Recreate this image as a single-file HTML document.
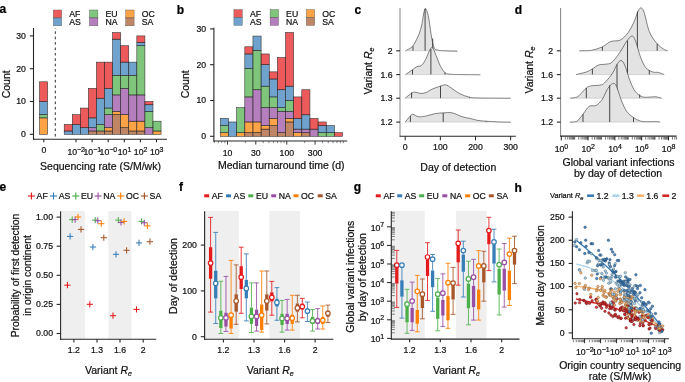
<!DOCTYPE html>
<html><head><meta charset="utf-8"><style>
html,body{margin:0;padding:0;background:#fff;width:685px;height:382px;overflow:hidden}
svg{display:block;font-family:"Liberation Sans",sans-serif;will-change:transform}
</style></head><body>
<svg width="685" height="382" viewBox="0 0 685 382">
<text x="-0.4" y="12.7" font-size="12" text-anchor="start" font-weight="bold" fill="#000" stroke="#000" stroke-width="0.22" >a</text>
<rect x="64.2" y="131.02" width="8.07" height="3.28" fill="#377EB8" stroke="#2a2a2a" stroke-width="0.55" fill-opacity="0.72"/>
<rect x="64.2" y="124.46" width="8.07" height="6.56" fill="#E41A1C" stroke="#2a2a2a" stroke-width="0.55" fill-opacity="0.72"/>
<rect x="72.27" y="124.46" width="8.07" height="9.84" fill="#377EB8" stroke="#2a2a2a" stroke-width="0.55" fill-opacity="0.72"/>
<rect x="72.27" y="114.62" width="8.07" height="9.84" fill="#E41A1C" stroke="#2a2a2a" stroke-width="0.55" fill-opacity="0.72"/>
<rect x="80.34" y="127.74" width="8.07" height="6.56" fill="#377EB8" stroke="#2a2a2a" stroke-width="0.55" fill-opacity="0.72"/>
<rect x="80.34" y="108.06" width="8.07" height="19.68" fill="#E41A1C" stroke="#2a2a2a" stroke-width="0.55" fill-opacity="0.72"/>
<rect x="88.41" y="131.02" width="8.07" height="3.28" fill="#A65628" stroke="#2a2a2a" stroke-width="0.55" fill-opacity="0.72"/>
<rect x="88.41" y="127.74" width="8.07" height="3.28" fill="#984EA3" stroke="#2a2a2a" stroke-width="0.55" fill-opacity="0.72"/>
<rect x="88.41" y="117.9" width="8.07" height="9.84" fill="#377EB8" stroke="#2a2a2a" stroke-width="0.55" fill-opacity="0.72"/>
<rect x="88.41" y="88.38" width="8.07" height="29.52" fill="#E41A1C" stroke="#2a2a2a" stroke-width="0.55" fill-opacity="0.72"/>
<rect x="96.48" y="131.02" width="8.07" height="3.28" fill="#A65628" stroke="#2a2a2a" stroke-width="0.55" fill-opacity="0.72"/>
<rect x="96.48" y="124.46" width="8.07" height="6.56" fill="#4DAF4A" stroke="#2a2a2a" stroke-width="0.55" fill-opacity="0.72"/>
<rect x="96.48" y="98.22" width="8.07" height="26.24" fill="#377EB8" stroke="#2a2a2a" stroke-width="0.55" fill-opacity="0.72"/>
<rect x="96.48" y="62.14" width="8.07" height="36.08" fill="#E41A1C" stroke="#2a2a2a" stroke-width="0.55" fill-opacity="0.72"/>
<rect x="104.55" y="131.02" width="8.07" height="3.28" fill="#A65628" stroke="#2a2a2a" stroke-width="0.55" fill-opacity="0.72"/>
<rect x="104.55" y="127.74" width="8.07" height="3.28" fill="#FF7F00" stroke="#2a2a2a" stroke-width="0.55" fill-opacity="0.72"/>
<rect x="104.55" y="114.62" width="8.07" height="13.12" fill="#984EA3" stroke="#2a2a2a" stroke-width="0.55" fill-opacity="0.72"/>
<rect x="104.55" y="108.06" width="8.07" height="6.56" fill="#4DAF4A" stroke="#2a2a2a" stroke-width="0.55" fill-opacity="0.72"/>
<rect x="104.55" y="88.38" width="8.07" height="19.68" fill="#377EB8" stroke="#2a2a2a" stroke-width="0.55" fill-opacity="0.72"/>
<rect x="104.55" y="62.14" width="8.07" height="26.24" fill="#E41A1C" stroke="#2a2a2a" stroke-width="0.55" fill-opacity="0.72"/>
<rect x="112.62" y="114.62" width="8.07" height="19.68" fill="#A65628" stroke="#2a2a2a" stroke-width="0.55" fill-opacity="0.72"/>
<rect x="112.62" y="111.34" width="8.07" height="3.28" fill="#FF7F00" stroke="#2a2a2a" stroke-width="0.55" fill-opacity="0.72"/>
<rect x="112.62" y="94.94" width="8.07" height="16.4" fill="#984EA3" stroke="#2a2a2a" stroke-width="0.55" fill-opacity="0.72"/>
<rect x="112.62" y="75.26" width="8.07" height="19.68" fill="#4DAF4A" stroke="#2a2a2a" stroke-width="0.55" fill-opacity="0.72"/>
<rect x="112.62" y="39.18" width="8.07" height="36.08" fill="#377EB8" stroke="#2a2a2a" stroke-width="0.55" fill-opacity="0.72"/>
<rect x="112.62" y="32.62" width="8.07" height="6.56" fill="#E41A1C" stroke="#2a2a2a" stroke-width="0.55" fill-opacity="0.72"/>
<rect x="120.69" y="127.74" width="8.07" height="6.56" fill="#A65628" stroke="#2a2a2a" stroke-width="0.55" fill-opacity="0.72"/>
<rect x="120.69" y="114.62" width="8.07" height="13.12" fill="#FF7F00" stroke="#2a2a2a" stroke-width="0.55" fill-opacity="0.72"/>
<rect x="120.69" y="88.38" width="8.07" height="26.24" fill="#984EA3" stroke="#2a2a2a" stroke-width="0.55" fill-opacity="0.72"/>
<rect x="120.69" y="75.26" width="8.07" height="13.12" fill="#4DAF4A" stroke="#2a2a2a" stroke-width="0.55" fill-opacity="0.72"/>
<rect x="120.69" y="62.14" width="8.07" height="13.12" fill="#377EB8" stroke="#2a2a2a" stroke-width="0.55" fill-opacity="0.72"/>
<rect x="120.69" y="45.74" width="8.07" height="16.4" fill="#E41A1C" stroke="#2a2a2a" stroke-width="0.55" fill-opacity="0.72"/>
<rect x="128.76" y="131.02" width="8.07" height="3.28" fill="#A65628" stroke="#2a2a2a" stroke-width="0.55" fill-opacity="0.72"/>
<rect x="128.76" y="121.18" width="8.07" height="9.84" fill="#FF7F00" stroke="#2a2a2a" stroke-width="0.55" fill-opacity="0.72"/>
<rect x="128.76" y="94.94" width="8.07" height="26.24" fill="#984EA3" stroke="#2a2a2a" stroke-width="0.55" fill-opacity="0.72"/>
<rect x="128.76" y="75.26" width="8.07" height="19.68" fill="#4DAF4A" stroke="#2a2a2a" stroke-width="0.55" fill-opacity="0.72"/>
<rect x="128.76" y="62.14" width="8.07" height="13.12" fill="#377EB8" stroke="#2a2a2a" stroke-width="0.55" fill-opacity="0.72"/>
<rect x="136.83" y="131.02" width="8.07" height="3.28" fill="#A65628" stroke="#2a2a2a" stroke-width="0.55" fill-opacity="0.72"/>
<rect x="136.83" y="121.18" width="8.07" height="9.84" fill="#FF7F00" stroke="#2a2a2a" stroke-width="0.55" fill-opacity="0.72"/>
<rect x="136.83" y="94.94" width="8.07" height="26.24" fill="#984EA3" stroke="#2a2a2a" stroke-width="0.55" fill-opacity="0.72"/>
<rect x="136.83" y="45.74" width="8.07" height="49.2" fill="#4DAF4A" stroke="#2a2a2a" stroke-width="0.55" fill-opacity="0.72"/>
<rect x="136.83" y="42.46" width="8.07" height="3.28" fill="#377EB8" stroke="#2a2a2a" stroke-width="0.55" fill-opacity="0.72"/>
<rect x="136.83" y="35.9" width="8.07" height="6.56" fill="#E41A1C" stroke="#2a2a2a" stroke-width="0.55" fill-opacity="0.72"/>
<rect x="144.9" y="127.74" width="8.07" height="6.56" fill="#984EA3" stroke="#2a2a2a" stroke-width="0.55" fill-opacity="0.72"/>
<rect x="144.9" y="111.34" width="8.07" height="16.4" fill="#4DAF4A" stroke="#2a2a2a" stroke-width="0.55" fill-opacity="0.72"/>
<rect x="144.9" y="104.78" width="8.07" height="6.56" fill="#377EB8" stroke="#2a2a2a" stroke-width="0.55" fill-opacity="0.72"/>
<rect x="144.9" y="101.5" width="8.07" height="3.28" fill="#E41A1C" stroke="#2a2a2a" stroke-width="0.55" fill-opacity="0.72"/>
<rect x="152.97" y="131.02" width="8.07" height="3.28" fill="#FF7F00" stroke="#2a2a2a" stroke-width="0.55" fill-opacity="0.72"/>
<rect x="152.97" y="121.18" width="8.07" height="9.84" fill="#4DAF4A" stroke="#2a2a2a" stroke-width="0.55" fill-opacity="0.72"/>
<rect x="39.55" y="117.9" width="8.07" height="16.4" fill="#FF7F00" stroke="#2a2a2a" stroke-width="0.55" fill-opacity="0.72"/>
<rect x="39.55" y="114.62" width="8.07" height="3.28" fill="#4DAF4A" stroke="#2a2a2a" stroke-width="0.55" fill-opacity="0.72"/>
<rect x="39.55" y="101.5" width="8.07" height="13.12" fill="#377EB8" stroke="#2a2a2a" stroke-width="0.55" fill-opacity="0.72"/>
<rect x="39.55" y="81.82" width="8.07" height="19.68" fill="#E41A1C" stroke="#2a2a2a" stroke-width="0.55" fill-opacity="0.72"/>
<line x1="55.3" y1="28" x2="55.3" y2="139.2" stroke="#222" stroke-width="0.95" stroke-dasharray="2.6,2.8" stroke-dashoffset="2.1"/>
<line x1="33.5" y1="28" x2="33.5" y2="139.6" stroke="#262626" stroke-width="1.1" />
<line x1="33.1" y1="139.2" x2="167" y2="139.2" stroke="#262626" stroke-width="1.1" />
<line x1="29.8" y1="134.3" x2="33.5" y2="134.3" stroke="#262626" stroke-width="1.1" />
<text x="25.8" y="137.2" font-size="8.7" text-anchor="end" font-weight="normal" fill="#111111" stroke="#111111" stroke-width="0.22" >0</text>
<line x1="29.8" y1="101.5" x2="33.5" y2="101.5" stroke="#262626" stroke-width="1.1" />
<text x="25.8" y="104.4" font-size="8.7" text-anchor="end" font-weight="normal" fill="#111111" stroke="#111111" stroke-width="0.22" >10</text>
<line x1="29.8" y1="68.7" x2="33.5" y2="68.7" stroke="#262626" stroke-width="1.1" />
<text x="25.8" y="71.6" font-size="8.7" text-anchor="end" font-weight="normal" fill="#111111" stroke="#111111" stroke-width="0.22" >20</text>
<line x1="29.8" y1="35.9" x2="33.5" y2="35.9" stroke="#262626" stroke-width="1.1" />
<text x="25.8" y="38.8" font-size="8.7" text-anchor="end" font-weight="normal" fill="#111111" stroke="#111111" stroke-width="0.22" >30</text>
<line x1="43.8" y1="139.2" x2="43.8" y2="142.3" stroke="#262626" stroke-width="1.1" />
<line x1="76" y1="139.2" x2="76" y2="142.3" stroke="#262626" stroke-width="1.1" />
<line x1="92.1" y1="139.2" x2="92.1" y2="142.3" stroke="#262626" stroke-width="1.1" />
<line x1="108.2" y1="139.2" x2="108.2" y2="142.3" stroke="#262626" stroke-width="1.1" />
<line x1="124.3" y1="139.2" x2="124.3" y2="142.3" stroke="#262626" stroke-width="1.1" />
<line x1="140.4" y1="139.2" x2="140.4" y2="142.3" stroke="#262626" stroke-width="1.1" />
<line x1="156.5" y1="139.2" x2="156.5" y2="142.3" stroke="#262626" stroke-width="1.1" />
<text x="43.8" y="153.3" font-size="8.7" text-anchor="middle" font-weight="normal" fill="#111111" stroke="#111111" stroke-width="0.22" >0</text>
<text x="76.2" y="155.2" font-size="8.7" text-anchor="middle" font-weight="normal" fill="#111111" stroke="#111111" stroke-width="0.22" >10<tspan font-size="6.96" dy="-3.6">−2</tspan></text>
<text x="92.3" y="155.2" font-size="8.7" text-anchor="middle" font-weight="normal" fill="#111111" stroke="#111111" stroke-width="0.22" >10<tspan font-size="6.96" dy="-3.6">−1</tspan></text>
<text x="108.4" y="155.2" font-size="8.7" text-anchor="middle" font-weight="normal" fill="#111111" stroke="#111111" stroke-width="0.22" >10<tspan font-size="6.96" dy="-3.6">−0</tspan></text>
<text x="124.5" y="155.2" font-size="8.7" text-anchor="middle" font-weight="normal" fill="#111111" stroke="#111111" stroke-width="0.22" >10<tspan font-size="6.96" dy="-3.6">1</tspan></text>
<text x="140.6" y="155.2" font-size="8.7" text-anchor="middle" font-weight="normal" fill="#111111" stroke="#111111" stroke-width="0.22" >10<tspan font-size="6.96" dy="-3.6">2</tspan></text>
<text x="156.7" y="155.2" font-size="8.7" text-anchor="middle" font-weight="normal" fill="#111111" stroke="#111111" stroke-width="0.22" >10<tspan font-size="6.96" dy="-3.6">3</tspan></text>
<text x="100.5" y="169.8" font-size="10.5" text-anchor="middle" font-weight="normal" fill="#111111" stroke="#111111" stroke-width="0.22" >Sequencing rate (S/M/wk)</text>
<text x="10" y="84.3" font-size="10.5" text-anchor="middle" font-weight="normal" fill="#111111" stroke="#111111" stroke-width="0.22" transform="rotate(-90 10.0 84.3)">Count</text>
<rect x="53.3" y="10" width="8.4" height="7.9" fill="#E41A1C" stroke="#555" stroke-width="0.4" fill-opacity="0.72"/>
<rect x="53.3" y="17.9" width="8.4" height="7.9" fill="#377EB8" stroke="#555" stroke-width="0.4" fill-opacity="0.72"/>
<text x="69.3" y="16.9" font-size="8.7" text-anchor="start" font-weight="normal" fill="#111111" stroke="#111111" stroke-width="0.22" >AF</text>
<text x="69.3" y="24.9" font-size="8.7" text-anchor="start" font-weight="normal" fill="#111111" stroke="#111111" stroke-width="0.22" >AS</text>
<rect x="89.5" y="10" width="8.4" height="7.9" fill="#4DAF4A" stroke="#555" stroke-width="0.4" fill-opacity="0.72"/>
<rect x="89.5" y="17.9" width="8.4" height="7.9" fill="#984EA3" stroke="#555" stroke-width="0.4" fill-opacity="0.72"/>
<text x="105.5" y="16.9" font-size="8.7" text-anchor="start" font-weight="normal" fill="#111111" stroke="#111111" stroke-width="0.22" >EU</text>
<text x="105.5" y="24.9" font-size="8.7" text-anchor="start" font-weight="normal" fill="#111111" stroke="#111111" stroke-width="0.22" >NA</text>
<rect x="125.7" y="10" width="8.4" height="7.9" fill="#FF7F00" stroke="#555" stroke-width="0.4" fill-opacity="0.72"/>
<rect x="125.7" y="17.9" width="8.4" height="7.9" fill="#A65628" stroke="#555" stroke-width="0.4" fill-opacity="0.72"/>
<text x="141.7" y="16.9" font-size="8.7" text-anchor="start" font-weight="normal" fill="#111111" stroke="#111111" stroke-width="0.22" >OC</text>
<text x="141.7" y="24.9" font-size="8.7" text-anchor="start" font-weight="normal" fill="#111111" stroke="#111111" stroke-width="0.22" >SA</text>
<text x="176.8" y="14" font-size="12" text-anchor="start" font-weight="bold" fill="#000" stroke="#000" stroke-width="0.22" >b</text>
<rect x="220.4" y="132.72" width="8.14" height="3.58" fill="#FF7F00" stroke="#2a2a2a" stroke-width="0.55" fill-opacity="0.72"/>
<rect x="220.4" y="125.56" width="8.14" height="7.16" fill="#4DAF4A" stroke="#2a2a2a" stroke-width="0.55" fill-opacity="0.72"/>
<rect x="220.4" y="118.4" width="8.14" height="7.16" fill="#377EB8" stroke="#2a2a2a" stroke-width="0.55" fill-opacity="0.72"/>
<rect x="228.54" y="121.98" width="8.14" height="14.32" fill="#377EB8" stroke="#2a2a2a" stroke-width="0.55" fill-opacity="0.72"/>
<rect x="236.68" y="132.72" width="8.14" height="3.58" fill="#FF7F00" stroke="#2a2a2a" stroke-width="0.55" fill-opacity="0.72"/>
<rect x="236.68" y="107.66" width="8.14" height="25.06" fill="#4DAF4A" stroke="#2a2a2a" stroke-width="0.55" fill-opacity="0.72"/>
<rect x="244.82" y="132.72" width="8.14" height="3.58" fill="#A65628" stroke="#2a2a2a" stroke-width="0.55" fill-opacity="0.72"/>
<rect x="244.82" y="121.98" width="8.14" height="10.74" fill="#FF7F00" stroke="#2a2a2a" stroke-width="0.55" fill-opacity="0.72"/>
<rect x="244.82" y="96.92" width="8.14" height="25.06" fill="#984EA3" stroke="#2a2a2a" stroke-width="0.55" fill-opacity="0.72"/>
<rect x="244.82" y="68.28" width="8.14" height="28.64" fill="#4DAF4A" stroke="#2a2a2a" stroke-width="0.55" fill-opacity="0.72"/>
<rect x="244.82" y="53.96" width="8.14" height="14.32" fill="#377EB8" stroke="#2a2a2a" stroke-width="0.55" fill-opacity="0.72"/>
<rect x="244.82" y="46.8" width="8.14" height="7.16" fill="#E41A1C" stroke="#2a2a2a" stroke-width="0.55" fill-opacity="0.72"/>
<rect x="252.96" y="132.72" width="8.14" height="3.58" fill="#A65628" stroke="#2a2a2a" stroke-width="0.55" fill-opacity="0.72"/>
<rect x="252.96" y="121.98" width="8.14" height="10.74" fill="#FF7F00" stroke="#2a2a2a" stroke-width="0.55" fill-opacity="0.72"/>
<rect x="252.96" y="89.76" width="8.14" height="32.22" fill="#984EA3" stroke="#2a2a2a" stroke-width="0.55" fill-opacity="0.72"/>
<rect x="252.96" y="50.38" width="8.14" height="39.38" fill="#4DAF4A" stroke="#2a2a2a" stroke-width="0.55" fill-opacity="0.72"/>
<rect x="252.96" y="36.06" width="8.14" height="14.32" fill="#377EB8" stroke="#2a2a2a" stroke-width="0.55" fill-opacity="0.72"/>
<rect x="261.1" y="129.14" width="8.14" height="7.16" fill="#A65628" stroke="#2a2a2a" stroke-width="0.55" fill-opacity="0.72"/>
<rect x="261.1" y="125.56" width="8.14" height="3.58" fill="#FF7F00" stroke="#2a2a2a" stroke-width="0.55" fill-opacity="0.72"/>
<rect x="261.1" y="107.66" width="8.14" height="17.9" fill="#984EA3" stroke="#2a2a2a" stroke-width="0.55" fill-opacity="0.72"/>
<rect x="261.1" y="86.18" width="8.14" height="21.48" fill="#4DAF4A" stroke="#2a2a2a" stroke-width="0.55" fill-opacity="0.72"/>
<rect x="261.1" y="64.7" width="8.14" height="21.48" fill="#377EB8" stroke="#2a2a2a" stroke-width="0.55" fill-opacity="0.72"/>
<rect x="261.1" y="53.96" width="8.14" height="10.74" fill="#E41A1C" stroke="#2a2a2a" stroke-width="0.55" fill-opacity="0.72"/>
<rect x="269.24" y="125.56" width="8.14" height="10.74" fill="#A65628" stroke="#2a2a2a" stroke-width="0.55" fill-opacity="0.72"/>
<rect x="269.24" y="118.4" width="8.14" height="7.16" fill="#FF7F00" stroke="#2a2a2a" stroke-width="0.55" fill-opacity="0.72"/>
<rect x="269.24" y="107.66" width="8.14" height="10.74" fill="#984EA3" stroke="#2a2a2a" stroke-width="0.55" fill-opacity="0.72"/>
<rect x="269.24" y="96.92" width="8.14" height="10.74" fill="#4DAF4A" stroke="#2a2a2a" stroke-width="0.55" fill-opacity="0.72"/>
<rect x="269.24" y="79.02" width="8.14" height="17.9" fill="#377EB8" stroke="#2a2a2a" stroke-width="0.55" fill-opacity="0.72"/>
<rect x="269.24" y="71.86" width="8.14" height="7.16" fill="#E41A1C" stroke="#2a2a2a" stroke-width="0.55" fill-opacity="0.72"/>
<rect x="277.38" y="132.72" width="8.14" height="3.58" fill="#A65628" stroke="#2a2a2a" stroke-width="0.55" fill-opacity="0.72"/>
<rect x="277.38" y="111.24" width="8.14" height="21.48" fill="#984EA3" stroke="#2a2a2a" stroke-width="0.55" fill-opacity="0.72"/>
<rect x="277.38" y="107.66" width="8.14" height="3.58" fill="#4DAF4A" stroke="#2a2a2a" stroke-width="0.55" fill-opacity="0.72"/>
<rect x="277.38" y="89.76" width="8.14" height="17.9" fill="#377EB8" stroke="#2a2a2a" stroke-width="0.55" fill-opacity="0.72"/>
<rect x="277.38" y="57.54" width="8.14" height="32.22" fill="#E41A1C" stroke="#2a2a2a" stroke-width="0.55" fill-opacity="0.72"/>
<rect x="285.52" y="121.98" width="8.14" height="14.32" fill="#A65628" stroke="#2a2a2a" stroke-width="0.55" fill-opacity="0.72"/>
<rect x="285.52" y="118.4" width="8.14" height="3.58" fill="#FF7F00" stroke="#2a2a2a" stroke-width="0.55" fill-opacity="0.72"/>
<rect x="285.52" y="111.24" width="8.14" height="7.16" fill="#984EA3" stroke="#2a2a2a" stroke-width="0.55" fill-opacity="0.72"/>
<rect x="285.52" y="100.5" width="8.14" height="10.74" fill="#4DAF4A" stroke="#2a2a2a" stroke-width="0.55" fill-opacity="0.72"/>
<rect x="285.52" y="86.18" width="8.14" height="14.32" fill="#377EB8" stroke="#2a2a2a" stroke-width="0.55" fill-opacity="0.72"/>
<rect x="285.52" y="32.48" width="8.14" height="53.7" fill="#E41A1C" stroke="#2a2a2a" stroke-width="0.55" fill-opacity="0.72"/>
<rect x="293.66" y="132.72" width="8.14" height="3.58" fill="#FF7F00" stroke="#2a2a2a" stroke-width="0.55" fill-opacity="0.72"/>
<rect x="293.66" y="129.14" width="8.14" height="3.58" fill="#984EA3" stroke="#2a2a2a" stroke-width="0.55" fill-opacity="0.72"/>
<rect x="293.66" y="118.4" width="8.14" height="10.74" fill="#377EB8" stroke="#2a2a2a" stroke-width="0.55" fill-opacity="0.72"/>
<rect x="293.66" y="96.92" width="8.14" height="21.48" fill="#E41A1C" stroke="#2a2a2a" stroke-width="0.55" fill-opacity="0.72"/>
<rect x="301.8" y="132.72" width="8.14" height="3.58" fill="#A65628" stroke="#2a2a2a" stroke-width="0.55" fill-opacity="0.72"/>
<rect x="301.8" y="129.14" width="8.14" height="3.58" fill="#984EA3" stroke="#2a2a2a" stroke-width="0.55" fill-opacity="0.72"/>
<rect x="301.8" y="114.82" width="8.14" height="14.32" fill="#377EB8" stroke="#2a2a2a" stroke-width="0.55" fill-opacity="0.72"/>
<rect x="301.8" y="89.76" width="8.14" height="25.06" fill="#E41A1C" stroke="#2a2a2a" stroke-width="0.55" fill-opacity="0.72"/>
<rect x="309.94" y="129.14" width="8.14" height="7.16" fill="#984EA3" stroke="#2a2a2a" stroke-width="0.55" fill-opacity="0.72"/>
<rect x="309.94" y="118.4" width="8.14" height="10.74" fill="#E41A1C" stroke="#2a2a2a" stroke-width="0.55" fill-opacity="0.72"/>
<rect x="318.08" y="132.72" width="8.14" height="3.58" fill="#4DAF4A" stroke="#2a2a2a" stroke-width="0.55" fill-opacity="0.72"/>
<rect x="318.08" y="125.56" width="8.14" height="7.16" fill="#377EB8" stroke="#2a2a2a" stroke-width="0.55" fill-opacity="0.72"/>
<rect x="318.08" y="121.98" width="8.14" height="3.58" fill="#E41A1C" stroke="#2a2a2a" stroke-width="0.55" fill-opacity="0.72"/>
<rect x="326.22" y="132.72" width="8.14" height="3.58" fill="#4DAF4A" stroke="#2a2a2a" stroke-width="0.55" fill-opacity="0.72"/>
<rect x="326.22" y="125.56" width="8.14" height="7.16" fill="#377EB8" stroke="#2a2a2a" stroke-width="0.55" fill-opacity="0.72"/>
<rect x="334.36" y="132.72" width="8.14" height="3.58" fill="#E41A1C" stroke="#2a2a2a" stroke-width="0.55" fill-opacity="0.72"/>
<line x1="213.9" y1="27.8" x2="213.9" y2="141.4" stroke="#262626" stroke-width="1.1" />
<line x1="213.5" y1="141" x2="347.2" y2="141" stroke="#262626" stroke-width="1.1" />
<line x1="210.1" y1="136.3" x2="213.9" y2="136.3" stroke="#262626" stroke-width="1.1" />
<text x="206.2" y="139.2" font-size="8.7" text-anchor="end" font-weight="normal" fill="#111111" stroke="#111111" stroke-width="0.22" >0</text>
<line x1="210.1" y1="100.5" x2="213.9" y2="100.5" stroke="#262626" stroke-width="1.1" />
<text x="206.2" y="103.4" font-size="8.7" text-anchor="end" font-weight="normal" fill="#111111" stroke="#111111" stroke-width="0.22" >10</text>
<line x1="210.1" y1="64.7" x2="213.9" y2="64.7" stroke="#262626" stroke-width="1.1" />
<text x="206.2" y="67.6" font-size="8.7" text-anchor="end" font-weight="normal" fill="#111111" stroke="#111111" stroke-width="0.22" >20</text>
<line x1="210.1" y1="28.9" x2="213.9" y2="28.9" stroke="#262626" stroke-width="1.1" />
<text x="206.2" y="31.8" font-size="8.7" text-anchor="end" font-weight="normal" fill="#111111" stroke="#111111" stroke-width="0.22" >30</text>
<line x1="214.34" y1="141" x2="214.34" y2="143.2" stroke="#262626" stroke-width="0.55" />
<line x1="218.31" y1="141" x2="218.31" y2="143.2" stroke="#262626" stroke-width="0.55" />
<line x1="221.75" y1="141" x2="221.75" y2="143.2" stroke="#262626" stroke-width="0.55" />
<line x1="224.79" y1="141" x2="224.79" y2="143.2" stroke="#262626" stroke-width="0.55" />
<line x1="227.5" y1="141" x2="227.5" y2="144.6" stroke="#262626" stroke-width="0.9" />
<line x1="245.35" y1="141" x2="245.35" y2="143.2" stroke="#262626" stroke-width="0.55" />
<line x1="255.79" y1="141" x2="255.79" y2="144.6" stroke="#262626" stroke-width="0.9" />
<line x1="263.2" y1="141" x2="263.2" y2="143.2" stroke="#262626" stroke-width="0.55" />
<line x1="268.95" y1="141" x2="268.95" y2="143.2" stroke="#262626" stroke-width="0.55" />
<line x1="273.64" y1="141" x2="273.64" y2="143.2" stroke="#262626" stroke-width="0.55" />
<line x1="277.61" y1="141" x2="277.61" y2="143.2" stroke="#262626" stroke-width="0.55" />
<line x1="281.05" y1="141" x2="281.05" y2="143.2" stroke="#262626" stroke-width="0.55" />
<line x1="284.09" y1="141" x2="284.09" y2="143.2" stroke="#262626" stroke-width="0.55" />
<line x1="286.8" y1="141" x2="286.8" y2="144.6" stroke="#262626" stroke-width="0.9" />
<line x1="304.65" y1="141" x2="304.65" y2="143.2" stroke="#262626" stroke-width="0.55" />
<line x1="315.09" y1="141" x2="315.09" y2="144.6" stroke="#262626" stroke-width="0.9" />
<line x1="322.5" y1="141" x2="322.5" y2="143.2" stroke="#262626" stroke-width="0.55" />
<line x1="328.25" y1="141" x2="328.25" y2="143.2" stroke="#262626" stroke-width="0.55" />
<line x1="332.94" y1="141" x2="332.94" y2="143.2" stroke="#262626" stroke-width="0.55" />
<line x1="336.91" y1="141" x2="336.91" y2="143.2" stroke="#262626" stroke-width="0.55" />
<line x1="340.35" y1="141" x2="340.35" y2="143.2" stroke="#262626" stroke-width="0.55" />
<line x1="343.39" y1="141" x2="343.39" y2="143.2" stroke="#262626" stroke-width="0.55" />
<text x="227.5" y="155.9" font-size="8.7" text-anchor="middle" font-weight="normal" fill="#111111" stroke="#111111" stroke-width="0.22" >10</text>
<text x="255.79" y="155.9" font-size="8.7" text-anchor="middle" font-weight="normal" fill="#111111" stroke="#111111" stroke-width="0.22" >30</text>
<text x="286.8" y="155.9" font-size="8.7" text-anchor="middle" font-weight="normal" fill="#111111" stroke="#111111" stroke-width="0.22" >100</text>
<text x="315.09" y="155.9" font-size="8.7" text-anchor="middle" font-weight="normal" fill="#111111" stroke="#111111" stroke-width="0.22" >300</text>
<text x="281.3" y="169.3" font-size="10.5" text-anchor="middle" font-weight="normal" fill="#111111" stroke="#111111" stroke-width="0.22" >Median turnaround time (d)</text>
<text x="189.5" y="84.3" font-size="10.5" text-anchor="middle" font-weight="normal" fill="#111111" stroke="#111111" stroke-width="0.22" transform="rotate(-90 189.5 84.3)">Count</text>
<rect x="233.9" y="9.6" width="8.4" height="7.9" fill="#E41A1C" stroke="#555" stroke-width="0.4" fill-opacity="0.72"/>
<rect x="233.9" y="17.5" width="8.4" height="7.9" fill="#377EB8" stroke="#555" stroke-width="0.4" fill-opacity="0.72"/>
<text x="249.9" y="16.5" font-size="8.7" text-anchor="start" font-weight="normal" fill="#111111" stroke="#111111" stroke-width="0.22" >AF</text>
<text x="249.9" y="24.5" font-size="8.7" text-anchor="start" font-weight="normal" fill="#111111" stroke="#111111" stroke-width="0.22" >AS</text>
<rect x="270.1" y="9.6" width="8.4" height="7.9" fill="#4DAF4A" stroke="#555" stroke-width="0.4" fill-opacity="0.72"/>
<rect x="270.1" y="17.5" width="8.4" height="7.9" fill="#984EA3" stroke="#555" stroke-width="0.4" fill-opacity="0.72"/>
<text x="286.1" y="16.5" font-size="8.7" text-anchor="start" font-weight="normal" fill="#111111" stroke="#111111" stroke-width="0.22" >EU</text>
<text x="286.1" y="24.5" font-size="8.7" text-anchor="start" font-weight="normal" fill="#111111" stroke="#111111" stroke-width="0.22" >NA</text>
<rect x="306.3" y="9.6" width="8.4" height="7.9" fill="#FF7F00" stroke="#555" stroke-width="0.4" fill-opacity="0.72"/>
<rect x="306.3" y="17.5" width="8.4" height="7.9" fill="#A65628" stroke="#555" stroke-width="0.4" fill-opacity="0.72"/>
<text x="322.3" y="16.5" font-size="8.7" text-anchor="start" font-weight="normal" fill="#111111" stroke="#111111" stroke-width="0.22" >OC</text>
<text x="322.3" y="24.5" font-size="8.7" text-anchor="start" font-weight="normal" fill="#111111" stroke="#111111" stroke-width="0.22" >SA</text>
<text x="354.6" y="14" font-size="12" text-anchor="start" font-weight="bold" fill="#000" stroke="#000" stroke-width="0.22" >c</text>
<path d="M405.5,50.8 C406.67,50.07 410.45,48.73 412.5,46.4 C414.55,44.07 416.33,40.03 417.8,36.8 C419.27,33.57 420.33,30.8 421.3,27 C422.27,23.2 422.93,17.1 423.6,14 C424.27,10.9 424.7,8.73 425.3,8.4 C425.9,8.07 426.55,9.9 427.2,12 C427.85,14.1 428.43,16.58 429.2,21 C429.97,25.42 430.93,33.97 431.8,38.5 C432.67,43.03 433.23,46.23 434.4,48.2 C435.57,50.17 436.7,49.85 438.8,50.3 C440.9,50.75 443.9,50.75 447,50.9 C450.1,51.05 455.67,51.15 457.4,51.2 L457.4,50.8 L405.5,50.8 Z" fill="#e3e3e3" stroke="none"/>
<line x1="413" y1="50.8" x2="413" y2="46.2" stroke="#333" stroke-width="0.9" />
<line x1="425.1" y1="50.8" x2="425.1" y2="8.8" stroke="#333" stroke-width="0.9" />
<line x1="432.7" y1="50.8" x2="432.7" y2="38.5" stroke="#333" stroke-width="0.9" />
<path d="M405.5,50.8 C406.67,50.07 410.45,48.73 412.5,46.4 C414.55,44.07 416.33,40.03 417.8,36.8 C419.27,33.57 420.33,30.8 421.3,27 C422.27,23.2 422.93,17.1 423.6,14 C424.27,10.9 424.7,8.73 425.3,8.4 C425.9,8.07 426.55,9.9 427.2,12 C427.85,14.1 428.43,16.58 429.2,21 C429.97,25.42 430.93,33.97 431.8,38.5 C432.67,43.03 433.23,46.23 434.4,48.2 C435.57,50.17 436.7,49.85 438.8,50.3 C440.9,50.75 443.9,50.75 447,50.9 C450.1,51.05 455.67,51.15 457.4,51.2" fill="none" stroke="#333" stroke-width="0.6"/>
<line x1="405.5" y1="50.8" x2="457.4" y2="50.8" stroke="#999" stroke-width="0.35" />
<path d="M405.5,74.6 C406.67,73.8 410.6,71.13 412.5,69.8 C414.4,68.47 415.43,67.3 416.9,66.6 C418.37,65.9 419.83,66.82 421.3,65.6 C422.77,64.38 424.25,61.97 425.7,59.3 C427.15,56.63 428.83,51.5 430,49.6 C431.17,47.7 431.67,46.87 432.7,47.9 C433.73,48.93 434.9,52.73 436.2,55.8 C437.5,58.87 439.05,63.53 440.5,66.3 C441.95,69.07 443.43,71.08 444.9,72.4 C446.37,73.72 445.95,73.83 449.3,74.2 C452.65,74.57 459.83,74.5 465,74.6 C470.17,74.7 477.75,74.77 480.3,74.8 L480.3,74.6 L405.5,74.6 Z" fill="#e3e3e3" stroke="none"/>
<line x1="412.5" y1="74.6" x2="412.5" y2="69.6" stroke="#333" stroke-width="0.9" />
<line x1="430.9" y1="74.6" x2="430.9" y2="49" stroke="#333" stroke-width="0.9" />
<line x1="444.9" y1="74.6" x2="444.9" y2="72.4" stroke="#333" stroke-width="0.9" />
<path d="M405.5,74.6 C406.67,73.8 410.6,71.13 412.5,69.8 C414.4,68.47 415.43,67.3 416.9,66.6 C418.37,65.9 419.83,66.82 421.3,65.6 C422.77,64.38 424.25,61.97 425.7,59.3 C427.15,56.63 428.83,51.5 430,49.6 C431.17,47.7 431.67,46.87 432.7,47.9 C433.73,48.93 434.9,52.73 436.2,55.8 C437.5,58.87 439.05,63.53 440.5,66.3 C441.95,69.07 443.43,71.08 444.9,72.4 C446.37,73.72 445.95,73.83 449.3,74.2 C452.65,74.57 459.83,74.5 465,74.6 C470.17,74.7 477.75,74.77 480.3,74.8" fill="none" stroke="#333" stroke-width="0.6"/>
<line x1="405.5" y1="74.6" x2="480.3" y2="74.6" stroke="#999" stroke-width="0.35" />
<path d="M405.2,98.2 C406.37,97.3 410.4,93.78 412.2,92.8 C414,91.82 414.48,92.18 416,92.3 C417.52,92.42 419.55,93.5 421.3,93.5 C423.05,93.5 424.75,93 426.5,92.3 C428.25,91.6 429.47,90.33 431.8,89.3 C434.13,88.27 438.17,86.83 440.5,86.1 C442.83,85.37 444.03,84.6 445.8,84.9 C447.57,85.2 448.77,86.43 451.1,87.9 C453.43,89.37 456.73,92.15 459.8,93.7 C462.87,95.25 466.28,96.48 469.5,97.2 C472.72,97.92 472.25,97.82 479.1,98 C485.95,98.18 505.35,98.25 510.6,98.3 L510.6,98.2 L405.2,98.2 Z" fill="#e3e3e3" stroke="none"/>
<line x1="411.6" y1="98.2" x2="411.6" y2="92.5" stroke="#333" stroke-width="0.9" />
<line x1="440.5" y1="98.2" x2="440.5" y2="86.1" stroke="#333" stroke-width="0.9" />
<line x1="469.5" y1="98.2" x2="469.5" y2="97.2" stroke="#333" stroke-width="0.9" />
<path d="M405.2,98.2 C406.37,97.3 410.4,93.78 412.2,92.8 C414,91.82 414.48,92.18 416,92.3 C417.52,92.42 419.55,93.5 421.3,93.5 C423.05,93.5 424.75,93 426.5,92.3 C428.25,91.6 429.47,90.33 431.8,89.3 C434.13,88.27 438.17,86.83 440.5,86.1 C442.83,85.37 444.03,84.6 445.8,84.9 C447.57,85.2 448.77,86.43 451.1,87.9 C453.43,89.37 456.73,92.15 459.8,93.7 C462.87,95.25 466.28,96.48 469.5,97.2 C472.72,97.92 472.25,97.82 479.1,98 C485.95,98.18 505.35,98.25 510.6,98.3" fill="none" stroke="#333" stroke-width="0.6"/>
<line x1="405.2" y1="98.2" x2="510.6" y2="98.2" stroke="#999" stroke-width="0.35" />
<path d="M405.2,122.1 C406.07,121.07 409.12,117.22 410.4,115.9 C411.68,114.58 411.52,114.05 412.9,114.2 C414.28,114.35 416.43,116.52 418.7,116.8 C420.97,117.08 423.73,116.43 426.5,115.9 C429.27,115.37 432.52,114.1 435.3,113.6 C438.08,113.1 440.43,113.03 443.2,112.9 C445.97,112.77 448.7,112.15 451.9,112.8 C455.1,113.45 459.33,115.85 462.4,116.8 C465.47,117.75 467.82,117.92 470.3,118.5 C472.78,119.08 474.67,119.85 477.3,120.3 C479.93,120.75 482.3,120.92 486.1,121.2 C489.9,121.48 496.02,121.83 500.1,122 C504.18,122.17 508.85,122.17 510.6,122.2 L510.6,122.1 L405.2,122.1 Z" fill="#e3e3e3" stroke="none"/>
<line x1="410.4" y1="122.1" x2="410.4" y2="115.9" stroke="#333" stroke-width="0.9" />
<line x1="443.2" y1="122.1" x2="443.2" y2="112.9" stroke="#333" stroke-width="0.9" />
<line x1="486.1" y1="122.1" x2="486.1" y2="121.2" stroke="#333" stroke-width="0.9" />
<path d="M405.2,122.1 C406.07,121.07 409.12,117.22 410.4,115.9 C411.68,114.58 411.52,114.05 412.9,114.2 C414.28,114.35 416.43,116.52 418.7,116.8 C420.97,117.08 423.73,116.43 426.5,115.9 C429.27,115.37 432.52,114.1 435.3,113.6 C438.08,113.1 440.43,113.03 443.2,112.9 C445.97,112.77 448.7,112.15 451.9,112.8 C455.1,113.45 459.33,115.85 462.4,116.8 C465.47,117.75 467.82,117.92 470.3,118.5 C472.78,119.08 474.67,119.85 477.3,120.3 C479.93,120.75 482.3,120.92 486.1,121.2 C489.9,121.48 496.02,121.83 500.1,122 C504.18,122.17 508.85,122.17 510.6,122.2" fill="none" stroke="#333" stroke-width="0.6"/>
<line x1="405.2" y1="122.1" x2="510.6" y2="122.1" stroke="#999" stroke-width="0.35" />
<line x1="400" y1="8" x2="400" y2="136.6" stroke="#777" stroke-width="0.9" />
<line x1="399.6" y1="136.2" x2="515.8" y2="136.2" stroke="#262626" stroke-width="1.1" />
<line x1="396.2" y1="50.8" x2="400" y2="50.8" stroke="#262626" stroke-width="1.1" />
<text x="392.5" y="53.7" font-size="8.7" text-anchor="end" font-weight="normal" fill="#111111" stroke="#111111" stroke-width="0.22" >2</text>
<line x1="396.2" y1="74.6" x2="400" y2="74.6" stroke="#262626" stroke-width="1.1" />
<text x="392.5" y="77.5" font-size="8.7" text-anchor="end" font-weight="normal" fill="#111111" stroke="#111111" stroke-width="0.22" >1.6</text>
<line x1="396.2" y1="98.2" x2="400" y2="98.2" stroke="#262626" stroke-width="1.1" />
<text x="392.5" y="101.1" font-size="8.7" text-anchor="end" font-weight="normal" fill="#111111" stroke="#111111" stroke-width="0.22" >1.3</text>
<line x1="396.2" y1="122.1" x2="400" y2="122.1" stroke="#262626" stroke-width="1.1" />
<text x="392.5" y="125" font-size="8.7" text-anchor="end" font-weight="normal" fill="#111111" stroke="#111111" stroke-width="0.22" >1.2</text>
<line x1="405.2" y1="136.2" x2="405.2" y2="140.3" stroke="#262626" stroke-width="1.0" />
<text x="405.2" y="150.2" font-size="8.7" text-anchor="middle" font-weight="normal" fill="#111111" stroke="#111111" stroke-width="0.22" >0</text>
<line x1="440.35" y1="136.2" x2="440.35" y2="140.3" stroke="#262626" stroke-width="1.0" />
<text x="440.35" y="150.2" font-size="8.7" text-anchor="middle" font-weight="normal" fill="#111111" stroke="#111111" stroke-width="0.22" >100</text>
<line x1="475.5" y1="136.2" x2="475.5" y2="140.3" stroke="#262626" stroke-width="1.0" />
<text x="475.5" y="150.2" font-size="8.7" text-anchor="middle" font-weight="normal" fill="#111111" stroke="#111111" stroke-width="0.22" >200</text>
<line x1="510.65" y1="136.2" x2="510.65" y2="140.3" stroke="#262626" stroke-width="1.0" />
<text x="510.65" y="150.2" font-size="8.7" text-anchor="middle" font-weight="normal" fill="#111111" stroke="#111111" stroke-width="0.22" >300</text>
<text x="458.3" y="171.3" font-size="10.5" text-anchor="middle" font-weight="normal" fill="#111111" stroke="#111111" stroke-width="0.22" >Day of detection</text>
<text x="372.4" y="71" font-size="10.5" text-anchor="middle" font-weight="normal" fill="#111111" stroke="#111111" stroke-width="0.22" transform="rotate(-90 372.4 71)">Variant <tspan font-style="italic">R</tspan><tspan font-style="italic" font-size="7" dy="2">e</tspan></text>
<text x="514.8" y="13.6" font-size="12" text-anchor="start" font-weight="bold" fill="#000" stroke="#000" stroke-width="0.22" >d</text>
<path d="M579.3,50.8 C581.33,50.72 587.72,50.93 591.5,50.3 C595.28,49.67 598.78,48.47 602,47 C605.22,45.53 607.73,42.67 610.8,41.5 C613.87,40.33 617.48,41.52 620.4,40 C623.32,38.48 626.1,35.27 628.3,32.4 C630.5,29.53 631.98,26.3 633.6,22.8 C635.22,19.3 636.78,13.88 638,11.4 C639.22,8.92 639.88,7.75 640.9,7.9 C641.92,8.05 642.7,8.37 644.1,12.3 C645.5,16.23 647.25,26.4 649.3,31.5 C651.35,36.6 654.05,39.98 656.4,42.9 C658.75,45.82 661.52,47.68 663.4,49 C665.28,50.32 666.98,50.5 667.7,50.8 L667.7,50.8 L579.3,50.8 Z" fill="#e3e3e3" stroke="none"/>
<line x1="602.4" y1="50.8" x2="602.4" y2="47" stroke="#333" stroke-width="0.9" />
<line x1="637.4" y1="50.8" x2="637.4" y2="11.4" stroke="#333" stroke-width="0.9" />
<line x1="657.2" y1="50.8" x2="657.2" y2="43.8" stroke="#333" stroke-width="0.9" />
<path d="M579.3,50.8 C581.33,50.72 587.72,50.93 591.5,50.3 C595.28,49.67 598.78,48.47 602,47 C605.22,45.53 607.73,42.67 610.8,41.5 C613.87,40.33 617.48,41.52 620.4,40 C623.32,38.48 626.1,35.27 628.3,32.4 C630.5,29.53 631.98,26.3 633.6,22.8 C635.22,19.3 636.78,13.88 638,11.4 C639.22,8.92 639.88,7.75 640.9,7.9 C641.92,8.05 642.7,8.37 644.1,12.3 C645.5,16.23 647.25,26.4 649.3,31.5 C651.35,36.6 654.05,39.98 656.4,42.9 C658.75,45.82 661.52,47.68 663.4,49 C665.28,50.32 666.98,50.5 667.7,50.8" fill="none" stroke="#333" stroke-width="0.6"/>
<line x1="579.3" y1="50.8" x2="667.7" y2="50.8" stroke="#999" stroke-width="0.35" />
<path d="M576.1,74.6 C577.8,74.17 583.58,72.95 586.3,72 C589.02,71.05 590.37,70.07 592.4,68.9 C594.43,67.73 596.32,65.78 598.5,65 C600.68,64.22 603.3,64.63 605.5,64.2 C607.7,63.77 609.35,64.3 611.7,62.4 C614.05,60.5 617.12,56.3 619.6,52.8 C622.08,49.3 624.57,44.18 626.6,41.4 C628.63,38.62 630.35,36.25 631.8,36.1 C633.25,35.95 633.83,36.98 635.3,40.5 C636.77,44.02 638.85,52.67 640.6,57.2 C642.35,61.73 643.75,65.23 645.8,67.7 C647.85,70.17 650.85,71.22 652.9,72 C654.95,72.78 656.22,71.97 658.1,72.4 C659.98,72.83 663.18,74.23 664.2,74.6 L664.2,74.6 L576.1,74.6 Z" fill="#e3e3e3" stroke="none"/>
<line x1="592.4" y1="74.6" x2="592.4" y2="68.9" stroke="#333" stroke-width="0.9" />
<line x1="627.5" y1="74.6" x2="627.5" y2="40.5" stroke="#333" stroke-width="0.9" />
<line x1="649.3" y1="74.6" x2="649.3" y2="70" stroke="#333" stroke-width="0.9" />
<path d="M576.1,74.6 C577.8,74.17 583.58,72.95 586.3,72 C589.02,71.05 590.37,70.07 592.4,68.9 C594.43,67.73 596.32,65.78 598.5,65 C600.68,64.22 603.3,64.63 605.5,64.2 C607.7,63.77 609.35,64.3 611.7,62.4 C614.05,60.5 617.12,56.3 619.6,52.8 C622.08,49.3 624.57,44.18 626.6,41.4 C628.63,38.62 630.35,36.25 631.8,36.1 C633.25,35.95 633.83,36.98 635.3,40.5 C636.77,44.02 638.85,52.67 640.6,57.2 C642.35,61.73 643.75,65.23 645.8,67.7 C647.85,70.17 650.85,71.22 652.9,72 C654.95,72.78 656.22,71.97 658.1,72.4 C659.98,72.83 663.18,74.23 664.2,74.6" fill="none" stroke="#333" stroke-width="0.6"/>
<line x1="576.1" y1="74.6" x2="664.2" y2="74.6" stroke="#999" stroke-width="0.35" />
<path d="M570.2,98.2 C571.42,97.97 575.4,97.92 577.5,96.8 C579.6,95.68 581.33,92.97 582.8,91.5 C584.27,90.03 584.98,88.93 586.3,88 C587.62,87.07 588.22,86.42 590.7,85.9 C593.18,85.38 598.73,85.57 601.2,84.9 C603.67,84.23 603.6,83.87 605.5,81.9 C607.4,79.93 610.68,76.02 612.6,73.1 C614.52,70.18 615.6,66.5 617,64.4 C618.4,62.3 619.7,60.35 621,60.5 C622.3,60.65 623.28,61.88 624.8,65.3 C626.32,68.72 628.35,76.63 630.1,81 C631.85,85.37 633.27,88.87 635.3,91.5 C637.33,94.13 639.97,95.87 642.3,96.8 C644.63,97.73 647.1,97.1 649.3,97.1 C651.5,97.1 653.45,96.62 655.5,96.8 C657.55,96.98 660.58,97.97 661.6,98.2 L661.6,98.2 L570.2,98.2 Z" fill="#e3e3e3" stroke="none"/>
<line x1="586.3" y1="98.2" x2="586.3" y2="88" stroke="#333" stroke-width="0.9" />
<line x1="617" y1="98.2" x2="617" y2="64.4" stroke="#333" stroke-width="0.9" />
<line x1="639.7" y1="98.2" x2="639.7" y2="94.5" stroke="#333" stroke-width="0.9" />
<path d="M570.2,98.2 C571.42,97.97 575.4,97.92 577.5,96.8 C579.6,95.68 581.33,92.97 582.8,91.5 C584.27,90.03 584.98,88.93 586.3,88 C587.62,87.07 588.22,86.42 590.7,85.9 C593.18,85.38 598.73,85.57 601.2,84.9 C603.67,84.23 603.6,83.87 605.5,81.9 C607.4,79.93 610.68,76.02 612.6,73.1 C614.52,70.18 615.6,66.5 617,64.4 C618.4,62.3 619.7,60.35 621,60.5 C622.3,60.65 623.28,61.88 624.8,65.3 C626.32,68.72 628.35,76.63 630.1,81 C631.85,85.37 633.27,88.87 635.3,91.5 C637.33,94.13 639.97,95.87 642.3,96.8 C644.63,97.73 647.1,97.1 649.3,97.1 C651.5,97.1 653.45,96.62 655.5,96.8 C657.55,96.98 660.58,97.97 661.6,98.2" fill="none" stroke="#333" stroke-width="0.6"/>
<line x1="570.2" y1="98.2" x2="661.6" y2="98.2" stroke="#999" stroke-width="0.35" />
<path d="M569.9,122.1 C571.07,121.95 574.72,122.52 576.9,121.2 C579.08,119.88 580.95,116.68 583,114.2 C585.05,111.72 587,107.77 589.2,106.3 C591.4,104.83 594.02,106.57 596.2,105.4 C598.38,104.23 600.4,102.07 602.3,99.3 C604.2,96.53 605.85,91.43 607.6,88.8 C609.35,86.17 611.35,83.95 612.8,83.5 C614.25,83.05 614.83,83.18 616.3,86.1 C617.77,89.02 619.85,96.77 621.6,101 C623.35,105.23 624.77,108.72 626.8,111.5 C628.83,114.28 631.47,116.08 633.8,117.7 C636.13,119.32 638.17,120.53 640.8,121.2 C643.43,121.87 646.97,121.63 649.6,121.7 C652.23,121.77 654.85,121.53 656.6,121.6 C658.35,121.67 659.52,122.02 660.1,122.1 L660.1,122.1 L569.9,122.1 Z" fill="#e3e3e3" stroke="none"/>
<line x1="583" y1="122.1" x2="583" y2="114.2" stroke="#333" stroke-width="0.9" />
<line x1="609.7" y1="122.1" x2="609.7" y2="85.3" stroke="#333" stroke-width="0.9" />
<line x1="633.5" y1="122.1" x2="633.5" y2="117.5" stroke="#333" stroke-width="0.9" />
<path d="M569.9,122.1 C571.07,121.95 574.72,122.52 576.9,121.2 C579.08,119.88 580.95,116.68 583,114.2 C585.05,111.72 587,107.77 589.2,106.3 C591.4,104.83 594.02,106.57 596.2,105.4 C598.38,104.23 600.4,102.07 602.3,99.3 C604.2,96.53 605.85,91.43 607.6,88.8 C609.35,86.17 611.35,83.95 612.8,83.5 C614.25,83.05 614.83,83.18 616.3,86.1 C617.77,89.02 619.85,96.77 621.6,101 C623.35,105.23 624.77,108.72 626.8,111.5 C628.83,114.28 631.47,116.08 633.8,117.7 C636.13,119.32 638.17,120.53 640.8,121.2 C643.43,121.87 646.97,121.63 649.6,121.7 C652.23,121.77 654.85,121.53 656.6,121.6 C658.35,121.67 659.52,122.02 660.1,122.1" fill="none" stroke="#333" stroke-width="0.6"/>
<line x1="569.9" y1="122.1" x2="660.1" y2="122.1" stroke="#999" stroke-width="0.35" />
<line x1="560.6" y1="8" x2="560.6" y2="136.5" stroke="#777" stroke-width="0.9" />
<line x1="560.2" y1="136.1" x2="676.6" y2="136.1" stroke="#262626" stroke-width="1.1" />
<line x1="556.8" y1="50.8" x2="560.6" y2="50.8" stroke="#262626" stroke-width="1.1" />
<text x="553" y="53.7" font-size="8.7" text-anchor="end" font-weight="normal" fill="#111111" stroke="#111111" stroke-width="0.22" >2</text>
<line x1="556.8" y1="74.6" x2="560.6" y2="74.6" stroke="#262626" stroke-width="1.1" />
<text x="553" y="77.5" font-size="8.7" text-anchor="end" font-weight="normal" fill="#111111" stroke="#111111" stroke-width="0.22" >1.6</text>
<line x1="556.8" y1="98.2" x2="560.6" y2="98.2" stroke="#262626" stroke-width="1.1" />
<text x="553" y="101.1" font-size="8.7" text-anchor="end" font-weight="normal" fill="#111111" stroke="#111111" stroke-width="0.22" >1.3</text>
<line x1="556.8" y1="122.1" x2="560.6" y2="122.1" stroke="#262626" stroke-width="1.1" />
<text x="553" y="125" font-size="8.7" text-anchor="end" font-weight="normal" fill="#111111" stroke="#111111" stroke-width="0.22" >1.2</text>
<line x1="561.3" y1="136.1" x2="561.3" y2="140.4" stroke="#262626" stroke-width="1.0" />
<line x1="565.33" y1="136.9" x2="565.33" y2="139.6" stroke="#262626" stroke-width="0.6" />
<line x1="567.69" y1="136.9" x2="567.69" y2="139.6" stroke="#262626" stroke-width="0.6" />
<line x1="569.37" y1="136.9" x2="569.37" y2="139.6" stroke="#262626" stroke-width="0.6" />
<line x1="570.67" y1="136.9" x2="570.67" y2="139.6" stroke="#262626" stroke-width="0.6" />
<line x1="571.73" y1="136.9" x2="571.73" y2="139.6" stroke="#262626" stroke-width="0.6" />
<line x1="572.62" y1="136.9" x2="572.62" y2="139.6" stroke="#262626" stroke-width="0.6" />
<line x1="573.4" y1="136.9" x2="573.4" y2="139.6" stroke="#262626" stroke-width="0.6" />
<line x1="574.09" y1="136.9" x2="574.09" y2="139.6" stroke="#262626" stroke-width="0.6" />
<line x1="574.7" y1="136.9" x2="574.7" y2="139.6" stroke="#262626" stroke-width="0.6" />
<line x1="578.73" y1="136.9" x2="578.73" y2="139.6" stroke="#262626" stroke-width="0.6" />
<line x1="581.09" y1="136.9" x2="581.09" y2="139.6" stroke="#262626" stroke-width="0.6" />
<line x1="582.77" y1="136.9" x2="582.77" y2="139.6" stroke="#262626" stroke-width="0.6" />
<line x1="584.07" y1="136.9" x2="584.07" y2="139.6" stroke="#262626" stroke-width="0.6" />
<line x1="585.13" y1="136.9" x2="585.13" y2="139.6" stroke="#262626" stroke-width="0.6" />
<line x1="586.02" y1="136.9" x2="586.02" y2="139.6" stroke="#262626" stroke-width="0.6" />
<line x1="586.8" y1="136.9" x2="586.8" y2="139.6" stroke="#262626" stroke-width="0.6" />
<line x1="587.49" y1="136.9" x2="587.49" y2="139.6" stroke="#262626" stroke-width="0.6" />
<line x1="588.1" y1="136.1" x2="588.1" y2="140.4" stroke="#262626" stroke-width="1.0" />
<line x1="592.13" y1="136.9" x2="592.13" y2="139.6" stroke="#262626" stroke-width="0.6" />
<line x1="594.49" y1="136.9" x2="594.49" y2="139.6" stroke="#262626" stroke-width="0.6" />
<line x1="596.17" y1="136.9" x2="596.17" y2="139.6" stroke="#262626" stroke-width="0.6" />
<line x1="597.47" y1="136.9" x2="597.47" y2="139.6" stroke="#262626" stroke-width="0.6" />
<line x1="598.53" y1="136.9" x2="598.53" y2="139.6" stroke="#262626" stroke-width="0.6" />
<line x1="599.42" y1="136.9" x2="599.42" y2="139.6" stroke="#262626" stroke-width="0.6" />
<line x1="600.2" y1="136.9" x2="600.2" y2="139.6" stroke="#262626" stroke-width="0.6" />
<line x1="600.89" y1="136.9" x2="600.89" y2="139.6" stroke="#262626" stroke-width="0.6" />
<line x1="601.5" y1="136.9" x2="601.5" y2="139.6" stroke="#262626" stroke-width="0.6" />
<line x1="605.53" y1="136.9" x2="605.53" y2="139.6" stroke="#262626" stroke-width="0.6" />
<line x1="607.89" y1="136.9" x2="607.89" y2="139.6" stroke="#262626" stroke-width="0.6" />
<line x1="609.57" y1="136.9" x2="609.57" y2="139.6" stroke="#262626" stroke-width="0.6" />
<line x1="610.87" y1="136.9" x2="610.87" y2="139.6" stroke="#262626" stroke-width="0.6" />
<line x1="611.93" y1="136.9" x2="611.93" y2="139.6" stroke="#262626" stroke-width="0.6" />
<line x1="612.82" y1="136.9" x2="612.82" y2="139.6" stroke="#262626" stroke-width="0.6" />
<line x1="613.6" y1="136.9" x2="613.6" y2="139.6" stroke="#262626" stroke-width="0.6" />
<line x1="614.29" y1="136.9" x2="614.29" y2="139.6" stroke="#262626" stroke-width="0.6" />
<line x1="614.9" y1="136.1" x2="614.9" y2="140.4" stroke="#262626" stroke-width="1.0" />
<line x1="618.93" y1="136.9" x2="618.93" y2="139.6" stroke="#262626" stroke-width="0.6" />
<line x1="621.29" y1="136.9" x2="621.29" y2="139.6" stroke="#262626" stroke-width="0.6" />
<line x1="622.97" y1="136.9" x2="622.97" y2="139.6" stroke="#262626" stroke-width="0.6" />
<line x1="624.27" y1="136.9" x2="624.27" y2="139.6" stroke="#262626" stroke-width="0.6" />
<line x1="625.33" y1="136.9" x2="625.33" y2="139.6" stroke="#262626" stroke-width="0.6" />
<line x1="626.22" y1="136.9" x2="626.22" y2="139.6" stroke="#262626" stroke-width="0.6" />
<line x1="627" y1="136.9" x2="627" y2="139.6" stroke="#262626" stroke-width="0.6" />
<line x1="627.69" y1="136.9" x2="627.69" y2="139.6" stroke="#262626" stroke-width="0.6" />
<line x1="628.3" y1="136.9" x2="628.3" y2="139.6" stroke="#262626" stroke-width="0.6" />
<line x1="632.33" y1="136.9" x2="632.33" y2="139.6" stroke="#262626" stroke-width="0.6" />
<line x1="634.69" y1="136.9" x2="634.69" y2="139.6" stroke="#262626" stroke-width="0.6" />
<line x1="636.37" y1="136.9" x2="636.37" y2="139.6" stroke="#262626" stroke-width="0.6" />
<line x1="637.67" y1="136.9" x2="637.67" y2="139.6" stroke="#262626" stroke-width="0.6" />
<line x1="638.73" y1="136.9" x2="638.73" y2="139.6" stroke="#262626" stroke-width="0.6" />
<line x1="639.62" y1="136.9" x2="639.62" y2="139.6" stroke="#262626" stroke-width="0.6" />
<line x1="640.4" y1="136.9" x2="640.4" y2="139.6" stroke="#262626" stroke-width="0.6" />
<line x1="641.09" y1="136.9" x2="641.09" y2="139.6" stroke="#262626" stroke-width="0.6" />
<line x1="641.7" y1="136.1" x2="641.7" y2="140.4" stroke="#262626" stroke-width="1.0" />
<line x1="645.73" y1="136.9" x2="645.73" y2="139.6" stroke="#262626" stroke-width="0.6" />
<line x1="648.09" y1="136.9" x2="648.09" y2="139.6" stroke="#262626" stroke-width="0.6" />
<line x1="649.77" y1="136.9" x2="649.77" y2="139.6" stroke="#262626" stroke-width="0.6" />
<line x1="651.07" y1="136.9" x2="651.07" y2="139.6" stroke="#262626" stroke-width="0.6" />
<line x1="652.13" y1="136.9" x2="652.13" y2="139.6" stroke="#262626" stroke-width="0.6" />
<line x1="653.02" y1="136.9" x2="653.02" y2="139.6" stroke="#262626" stroke-width="0.6" />
<line x1="653.8" y1="136.9" x2="653.8" y2="139.6" stroke="#262626" stroke-width="0.6" />
<line x1="654.49" y1="136.9" x2="654.49" y2="139.6" stroke="#262626" stroke-width="0.6" />
<line x1="655.1" y1="136.9" x2="655.1" y2="139.6" stroke="#262626" stroke-width="0.6" />
<line x1="659.13" y1="136.9" x2="659.13" y2="139.6" stroke="#262626" stroke-width="0.6" />
<line x1="661.49" y1="136.9" x2="661.49" y2="139.6" stroke="#262626" stroke-width="0.6" />
<line x1="663.17" y1="136.9" x2="663.17" y2="139.6" stroke="#262626" stroke-width="0.6" />
<line x1="664.47" y1="136.9" x2="664.47" y2="139.6" stroke="#262626" stroke-width="0.6" />
<line x1="665.53" y1="136.9" x2="665.53" y2="139.6" stroke="#262626" stroke-width="0.6" />
<line x1="666.42" y1="136.9" x2="666.42" y2="139.6" stroke="#262626" stroke-width="0.6" />
<line x1="667.2" y1="136.9" x2="667.2" y2="139.6" stroke="#262626" stroke-width="0.6" />
<line x1="667.89" y1="136.9" x2="667.89" y2="139.6" stroke="#262626" stroke-width="0.6" />
<line x1="668.5" y1="136.1" x2="668.5" y2="140.4" stroke="#262626" stroke-width="1.0" />
<line x1="672.53" y1="136.9" x2="672.53" y2="139.6" stroke="#262626" stroke-width="0.6" />
<line x1="674.89" y1="136.9" x2="674.89" y2="139.6" stroke="#262626" stroke-width="0.6" />
<line x1="676.57" y1="136.9" x2="676.57" y2="139.6" stroke="#262626" stroke-width="0.6" />
<text x="561.4" y="152.4" font-size="8.7" text-anchor="middle" font-weight="normal" fill="#111111" stroke="#111111" stroke-width="0.22" >10<tspan font-size="6.96" dy="-3.6">0</tspan></text>
<text x="588.2" y="152.4" font-size="8.7" text-anchor="middle" font-weight="normal" fill="#111111" stroke="#111111" stroke-width="0.22" >10<tspan font-size="6.96" dy="-3.6">2</tspan></text>
<text x="615" y="152.4" font-size="8.7" text-anchor="middle" font-weight="normal" fill="#111111" stroke="#111111" stroke-width="0.22" >10<tspan font-size="6.96" dy="-3.6">4</tspan></text>
<text x="641.8" y="152.4" font-size="8.7" text-anchor="middle" font-weight="normal" fill="#111111" stroke="#111111" stroke-width="0.22" >10<tspan font-size="6.96" dy="-3.6">6</tspan></text>
<text x="668.6" y="152.4" font-size="8.7" text-anchor="middle" font-weight="normal" fill="#111111" stroke="#111111" stroke-width="0.22" >10<tspan font-size="6.96" dy="-3.6">8</tspan></text>
<text x="618.5" y="165.7" font-size="10.5" text-anchor="middle" font-weight="normal" fill="#111111" stroke="#111111" stroke-width="0.22" >Global variant infections</text>
<text x="618" y="176.6" font-size="10.5" text-anchor="middle" font-weight="normal" fill="#111111" stroke="#111111" stroke-width="0.22" >by day of detection</text>
<text x="532.6" y="70" font-size="10.5" text-anchor="middle" font-weight="normal" fill="#111111" stroke="#111111" stroke-width="0.22" transform="rotate(-90 532.6 70)">Variant <tspan font-style="italic">R</tspan><tspan font-style="italic" font-size="7" dy="2">e</tspan></text>
<text x="-0.4" y="190.9" font-size="12" text-anchor="start" font-weight="bold" fill="#000" stroke="#000" stroke-width="0.22" >e</text>
<rect x="61.5" y="211" width="23.5" height="127.8" fill="#efefef" stroke="none" stroke-width="0" />
<rect x="108.3" y="211" width="23.1" height="127.8" fill="#efefef" stroke="none" stroke-width="0" />
<line x1="64.3" y1="285.2" x2="70.5" y2="285.2" stroke="#E41A1C" stroke-width="1.05" />
<line x1="67.4" y1="282.1" x2="67.4" y2="288.3" stroke="#E41A1C" stroke-width="1.05" />
<line x1="86.7" y1="304.3" x2="92.9" y2="304.3" stroke="#E41A1C" stroke-width="1.05" />
<line x1="89.8" y1="301.2" x2="89.8" y2="307.4" stroke="#E41A1C" stroke-width="1.05" />
<line x1="109.9" y1="315.7" x2="116.1" y2="315.7" stroke="#E41A1C" stroke-width="1.05" />
<line x1="113" y1="312.6" x2="113" y2="318.8" stroke="#E41A1C" stroke-width="1.05" />
<line x1="133.4" y1="309.4" x2="139.6" y2="309.4" stroke="#E41A1C" stroke-width="1.05" />
<line x1="136.5" y1="306.3" x2="136.5" y2="312.5" stroke="#E41A1C" stroke-width="1.05" />
<line x1="67" y1="236.4" x2="73.2" y2="236.4" stroke="#377EB8" stroke-width="1.05" />
<line x1="70.1" y1="233.3" x2="70.1" y2="239.5" stroke="#377EB8" stroke-width="1.05" />
<line x1="89.8" y1="247" x2="96" y2="247" stroke="#377EB8" stroke-width="1.05" />
<line x1="92.9" y1="243.9" x2="92.9" y2="250.1" stroke="#377EB8" stroke-width="1.05" />
<line x1="112.9" y1="254.3" x2="119.1" y2="254.3" stroke="#377EB8" stroke-width="1.05" />
<line x1="116" y1="251.2" x2="116" y2="257.4" stroke="#377EB8" stroke-width="1.05" />
<line x1="135.9" y1="242.9" x2="142.1" y2="242.9" stroke="#377EB8" stroke-width="1.05" />
<line x1="139" y1="239.8" x2="139" y2="246" stroke="#377EB8" stroke-width="1.05" />
<line x1="69.1" y1="219.6" x2="75.3" y2="219.6" stroke="#4DAF4A" stroke-width="1.05" />
<line x1="72.2" y1="216.5" x2="72.2" y2="222.7" stroke="#4DAF4A" stroke-width="1.05" />
<line x1="92.1" y1="220.1" x2="98.3" y2="220.1" stroke="#4DAF4A" stroke-width="1.05" />
<line x1="95.2" y1="217" x2="95.2" y2="223.2" stroke="#4DAF4A" stroke-width="1.05" />
<line x1="115.2" y1="220.1" x2="121.4" y2="220.1" stroke="#4DAF4A" stroke-width="1.05" />
<line x1="118.3" y1="217" x2="118.3" y2="223.2" stroke="#4DAF4A" stroke-width="1.05" />
<line x1="138.4" y1="221.4" x2="144.6" y2="221.4" stroke="#4DAF4A" stroke-width="1.05" />
<line x1="141.5" y1="218.3" x2="141.5" y2="224.5" stroke="#4DAF4A" stroke-width="1.05" />
<line x1="72" y1="219.6" x2="78.2" y2="219.6" stroke="#984EA3" stroke-width="1.05" />
<line x1="75.1" y1="216.5" x2="75.1" y2="222.7" stroke="#984EA3" stroke-width="1.05" />
<line x1="94.7" y1="220.7" x2="100.9" y2="220.7" stroke="#984EA3" stroke-width="1.05" />
<line x1="97.8" y1="217.6" x2="97.8" y2="223.8" stroke="#984EA3" stroke-width="1.05" />
<line x1="117.9" y1="222.4" x2="124.1" y2="222.4" stroke="#984EA3" stroke-width="1.05" />
<line x1="121" y1="219.3" x2="121" y2="225.5" stroke="#984EA3" stroke-width="1.05" />
<line x1="141.2" y1="222.8" x2="147.4" y2="222.8" stroke="#984EA3" stroke-width="1.05" />
<line x1="144.3" y1="219.7" x2="144.3" y2="225.9" stroke="#984EA3" stroke-width="1.05" />
<line x1="74.9" y1="217" x2="81.1" y2="217" stroke="#FF7F00" stroke-width="1.05" />
<line x1="78" y1="213.9" x2="78" y2="220.1" stroke="#FF7F00" stroke-width="1.05" />
<line x1="98.2" y1="223.7" x2="104.4" y2="223.7" stroke="#FF7F00" stroke-width="1.05" />
<line x1="101.3" y1="220.6" x2="101.3" y2="226.8" stroke="#FF7F00" stroke-width="1.05" />
<line x1="121" y1="221.4" x2="127.2" y2="221.4" stroke="#FF7F00" stroke-width="1.05" />
<line x1="124.1" y1="218.3" x2="124.1" y2="224.5" stroke="#FF7F00" stroke-width="1.05" />
<line x1="144.3" y1="225.9" x2="150.5" y2="225.9" stroke="#FF7F00" stroke-width="1.05" />
<line x1="147.4" y1="222.8" x2="147.4" y2="229" stroke="#FF7F00" stroke-width="1.05" />
<line x1="77.9" y1="229.4" x2="84.1" y2="229.4" stroke="#A65628" stroke-width="1.05" />
<line x1="81" y1="226.3" x2="81" y2="232.5" stroke="#A65628" stroke-width="1.05" />
<line x1="100.7" y1="237.7" x2="106.9" y2="237.7" stroke="#A65628" stroke-width="1.05" />
<line x1="103.8" y1="234.6" x2="103.8" y2="240.8" stroke="#A65628" stroke-width="1.05" />
<line x1="123.5" y1="250.3" x2="129.7" y2="250.3" stroke="#A65628" stroke-width="1.05" />
<line x1="126.6" y1="247.2" x2="126.6" y2="253.4" stroke="#A65628" stroke-width="1.05" />
<line x1="146.8" y1="241.7" x2="153" y2="241.7" stroke="#A65628" stroke-width="1.05" />
<line x1="149.9" y1="238.6" x2="149.9" y2="244.8" stroke="#A65628" stroke-width="1.05" />
<line x1="60.6" y1="211.3" x2="60.6" y2="339.7" stroke="#262626" stroke-width="1.1" />
<line x1="60.1" y1="339.2" x2="156.2" y2="339.2" stroke="#262626" stroke-width="1.1" />
<line x1="56.6" y1="333.5" x2="60.6" y2="333.5" stroke="#262626" stroke-width="1.1" />
<text x="53" y="336.4" font-size="8.7" text-anchor="end" font-weight="normal" fill="#111111" stroke="#111111" stroke-width="0.22" >0.00</text>
<line x1="56.6" y1="304.4" x2="60.6" y2="304.4" stroke="#262626" stroke-width="1.1" />
<text x="53" y="307.3" font-size="8.7" text-anchor="end" font-weight="normal" fill="#111111" stroke="#111111" stroke-width="0.22" >0.25</text>
<line x1="56.6" y1="275.3" x2="60.6" y2="275.3" stroke="#262626" stroke-width="1.1" />
<text x="53" y="278.2" font-size="8.7" text-anchor="end" font-weight="normal" fill="#111111" stroke="#111111" stroke-width="0.22" >0.50</text>
<line x1="56.6" y1="246.2" x2="60.6" y2="246.2" stroke="#262626" stroke-width="1.1" />
<text x="53" y="249.1" font-size="8.7" text-anchor="end" font-weight="normal" fill="#111111" stroke="#111111" stroke-width="0.22" >0.75</text>
<line x1="56.6" y1="217.1" x2="60.6" y2="217.1" stroke="#262626" stroke-width="1.1" />
<text x="53" y="220" font-size="8.7" text-anchor="end" font-weight="normal" fill="#111111" stroke="#111111" stroke-width="0.22" >1.00</text>
<line x1="73.9" y1="339.2" x2="73.9" y2="342.5" stroke="#262626" stroke-width="1.1" />
<text x="73.9" y="353.2" font-size="8.7" text-anchor="middle" font-weight="normal" fill="#111111" stroke="#111111" stroke-width="0.22" >1.2</text>
<line x1="97" y1="339.2" x2="97" y2="342.5" stroke="#262626" stroke-width="1.1" />
<text x="97" y="353.2" font-size="8.7" text-anchor="middle" font-weight="normal" fill="#111111" stroke="#111111" stroke-width="0.22" >1.3</text>
<line x1="120" y1="339.2" x2="120" y2="342.5" stroke="#262626" stroke-width="1.1" />
<text x="120" y="353.2" font-size="8.7" text-anchor="middle" font-weight="normal" fill="#111111" stroke="#111111" stroke-width="0.22" >1.6</text>
<line x1="143.2" y1="339.2" x2="143.2" y2="342.5" stroke="#262626" stroke-width="1.1" />
<text x="143.2" y="353.2" font-size="8.7" text-anchor="middle" font-weight="normal" fill="#111111" stroke="#111111" stroke-width="0.22" >2</text>
<text x="108.5" y="373.5" font-size="10.5" text-anchor="middle" font-weight="normal" fill="#111111" stroke="#111111" stroke-width="0.22" >Variant <tspan font-style="italic">R</tspan><tspan font-style="italic" font-size="7" dy="2">e</tspan></text>
<text x="18.6" y="275.5" font-size="10.3" text-anchor="middle" font-weight="normal" fill="#111111" stroke="#111111" stroke-width="0.22" transform="rotate(-90 18.6 275.5)">Probability of first detection</text>
<text x="30.5" y="275.5" font-size="10.3" text-anchor="middle" font-weight="normal" fill="#111111" stroke="#111111" stroke-width="0.22" transform="rotate(-90 30.5 275.5)">in origin continent</text>
<line x1="27.9" y1="196" x2="34.9" y2="196" stroke="#E41A1C" stroke-width="1.15" />
<line x1="31.4" y1="192.5" x2="31.4" y2="199.5" stroke="#E41A1C" stroke-width="1.15" />
<text x="36.6" y="198.9" font-size="8.7" text-anchor="start" font-weight="normal" fill="#111111" stroke="#111111" stroke-width="0.22" >AF</text>
<line x1="50" y1="196" x2="57" y2="196" stroke="#377EB8" stroke-width="1.15" />
<line x1="53.5" y1="192.5" x2="53.5" y2="199.5" stroke="#377EB8" stroke-width="1.15" />
<text x="58.7" y="198.9" font-size="8.7" text-anchor="start" font-weight="normal" fill="#111111" stroke="#111111" stroke-width="0.22" >AS</text>
<line x1="72.3" y1="196" x2="79.3" y2="196" stroke="#4DAF4A" stroke-width="1.15" />
<line x1="75.8" y1="192.5" x2="75.8" y2="199.5" stroke="#4DAF4A" stroke-width="1.15" />
<text x="81" y="198.9" font-size="8.7" text-anchor="start" font-weight="normal" fill="#111111" stroke="#111111" stroke-width="0.22" >EU</text>
<line x1="94.6" y1="196" x2="101.6" y2="196" stroke="#984EA3" stroke-width="1.15" />
<line x1="98.1" y1="192.5" x2="98.1" y2="199.5" stroke="#984EA3" stroke-width="1.15" />
<text x="103.3" y="198.9" font-size="8.7" text-anchor="start" font-weight="normal" fill="#111111" stroke="#111111" stroke-width="0.22" >NA</text>
<line x1="117.2" y1="196" x2="124.2" y2="196" stroke="#FF7F00" stroke-width="1.15" />
<line x1="120.7" y1="192.5" x2="120.7" y2="199.5" stroke="#FF7F00" stroke-width="1.15" />
<text x="125.9" y="198.9" font-size="8.7" text-anchor="start" font-weight="normal" fill="#111111" stroke="#111111" stroke-width="0.22" >OC</text>
<line x1="140.9" y1="196" x2="147.9" y2="196" stroke="#A65628" stroke-width="1.15" />
<line x1="144.4" y1="192.5" x2="144.4" y2="199.5" stroke="#A65628" stroke-width="1.15" />
<text x="149.6" y="198.9" font-size="8.7" text-anchor="start" font-weight="normal" fill="#111111" stroke="#111111" stroke-width="0.22" >SA</text>
<text x="179" y="190.9" font-size="12" text-anchor="start" font-weight="bold" fill="#000" stroke="#000" stroke-width="0.22" >f</text>
<rect x="205" y="211" width="33.8" height="127.8" fill="#efefef" stroke="none" stroke-width="0" />
<rect x="269.4" y="211" width="30.5" height="127.8" fill="#efefef" stroke="none" stroke-width="0" />
<g stroke="#E41A1C" stroke-opacity="0.85" stroke-width="1.0">
<line x1="210.6" y1="217.4" x2="210.6" y2="247.2" stroke="#E41A1C" stroke-width="1.0" />
<line x1="210.6" y1="278.8" x2="210.6" y2="312.1" stroke="#E41A1C" stroke-width="1.0" />
<line x1="208.2" y1="217.4" x2="213" y2="217.4" stroke="#E41A1C" stroke-width="1.0" />
<line x1="208.2" y1="312.1" x2="213" y2="312.1" stroke="#E41A1C" stroke-width="1.0" />
</g>
<rect x="208.95" y="247.2" width="3.3" height="31.6" fill="#E41A1C" stroke="none" stroke-width="0" />
<circle cx="210.6" cy="263.1" r="2.25" fill="#fff" stroke="#E41A1C" stroke-width="1.2"/>
<g stroke="#377EB8" stroke-opacity="0.85" stroke-width="1.0">
<line x1="215.72" y1="232.4" x2="215.72" y2="270.7" stroke="#377EB8" stroke-width="1.0" />
<line x1="215.72" y1="298.4" x2="215.72" y2="323.5" stroke="#377EB8" stroke-width="1.0" />
<line x1="213.32" y1="232.4" x2="218.12" y2="232.4" stroke="#377EB8" stroke-width="1.0" />
<line x1="213.32" y1="323.5" x2="218.12" y2="323.5" stroke="#377EB8" stroke-width="1.0" />
</g>
<rect x="214.07" y="270.7" width="3.3" height="27.7" fill="#377EB8" stroke="none" stroke-width="0" />
<circle cx="215.72" cy="283.3" r="2.25" fill="#fff" stroke="#377EB8" stroke-width="1.2"/>
<g stroke="#4DAF4A" stroke-opacity="0.85" stroke-width="1.0">
<line x1="220.84" y1="281.3" x2="220.84" y2="310.7" stroke="#4DAF4A" stroke-width="1.0" />
<line x1="220.84" y1="328" x2="220.84" y2="333.5" stroke="#4DAF4A" stroke-width="1.0" />
<line x1="218.44" y1="281.3" x2="223.24" y2="281.3" stroke="#4DAF4A" stroke-width="1.0" />
<line x1="218.44" y1="333.5" x2="223.24" y2="333.5" stroke="#4DAF4A" stroke-width="1.0" />
</g>
<rect x="219.19" y="310.7" width="3.3" height="17.3" fill="#4DAF4A" stroke="none" stroke-width="0" />
<circle cx="220.84" cy="317.8" r="2.25" fill="#fff" stroke="#4DAF4A" stroke-width="1.2"/>
<g stroke="#984EA3" stroke-opacity="0.85" stroke-width="1.0">
<line x1="225.96" y1="276.4" x2="225.96" y2="312.7" stroke="#984EA3" stroke-width="1.0" />
<line x1="225.96" y1="326.6" x2="225.96" y2="331.5" stroke="#984EA3" stroke-width="1.0" />
<line x1="223.56" y1="276.4" x2="228.36" y2="276.4" stroke="#984EA3" stroke-width="1.0" />
<line x1="223.56" y1="331.5" x2="228.36" y2="331.5" stroke="#984EA3" stroke-width="1.0" />
</g>
<rect x="224.31" y="312.7" width="3.3" height="13.9" fill="#984EA3" stroke="none" stroke-width="0" />
<circle cx="225.96" cy="317.8" r="2.25" fill="#fff" stroke="#984EA3" stroke-width="1.2"/>
<g stroke="#FF7F00" stroke-opacity="0.85" stroke-width="1.0">
<line x1="231.08" y1="260.4" x2="231.08" y2="313.7" stroke="#FF7F00" stroke-width="1.0" />
<line x1="231.08" y1="328.6" x2="231.08" y2="333.5" stroke="#FF7F00" stroke-width="1.0" />
<line x1="228.68" y1="260.4" x2="233.48" y2="260.4" stroke="#FF7F00" stroke-width="1.0" />
<line x1="228.68" y1="333.5" x2="233.48" y2="333.5" stroke="#FF7F00" stroke-width="1.0" />
</g>
<rect x="229.43" y="313.7" width="3.3" height="14.9" fill="#FF7F00" stroke="none" stroke-width="0" />
<circle cx="231.08" cy="315.2" r="2.25" fill="#fff" stroke="#FF7F00" stroke-width="1.2"/>
<g stroke="#A65628" stroke-opacity="0.85" stroke-width="1.0">
<line x1="236.2" y1="264.9" x2="236.2" y2="294.3" stroke="#A65628" stroke-width="1.0" />
<line x1="236.2" y1="311.7" x2="236.2" y2="324.3" stroke="#A65628" stroke-width="1.0" />
<line x1="233.8" y1="264.9" x2="238.6" y2="264.9" stroke="#A65628" stroke-width="1.0" />
<line x1="233.8" y1="324.3" x2="238.6" y2="324.3" stroke="#A65628" stroke-width="1.0" />
</g>
<rect x="234.55" y="294.3" width="3.3" height="17.4" fill="#A65628" stroke="none" stroke-width="0" />
<circle cx="236.2" cy="301" r="2.25" fill="#fff" stroke="#A65628" stroke-width="1.2"/>
<g stroke="#E41A1C" stroke-opacity="0.85" stroke-width="1.0">
<line x1="241.2" y1="247.2" x2="241.2" y2="266.2" stroke="#E41A1C" stroke-width="1.0" />
<line x1="241.2" y1="289" x2="241.2" y2="313.3" stroke="#E41A1C" stroke-width="1.0" />
<line x1="238.8" y1="247.2" x2="243.6" y2="247.2" stroke="#E41A1C" stroke-width="1.0" />
<line x1="238.8" y1="313.3" x2="243.6" y2="313.3" stroke="#E41A1C" stroke-width="1.0" />
</g>
<rect x="239.55" y="266.2" width="3.3" height="22.8" fill="#E41A1C" stroke="none" stroke-width="0" />
<circle cx="241.2" cy="277.2" r="2.25" fill="#fff" stroke="#E41A1C" stroke-width="1.2"/>
<g stroke="#377EB8" stroke-opacity="0.85" stroke-width="1.0">
<line x1="246.32" y1="253.9" x2="246.32" y2="279.9" stroke="#377EB8" stroke-width="1.0" />
<line x1="246.32" y1="298.4" x2="246.32" y2="320.9" stroke="#377EB8" stroke-width="1.0" />
<line x1="243.92" y1="253.9" x2="248.72" y2="253.9" stroke="#377EB8" stroke-width="1.0" />
<line x1="243.92" y1="320.9" x2="248.72" y2="320.9" stroke="#377EB8" stroke-width="1.0" />
</g>
<rect x="244.67" y="279.9" width="3.3" height="18.5" fill="#377EB8" stroke="none" stroke-width="0" />
<circle cx="246.32" cy="288.4" r="2.25" fill="#fff" stroke="#377EB8" stroke-width="1.2"/>
<g stroke="#4DAF4A" stroke-opacity="0.85" stroke-width="1.0">
<line x1="251.44" y1="282.9" x2="251.44" y2="307.6" stroke="#4DAF4A" stroke-width="1.0" />
<line x1="251.44" y1="323.9" x2="251.44" y2="332.5" stroke="#4DAF4A" stroke-width="1.0" />
<line x1="249.04" y1="282.9" x2="253.84" y2="282.9" stroke="#4DAF4A" stroke-width="1.0" />
<line x1="249.04" y1="332.5" x2="253.84" y2="332.5" stroke="#4DAF4A" stroke-width="1.0" />
</g>
<rect x="249.79" y="307.6" width="3.3" height="16.3" fill="#4DAF4A" stroke="none" stroke-width="0" />
<circle cx="251.44" cy="316.4" r="2.25" fill="#fff" stroke="#4DAF4A" stroke-width="1.2"/>
<g stroke="#984EA3" stroke-opacity="0.85" stroke-width="1.0">
<line x1="256.56" y1="282.9" x2="256.56" y2="309.6" stroke="#984EA3" stroke-width="1.0" />
<line x1="256.56" y1="326" x2="256.56" y2="331.1" stroke="#984EA3" stroke-width="1.0" />
<line x1="254.16" y1="282.9" x2="258.96" y2="282.9" stroke="#984EA3" stroke-width="1.0" />
<line x1="254.16" y1="331.1" x2="258.96" y2="331.1" stroke="#984EA3" stroke-width="1.0" />
</g>
<rect x="254.91" y="309.6" width="3.3" height="16.4" fill="#984EA3" stroke="none" stroke-width="0" />
<circle cx="256.56" cy="316.4" r="2.25" fill="#fff" stroke="#984EA3" stroke-width="1.2"/>
<g stroke="#FF7F00" stroke-opacity="0.85" stroke-width="1.0">
<line x1="261.68" y1="271" x2="261.68" y2="304.5" stroke="#FF7F00" stroke-width="1.0" />
<line x1="261.68" y1="330.1" x2="261.68" y2="332.1" stroke="#FF7F00" stroke-width="1.0" />
<line x1="259.28" y1="271" x2="264.08" y2="271" stroke="#FF7F00" stroke-width="1.0" />
<line x1="259.28" y1="332.1" x2="264.08" y2="332.1" stroke="#FF7F00" stroke-width="1.0" />
</g>
<rect x="260.03" y="304.5" width="3.3" height="25.6" fill="#FF7F00" stroke="none" stroke-width="0" />
<circle cx="261.68" cy="315.2" r="2.25" fill="#fff" stroke="#FF7F00" stroke-width="1.2"/>
<g stroke="#A65628" stroke-opacity="0.85" stroke-width="1.0">
<line x1="266.8" y1="271" x2="266.8" y2="294.3" stroke="#A65628" stroke-width="1.0" />
<line x1="266.8" y1="310.7" x2="266.8" y2="323.9" stroke="#A65628" stroke-width="1.0" />
<line x1="264.4" y1="271" x2="269.2" y2="271" stroke="#A65628" stroke-width="1.0" />
<line x1="264.4" y1="323.9" x2="269.2" y2="323.9" stroke="#A65628" stroke-width="1.0" />
</g>
<rect x="265.15" y="294.3" width="3.3" height="16.4" fill="#A65628" stroke="none" stroke-width="0" />
<circle cx="266.8" cy="301" r="2.25" fill="#fff" stroke="#A65628" stroke-width="1.2"/>
<g stroke="#E41A1C" stroke-opacity="0.85" stroke-width="1.0">
<line x1="271.8" y1="281.4" x2="271.8" y2="292.3" stroke="#E41A1C" stroke-width="1.0" />
<line x1="271.8" y1="301.5" x2="271.8" y2="315.2" stroke="#E41A1C" stroke-width="1.0" />
<line x1="269.4" y1="281.4" x2="274.2" y2="281.4" stroke="#E41A1C" stroke-width="1.0" />
<line x1="269.4" y1="315.2" x2="274.2" y2="315.2" stroke="#E41A1C" stroke-width="1.0" />
</g>
<rect x="270.15" y="292.3" width="3.3" height="9.2" fill="#E41A1C" stroke="none" stroke-width="0" />
<circle cx="271.8" cy="297.4" r="2.25" fill="#fff" stroke="#E41A1C" stroke-width="1.2"/>
<g stroke="#377EB8" stroke-opacity="0.85" stroke-width="1.0">
<line x1="276.92" y1="287.6" x2="276.92" y2="298.8" stroke="#377EB8" stroke-width="1.0" />
<line x1="276.92" y1="306.6" x2="276.92" y2="320.3" stroke="#377EB8" stroke-width="1.0" />
<line x1="274.52" y1="287.6" x2="279.32" y2="287.6" stroke="#377EB8" stroke-width="1.0" />
<line x1="274.52" y1="320.3" x2="279.32" y2="320.3" stroke="#377EB8" stroke-width="1.0" />
</g>
<rect x="275.27" y="298.8" width="3.3" height="7.8" fill="#377EB8" stroke="none" stroke-width="0" />
<circle cx="276.92" cy="302.5" r="2.25" fill="#fff" stroke="#377EB8" stroke-width="1.2"/>
<g stroke="#4DAF4A" stroke-opacity="0.85" stroke-width="1.0">
<line x1="282.04" y1="300.4" x2="282.04" y2="313.7" stroke="#4DAF4A" stroke-width="1.0" />
<line x1="282.04" y1="325" x2="282.04" y2="332.1" stroke="#4DAF4A" stroke-width="1.0" />
<line x1="279.64" y1="300.4" x2="284.44" y2="300.4" stroke="#4DAF4A" stroke-width="1.0" />
<line x1="279.64" y1="332.1" x2="284.44" y2="332.1" stroke="#4DAF4A" stroke-width="1.0" />
</g>
<rect x="280.39" y="313.7" width="3.3" height="11.3" fill="#4DAF4A" stroke="none" stroke-width="0" />
<circle cx="282.04" cy="318.4" r="2.25" fill="#fff" stroke="#4DAF4A" stroke-width="1.2"/>
<g stroke="#984EA3" stroke-opacity="0.85" stroke-width="1.0">
<line x1="287.16" y1="299.4" x2="287.16" y2="313.7" stroke="#984EA3" stroke-width="1.0" />
<line x1="287.16" y1="324" x2="287.16" y2="330.1" stroke="#984EA3" stroke-width="1.0" />
<line x1="284.76" y1="299.4" x2="289.56" y2="299.4" stroke="#984EA3" stroke-width="1.0" />
<line x1="284.76" y1="330.1" x2="289.56" y2="330.1" stroke="#984EA3" stroke-width="1.0" />
</g>
<rect x="285.51" y="313.7" width="3.3" height="10.3" fill="#984EA3" stroke="none" stroke-width="0" />
<circle cx="287.16" cy="318.4" r="2.25" fill="#fff" stroke="#984EA3" stroke-width="1.2"/>
<g stroke="#FF7F00" stroke-opacity="0.85" stroke-width="1.0">
<line x1="292.28" y1="295.3" x2="292.28" y2="314.7" stroke="#FF7F00" stroke-width="1.0" />
<line x1="292.28" y1="323.9" x2="292.28" y2="330.1" stroke="#FF7F00" stroke-width="1.0" />
<line x1="289.88" y1="295.3" x2="294.68" y2="295.3" stroke="#FF7F00" stroke-width="1.0" />
<line x1="289.88" y1="330.1" x2="294.68" y2="330.1" stroke="#FF7F00" stroke-width="1.0" />
</g>
<rect x="290.63" y="314.7" width="3.3" height="9.2" fill="#FF7F00" stroke="none" stroke-width="0" />
<circle cx="292.28" cy="318.2" r="2.25" fill="#fff" stroke="#FF7F00" stroke-width="1.2"/>
<g stroke="#A65628" stroke-opacity="0.85" stroke-width="1.0">
<line x1="297.4" y1="295.3" x2="297.4" y2="303.5" stroke="#A65628" stroke-width="1.0" />
<line x1="297.4" y1="311.7" x2="297.4" y2="321.9" stroke="#A65628" stroke-width="1.0" />
<line x1="295" y1="295.3" x2="299.8" y2="295.3" stroke="#A65628" stroke-width="1.0" />
<line x1="295" y1="321.9" x2="299.8" y2="321.9" stroke="#A65628" stroke-width="1.0" />
</g>
<rect x="295.75" y="303.5" width="3.3" height="8.2" fill="#A65628" stroke="none" stroke-width="0" />
<circle cx="297.4" cy="308" r="2.25" fill="#fff" stroke="#A65628" stroke-width="1.2"/>
<g stroke="#E41A1C" stroke-opacity="0.85" stroke-width="1.0">
<line x1="302.3" y1="298.4" x2="302.3" y2="303.5" stroke="#E41A1C" stroke-width="1.0" />
<line x1="302.3" y1="309.6" x2="302.3" y2="317.8" stroke="#E41A1C" stroke-width="1.0" />
<line x1="299.9" y1="298.4" x2="304.7" y2="298.4" stroke="#E41A1C" stroke-width="1.0" />
<line x1="299.9" y1="317.8" x2="304.7" y2="317.8" stroke="#E41A1C" stroke-width="1.0" />
</g>
<rect x="300.65" y="303.5" width="3.3" height="6.1" fill="#E41A1C" stroke="none" stroke-width="0" />
<circle cx="302.3" cy="306.6" r="2.25" fill="#fff" stroke="#E41A1C" stroke-width="1.2"/>
<g stroke="#377EB8" stroke-opacity="0.85" stroke-width="1.0">
<line x1="307.42" y1="302.1" x2="307.42" y2="308.6" stroke="#377EB8" stroke-width="1.0" />
<line x1="307.42" y1="313.7" x2="307.42" y2="321.5" stroke="#377EB8" stroke-width="1.0" />
<line x1="305.02" y1="302.1" x2="309.82" y2="302.1" stroke="#377EB8" stroke-width="1.0" />
<line x1="305.02" y1="321.5" x2="309.82" y2="321.5" stroke="#377EB8" stroke-width="1.0" />
</g>
<rect x="305.77" y="308.6" width="3.3" height="5.1" fill="#377EB8" stroke="none" stroke-width="0" />
<circle cx="307.42" cy="311.1" r="2.25" fill="#fff" stroke="#377EB8" stroke-width="1.2"/>
<g stroke="#4DAF4A" stroke-opacity="0.85" stroke-width="1.0">
<line x1="312.54" y1="309.6" x2="312.54" y2="316.8" stroke="#4DAF4A" stroke-width="1.0" />
<line x1="312.54" y1="323.9" x2="312.54" y2="331.1" stroke="#4DAF4A" stroke-width="1.0" />
<line x1="310.14" y1="309.6" x2="314.94" y2="309.6" stroke="#4DAF4A" stroke-width="1.0" />
<line x1="310.14" y1="331.1" x2="314.94" y2="331.1" stroke="#4DAF4A" stroke-width="1.0" />
</g>
<rect x="310.89" y="316.8" width="3.3" height="7.1" fill="#4DAF4A" stroke="none" stroke-width="0" />
<circle cx="312.54" cy="320.9" r="2.25" fill="#fff" stroke="#4DAF4A" stroke-width="1.2"/>
<g stroke="#984EA3" stroke-opacity="0.85" stroke-width="1.0">
<line x1="317.66" y1="308.6" x2="317.66" y2="317.8" stroke="#984EA3" stroke-width="1.0" />
<line x1="317.66" y1="323.9" x2="317.66" y2="329" stroke="#984EA3" stroke-width="1.0" />
<line x1="315.26" y1="308.6" x2="320.06" y2="308.6" stroke="#984EA3" stroke-width="1.0" />
<line x1="315.26" y1="329" x2="320.06" y2="329" stroke="#984EA3" stroke-width="1.0" />
</g>
<rect x="316.01" y="317.8" width="3.3" height="6.1" fill="#984EA3" stroke="none" stroke-width="0" />
<circle cx="317.66" cy="320.9" r="2.25" fill="#fff" stroke="#984EA3" stroke-width="1.2"/>
<g stroke="#FF7F00" stroke-opacity="0.85" stroke-width="1.0">
<line x1="322.78" y1="306" x2="322.78" y2="316.8" stroke="#FF7F00" stroke-width="1.0" />
<line x1="322.78" y1="323.9" x2="322.78" y2="329" stroke="#FF7F00" stroke-width="1.0" />
<line x1="320.38" y1="306" x2="325.18" y2="306" stroke="#FF7F00" stroke-width="1.0" />
<line x1="320.38" y1="329" x2="325.18" y2="329" stroke="#FF7F00" stroke-width="1.0" />
</g>
<rect x="321.13" y="316.8" width="3.3" height="7.1" fill="#FF7F00" stroke="none" stroke-width="0" />
<circle cx="322.78" cy="320.3" r="2.25" fill="#fff" stroke="#FF7F00" stroke-width="1.2"/>
<g stroke="#A65628" stroke-opacity="0.85" stroke-width="1.0">
<line x1="327.9" y1="305.1" x2="327.9" y2="310.7" stroke="#A65628" stroke-width="1.0" />
<line x1="327.9" y1="316.8" x2="327.9" y2="322.5" stroke="#A65628" stroke-width="1.0" />
<line x1="325.5" y1="305.1" x2="330.3" y2="305.1" stroke="#A65628" stroke-width="1.0" />
<line x1="325.5" y1="322.5" x2="330.3" y2="322.5" stroke="#A65628" stroke-width="1.0" />
</g>
<rect x="326.25" y="310.7" width="3.3" height="6.1" fill="#A65628" stroke="none" stroke-width="0" />
<circle cx="327.9" cy="313.3" r="2.25" fill="#fff" stroke="#A65628" stroke-width="1.2"/>
<line x1="204.6" y1="211.3" x2="204.6" y2="339.7" stroke="#262626" stroke-width="1.1" />
<line x1="204.2" y1="339.3" x2="333.4" y2="339.3" stroke="#262626" stroke-width="1.1" />
<line x1="200.8" y1="336.7" x2="204.6" y2="336.7" stroke="#262626" stroke-width="1.1" />
<text x="196.8" y="339.6" font-size="8.7" text-anchor="end" font-weight="normal" fill="#111111" stroke="#111111" stroke-width="0.22" >0</text>
<line x1="200.8" y1="290.9" x2="204.6" y2="290.9" stroke="#262626" stroke-width="1.1" />
<text x="196.8" y="293.8" font-size="8.7" text-anchor="end" font-weight="normal" fill="#111111" stroke="#111111" stroke-width="0.22" >100</text>
<line x1="200.8" y1="245.1" x2="204.6" y2="245.1" stroke="#262626" stroke-width="1.1" />
<text x="196.8" y="248" font-size="8.7" text-anchor="end" font-weight="normal" fill="#111111" stroke="#111111" stroke-width="0.22" >200</text>
<line x1="223.4" y1="339.3" x2="223.4" y2="342.6" stroke="#262626" stroke-width="1.1" />
<text x="223.4" y="353.2" font-size="8.7" text-anchor="middle" font-weight="normal" fill="#111111" stroke="#111111" stroke-width="0.22" >1.2</text>
<line x1="254" y1="339.3" x2="254" y2="342.6" stroke="#262626" stroke-width="1.1" />
<text x="254" y="353.2" font-size="8.7" text-anchor="middle" font-weight="normal" fill="#111111" stroke="#111111" stroke-width="0.22" >1.3</text>
<line x1="284.6" y1="339.3" x2="284.6" y2="342.6" stroke="#262626" stroke-width="1.1" />
<text x="284.6" y="353.2" font-size="8.7" text-anchor="middle" font-weight="normal" fill="#111111" stroke="#111111" stroke-width="0.22" >1.6</text>
<line x1="315.1" y1="339.3" x2="315.1" y2="342.6" stroke="#262626" stroke-width="1.1" />
<text x="315.1" y="353.2" font-size="8.7" text-anchor="middle" font-weight="normal" fill="#111111" stroke="#111111" stroke-width="0.22" >2</text>
<text x="270.2" y="373.5" font-size="10.5" text-anchor="middle" font-weight="normal" fill="#111111" stroke="#111111" stroke-width="0.22" >Variant <tspan font-style="italic">R</tspan><tspan font-style="italic" font-size="7" dy="2">e</tspan></text>
<text x="177.3" y="276" font-size="10.5" text-anchor="middle" font-weight="normal" fill="#111111" stroke="#111111" stroke-width="0.22" transform="rotate(-90 177.3 276.0)">Day of detection</text>
<rect x="204.2" y="194.3" width="5" height="3" fill="#E41A1C" stroke="none" stroke-width="0" />
<text x="211.8" y="198.9" font-size="8.7" text-anchor="start" font-weight="normal" fill="#111111" stroke="#111111" stroke-width="0.22" >AF</text>
<rect x="226" y="194.3" width="5" height="3" fill="#377EB8" stroke="none" stroke-width="0" />
<text x="233.6" y="198.9" font-size="8.7" text-anchor="start" font-weight="normal" fill="#111111" stroke="#111111" stroke-width="0.22" >AS</text>
<rect x="248.3" y="194.3" width="5" height="3" fill="#4DAF4A" stroke="none" stroke-width="0" />
<text x="255.9" y="198.9" font-size="8.7" text-anchor="start" font-weight="normal" fill="#111111" stroke="#111111" stroke-width="0.22" >EU</text>
<rect x="271.2" y="194.3" width="5" height="3" fill="#984EA3" stroke="none" stroke-width="0" />
<text x="278.8" y="198.9" font-size="8.7" text-anchor="start" font-weight="normal" fill="#111111" stroke="#111111" stroke-width="0.22" >NA</text>
<rect x="293.5" y="194.3" width="5" height="3" fill="#FF7F00" stroke="none" stroke-width="0" />
<text x="301.1" y="198.9" font-size="8.7" text-anchor="start" font-weight="normal" fill="#111111" stroke="#111111" stroke-width="0.22" >OC</text>
<rect x="317.7" y="194.3" width="5" height="3" fill="#A65628" stroke="none" stroke-width="0" />
<text x="325.3" y="198.9" font-size="8.7" text-anchor="start" font-weight="normal" fill="#111111" stroke="#111111" stroke-width="0.22" >SA</text>
<text x="353.7" y="191.4" font-size="12" text-anchor="start" font-weight="bold" fill="#000" stroke="#000" stroke-width="0.22" >g</text>
<rect x="391.7" y="211" width="33" height="127.8" fill="#efefef" stroke="none" stroke-width="0" />
<rect x="456.1" y="211" width="30.5" height="127.8" fill="#efefef" stroke="none" stroke-width="0" />
<g stroke="#E41A1C" stroke-opacity="0.85" stroke-width="1.0">
<line x1="396.8" y1="250.4" x2="396.8" y2="264.7" stroke="#E41A1C" stroke-width="1.0" />
<line x1="396.8" y1="283.6" x2="396.8" y2="307.4" stroke="#E41A1C" stroke-width="1.0" />
<line x1="394.4" y1="250.4" x2="399.2" y2="250.4" stroke="#E41A1C" stroke-width="1.0" />
<line x1="394.4" y1="307.4" x2="399.2" y2="307.4" stroke="#E41A1C" stroke-width="1.0" />
</g>
<rect x="395.15" y="264.7" width="3.3" height="18.9" fill="#E41A1C" stroke="none" stroke-width="0" />
<circle cx="396.8" cy="265.2" r="2.25" fill="#fff" stroke="#E41A1C" stroke-width="1.2"/>
<g stroke="#377EB8" stroke-opacity="0.85" stroke-width="1.0">
<line x1="401.92" y1="264.6" x2="401.92" y2="280.3" stroke="#377EB8" stroke-width="1.0" />
<line x1="401.92" y1="296.7" x2="401.92" y2="318.1" stroke="#377EB8" stroke-width="1.0" />
<line x1="399.52" y1="264.6" x2="404.32" y2="264.6" stroke="#377EB8" stroke-width="1.0" />
<line x1="399.52" y1="318.1" x2="404.32" y2="318.1" stroke="#377EB8" stroke-width="1.0" />
</g>
<rect x="400.27" y="280.3" width="3.3" height="16.4" fill="#377EB8" stroke="none" stroke-width="0" />
<circle cx="401.92" cy="265.2" r="2.25" fill="#fff" stroke="#377EB8" stroke-width="1.2"/>
<g stroke="#4DAF4A" stroke-opacity="0.85" stroke-width="1.0">
<line x1="407.04" y1="289.3" x2="407.04" y2="306.1" stroke="#4DAF4A" stroke-width="1.0" />
<line x1="407.04" y1="322.3" x2="407.04" y2="333.3" stroke="#4DAF4A" stroke-width="1.0" />
<line x1="404.64" y1="289.3" x2="409.44" y2="289.3" stroke="#4DAF4A" stroke-width="1.0" />
<line x1="404.64" y1="333.3" x2="409.44" y2="333.3" stroke="#4DAF4A" stroke-width="1.0" />
</g>
<rect x="405.39" y="306.1" width="3.3" height="16.2" fill="#4DAF4A" stroke="none" stroke-width="0" />
<circle cx="407.04" cy="304.2" r="2.25" fill="#fff" stroke="#4DAF4A" stroke-width="1.2"/>
<g stroke="#984EA3" stroke-opacity="0.85" stroke-width="1.0">
<line x1="412.16" y1="282.1" x2="412.16" y2="308" stroke="#984EA3" stroke-width="1.0" />
<line x1="412.16" y1="322.3" x2="412.16" y2="330.4" stroke="#984EA3" stroke-width="1.0" />
<line x1="409.76" y1="282.1" x2="414.56" y2="282.1" stroke="#984EA3" stroke-width="1.0" />
<line x1="409.76" y1="330.4" x2="414.56" y2="330.4" stroke="#984EA3" stroke-width="1.0" />
</g>
<rect x="410.51" y="308" width="3.3" height="14.3" fill="#984EA3" stroke="none" stroke-width="0" />
<circle cx="412.16" cy="301.1" r="2.25" fill="#fff" stroke="#984EA3" stroke-width="1.2"/>
<g stroke="#FF7F00" stroke-opacity="0.85" stroke-width="1.0">
<line x1="417.28" y1="275.4" x2="417.28" y2="310" stroke="#FF7F00" stroke-width="1.0" />
<line x1="417.28" y1="323.8" x2="417.28" y2="331.8" stroke="#FF7F00" stroke-width="1.0" />
<line x1="414.88" y1="275.4" x2="419.68" y2="275.4" stroke="#FF7F00" stroke-width="1.0" />
<line x1="414.88" y1="331.8" x2="419.68" y2="331.8" stroke="#FF7F00" stroke-width="1.0" />
</g>
<rect x="415.63" y="310" width="3.3" height="13.8" fill="#FF7F00" stroke="none" stroke-width="0" />
<circle cx="417.28" cy="291.3" r="2.25" fill="#fff" stroke="#FF7F00" stroke-width="1.2"/>
<g stroke="#A65628" stroke-opacity="0.85" stroke-width="1.0">
<line x1="422.4" y1="279" x2="422.4" y2="293.8" stroke="#A65628" stroke-width="1.0" />
<line x1="422.4" y1="308" x2="422.4" y2="318.8" stroke="#A65628" stroke-width="1.0" />
<line x1="420" y1="279" x2="424.8" y2="279" stroke="#A65628" stroke-width="1.0" />
<line x1="420" y1="318.8" x2="424.8" y2="318.8" stroke="#A65628" stroke-width="1.0" />
</g>
<rect x="420.75" y="293.8" width="3.3" height="14.2" fill="#A65628" stroke="none" stroke-width="0" />
<circle cx="422.4" cy="294.2" r="2.25" fill="#fff" stroke="#A65628" stroke-width="1.2"/>
<g stroke="#E41A1C" stroke-opacity="0.85" stroke-width="1.0">
<line x1="427.5" y1="242.7" x2="427.5" y2="259.6" stroke="#E41A1C" stroke-width="1.0" />
<line x1="427.5" y1="276" x2="427.5" y2="300.4" stroke="#E41A1C" stroke-width="1.0" />
<line x1="425.1" y1="242.7" x2="429.9" y2="242.7" stroke="#E41A1C" stroke-width="1.0" />
<line x1="425.1" y1="300.4" x2="429.9" y2="300.4" stroke="#E41A1C" stroke-width="1.0" />
</g>
<rect x="425.85" y="259.6" width="3.3" height="16.4" fill="#E41A1C" stroke="none" stroke-width="0" />
<circle cx="427.5" cy="257" r="2.25" fill="#fff" stroke="#E41A1C" stroke-width="1.2"/>
<g stroke="#377EB8" stroke-opacity="0.85" stroke-width="1.0">
<line x1="432.62" y1="254.5" x2="432.62" y2="270.5" stroke="#377EB8" stroke-width="1.0" />
<line x1="432.62" y1="287.2" x2="432.62" y2="311.3" stroke="#377EB8" stroke-width="1.0" />
<line x1="430.22" y1="254.5" x2="435.02" y2="254.5" stroke="#377EB8" stroke-width="1.0" />
<line x1="430.22" y1="311.3" x2="435.02" y2="311.3" stroke="#377EB8" stroke-width="1.0" />
</g>
<rect x="430.97" y="270.5" width="3.3" height="16.7" fill="#377EB8" stroke="none" stroke-width="0" />
<circle cx="432.62" cy="259.2" r="2.25" fill="#fff" stroke="#377EB8" stroke-width="1.2"/>
<g stroke="#4DAF4A" stroke-opacity="0.85" stroke-width="1.0">
<line x1="437.74" y1="278.4" x2="437.74" y2="297.6" stroke="#4DAF4A" stroke-width="1.0" />
<line x1="437.74" y1="318.8" x2="437.74" y2="330.8" stroke="#4DAF4A" stroke-width="1.0" />
<line x1="435.34" y1="278.4" x2="440.14" y2="278.4" stroke="#4DAF4A" stroke-width="1.0" />
<line x1="435.34" y1="330.8" x2="440.14" y2="330.8" stroke="#4DAF4A" stroke-width="1.0" />
</g>
<rect x="436.09" y="297.6" width="3.3" height="21.2" fill="#4DAF4A" stroke="none" stroke-width="0" />
<circle cx="437.74" cy="294.2" r="2.25" fill="#fff" stroke="#4DAF4A" stroke-width="1.2"/>
<g stroke="#984EA3" stroke-opacity="0.85" stroke-width="1.0">
<line x1="442.86" y1="273.9" x2="442.86" y2="299.9" stroke="#984EA3" stroke-width="1.0" />
<line x1="442.86" y1="315.6" x2="442.86" y2="326.4" stroke="#984EA3" stroke-width="1.0" />
<line x1="440.46" y1="273.9" x2="445.26" y2="273.9" stroke="#984EA3" stroke-width="1.0" />
<line x1="440.46" y1="326.4" x2="445.26" y2="326.4" stroke="#984EA3" stroke-width="1.0" />
</g>
<rect x="441.21" y="299.9" width="3.3" height="15.7" fill="#984EA3" stroke="none" stroke-width="0" />
<circle cx="442.86" cy="293.2" r="2.25" fill="#fff" stroke="#984EA3" stroke-width="1.2"/>
<g stroke="#FF7F00" stroke-opacity="0.85" stroke-width="1.0">
<line x1="447.98" y1="263.3" x2="447.98" y2="296.1" stroke="#FF7F00" stroke-width="1.0" />
<line x1="447.98" y1="320.4" x2="447.98" y2="328.3" stroke="#FF7F00" stroke-width="1.0" />
<line x1="445.58" y1="263.3" x2="450.38" y2="263.3" stroke="#FF7F00" stroke-width="1.0" />
<line x1="445.58" y1="328.3" x2="450.38" y2="328.3" stroke="#FF7F00" stroke-width="1.0" />
</g>
<rect x="446.33" y="296.1" width="3.3" height="24.3" fill="#FF7F00" stroke="none" stroke-width="0" />
<circle cx="447.98" cy="282.7" r="2.25" fill="#fff" stroke="#FF7F00" stroke-width="1.2"/>
<g stroke="#A65628" stroke-opacity="0.85" stroke-width="1.0">
<line x1="453.1" y1="267.4" x2="453.1" y2="283.1" stroke="#A65628" stroke-width="1.0" />
<line x1="453.1" y1="299.5" x2="453.1" y2="314.3" stroke="#A65628" stroke-width="1.0" />
<line x1="450.7" y1="267.4" x2="455.5" y2="267.4" stroke="#A65628" stroke-width="1.0" />
<line x1="450.7" y1="314.3" x2="455.5" y2="314.3" stroke="#A65628" stroke-width="1.0" />
</g>
<rect x="451.45" y="283.1" width="3.3" height="16.4" fill="#A65628" stroke="none" stroke-width="0" />
<circle cx="453.1" cy="283.1" r="2.25" fill="#fff" stroke="#A65628" stroke-width="1.2"/>
<g stroke="#E41A1C" stroke-opacity="0.85" stroke-width="1.0">
<line x1="458.2" y1="230" x2="458.2" y2="244.7" stroke="#E41A1C" stroke-width="1.0" />
<line x1="458.2" y1="262.4" x2="458.2" y2="285.2" stroke="#E41A1C" stroke-width="1.0" />
<line x1="455.8" y1="230" x2="460.6" y2="230" stroke="#E41A1C" stroke-width="1.0" />
<line x1="455.8" y1="285.2" x2="460.6" y2="285.2" stroke="#E41A1C" stroke-width="1.0" />
</g>
<rect x="456.55" y="244.7" width="3.3" height="17.7" fill="#E41A1C" stroke="none" stroke-width="0" />
<circle cx="458.2" cy="243.3" r="2.25" fill="#fff" stroke="#E41A1C" stroke-width="1.2"/>
<g stroke="#377EB8" stroke-opacity="0.85" stroke-width="1.0">
<line x1="463.32" y1="241.2" x2="463.32" y2="254.6" stroke="#377EB8" stroke-width="1.0" />
<line x1="463.32" y1="271.8" x2="463.32" y2="297" stroke="#377EB8" stroke-width="1.0" />
<line x1="460.92" y1="241.2" x2="465.72" y2="241.2" stroke="#377EB8" stroke-width="1.0" />
<line x1="460.92" y1="297" x2="465.72" y2="297" stroke="#377EB8" stroke-width="1.0" />
</g>
<rect x="461.67" y="254.6" width="3.3" height="17.2" fill="#377EB8" stroke="none" stroke-width="0" />
<circle cx="463.32" cy="250.6" r="2.25" fill="#fff" stroke="#377EB8" stroke-width="1.2"/>
<g stroke="#4DAF4A" stroke-opacity="0.85" stroke-width="1.0">
<line x1="468.44" y1="261.2" x2="468.44" y2="283.6" stroke="#4DAF4A" stroke-width="1.0" />
<line x1="468.44" y1="308.3" x2="468.44" y2="324.8" stroke="#4DAF4A" stroke-width="1.0" />
<line x1="466.04" y1="261.2" x2="470.84" y2="261.2" stroke="#4DAF4A" stroke-width="1.0" />
<line x1="466.04" y1="324.8" x2="470.84" y2="324.8" stroke="#4DAF4A" stroke-width="1.0" />
</g>
<rect x="466.79" y="283.6" width="3.3" height="24.7" fill="#4DAF4A" stroke="none" stroke-width="0" />
<circle cx="468.44" cy="278.9" r="2.25" fill="#fff" stroke="#4DAF4A" stroke-width="1.2"/>
<g stroke="#984EA3" stroke-opacity="0.85" stroke-width="1.0">
<line x1="473.56" y1="259.3" x2="473.56" y2="285.9" stroke="#984EA3" stroke-width="1.0" />
<line x1="473.56" y1="307.1" x2="473.56" y2="320.1" stroke="#984EA3" stroke-width="1.0" />
<line x1="471.16" y1="259.3" x2="475.96" y2="259.3" stroke="#984EA3" stroke-width="1.0" />
<line x1="471.16" y1="320.1" x2="475.96" y2="320.1" stroke="#984EA3" stroke-width="1.0" />
</g>
<rect x="471.91" y="285.9" width="3.3" height="21.2" fill="#984EA3" stroke="none" stroke-width="0" />
<circle cx="473.56" cy="277.2" r="2.25" fill="#fff" stroke="#984EA3" stroke-width="1.2"/>
<g stroke="#FF7F00" stroke-opacity="0.85" stroke-width="1.0">
<line x1="478.68" y1="250.6" x2="478.68" y2="289.5" stroke="#FF7F00" stroke-width="1.0" />
<line x1="478.68" y1="309.5" x2="478.68" y2="320.1" stroke="#FF7F00" stroke-width="1.0" />
<line x1="476.28" y1="250.6" x2="481.08" y2="250.6" stroke="#FF7F00" stroke-width="1.0" />
<line x1="476.28" y1="320.1" x2="481.08" y2="320.1" stroke="#FF7F00" stroke-width="1.0" />
</g>
<rect x="477.03" y="289.5" width="3.3" height="20" fill="#FF7F00" stroke="none" stroke-width="0" />
<circle cx="478.68" cy="265.9" r="2.25" fill="#fff" stroke="#FF7F00" stroke-width="1.2"/>
<g stroke="#A65628" stroke-opacity="0.85" stroke-width="1.0">
<line x1="483.8" y1="251.3" x2="483.8" y2="267.8" stroke="#A65628" stroke-width="1.0" />
<line x1="483.8" y1="282.4" x2="483.8" y2="301.2" stroke="#A65628" stroke-width="1.0" />
<line x1="481.4" y1="251.3" x2="486.2" y2="251.3" stroke="#A65628" stroke-width="1.0" />
<line x1="481.4" y1="301.2" x2="486.2" y2="301.2" stroke="#A65628" stroke-width="1.0" />
</g>
<rect x="482.15" y="267.8" width="3.3" height="14.6" fill="#A65628" stroke="none" stroke-width="0" />
<circle cx="483.8" cy="265.9" r="2.25" fill="#fff" stroke="#A65628" stroke-width="1.2"/>
<g stroke="#E41A1C" stroke-opacity="0.85" stroke-width="1.0">
<line x1="488.9" y1="217.3" x2="488.9" y2="233.1" stroke="#E41A1C" stroke-width="1.0" />
<line x1="488.9" y1="244.2" x2="488.9" y2="270.6" stroke="#E41A1C" stroke-width="1.0" />
<line x1="486.5" y1="217.3" x2="491.3" y2="217.3" stroke="#E41A1C" stroke-width="1.0" />
<line x1="486.5" y1="270.6" x2="491.3" y2="270.6" stroke="#E41A1C" stroke-width="1.0" />
</g>
<rect x="487.25" y="233.1" width="3.3" height="11.1" fill="#E41A1C" stroke="none" stroke-width="0" />
<circle cx="488.9" cy="230.6" r="2.25" fill="#fff" stroke="#E41A1C" stroke-width="1.2"/>
<g stroke="#377EB8" stroke-opacity="0.85" stroke-width="1.0">
<line x1="494.02" y1="229.2" x2="494.02" y2="244.2" stroke="#377EB8" stroke-width="1.0" />
<line x1="494.02" y1="263.6" x2="494.02" y2="281.9" stroke="#377EB8" stroke-width="1.0" />
<line x1="491.62" y1="229.2" x2="496.42" y2="229.2" stroke="#377EB8" stroke-width="1.0" />
<line x1="491.62" y1="281.9" x2="496.42" y2="281.9" stroke="#377EB8" stroke-width="1.0" />
</g>
<rect x="492.37" y="244.2" width="3.3" height="19.4" fill="#377EB8" stroke="none" stroke-width="0" />
<circle cx="494.02" cy="241.9" r="2.25" fill="#fff" stroke="#377EB8" stroke-width="1.2"/>
<g stroke="#4DAF4A" stroke-opacity="0.85" stroke-width="1.0">
<line x1="499.14" y1="249" x2="499.14" y2="268.7" stroke="#4DAF4A" stroke-width="1.0" />
<line x1="499.14" y1="294.6" x2="499.14" y2="314.9" stroke="#4DAF4A" stroke-width="1.0" />
<line x1="496.74" y1="249" x2="501.54" y2="249" stroke="#4DAF4A" stroke-width="1.0" />
<line x1="496.74" y1="314.9" x2="501.54" y2="314.9" stroke="#4DAF4A" stroke-width="1.0" />
</g>
<rect x="497.49" y="268.7" width="3.3" height="25.9" fill="#4DAF4A" stroke="none" stroke-width="0" />
<circle cx="499.14" cy="264.7" r="2.25" fill="#fff" stroke="#4DAF4A" stroke-width="1.2"/>
<g stroke="#984EA3" stroke-opacity="0.85" stroke-width="1.0">
<line x1="504.26" y1="243.5" x2="504.26" y2="268.7" stroke="#984EA3" stroke-width="1.0" />
<line x1="504.26" y1="290.6" x2="504.26" y2="307.1" stroke="#984EA3" stroke-width="1.0" />
<line x1="501.86" y1="243.5" x2="506.66" y2="243.5" stroke="#984EA3" stroke-width="1.0" />
<line x1="501.86" y1="307.1" x2="506.66" y2="307.1" stroke="#984EA3" stroke-width="1.0" />
</g>
<rect x="502.61" y="268.7" width="3.3" height="21.9" fill="#984EA3" stroke="none" stroke-width="0" />
<circle cx="504.26" cy="262.4" r="2.25" fill="#fff" stroke="#984EA3" stroke-width="1.2"/>
<g stroke="#FF7F00" stroke-opacity="0.85" stroke-width="1.0">
<line x1="509.38" y1="238.2" x2="509.38" y2="270.6" stroke="#FF7F00" stroke-width="1.0" />
<line x1="509.38" y1="300" x2="509.38" y2="305.5" stroke="#FF7F00" stroke-width="1.0" />
<line x1="506.98" y1="238.2" x2="511.78" y2="238.2" stroke="#FF7F00" stroke-width="1.0" />
<line x1="506.98" y1="305.5" x2="511.78" y2="305.5" stroke="#FF7F00" stroke-width="1.0" />
</g>
<rect x="507.73" y="270.6" width="3.3" height="29.4" fill="#FF7F00" stroke="none" stroke-width="0" />
<circle cx="509.38" cy="254.1" r="2.25" fill="#fff" stroke="#FF7F00" stroke-width="1.2"/>
<g stroke="#A65628" stroke-opacity="0.85" stroke-width="1.0">
<line x1="514.5" y1="236.2" x2="514.5" y2="253" stroke="#A65628" stroke-width="1.0" />
<line x1="514.5" y1="264.7" x2="514.5" y2="283.6" stroke="#A65628" stroke-width="1.0" />
<line x1="512.1" y1="236.2" x2="516.9" y2="236.2" stroke="#A65628" stroke-width="1.0" />
<line x1="512.1" y1="283.6" x2="516.9" y2="283.6" stroke="#A65628" stroke-width="1.0" />
</g>
<rect x="512.85" y="253" width="3.3" height="11.7" fill="#A65628" stroke="none" stroke-width="0" />
<circle cx="514.5" cy="250.6" r="2.25" fill="#fff" stroke="#A65628" stroke-width="1.2"/>
<line x1="391.3" y1="211.3" x2="391.3" y2="339.5" stroke="#262626" stroke-width="1.1" />
<line x1="390.9" y1="339.1" x2="519.5" y2="339.1" stroke="#262626" stroke-width="1.1" />
<line x1="387" y1="338.4" x2="391.3" y2="338.4" stroke="#262626" stroke-width="1.0" />
<line x1="391.3" y1="332.8" x2="394.9" y2="332.8" stroke="#262626" stroke-width="0.55" />
<line x1="391.3" y1="329.53" x2="394.9" y2="329.53" stroke="#262626" stroke-width="0.55" />
<line x1="391.3" y1="327.2" x2="394.9" y2="327.2" stroke="#262626" stroke-width="0.55" />
<line x1="391.3" y1="325.4" x2="394.9" y2="325.4" stroke="#262626" stroke-width="0.55" />
<line x1="391.3" y1="323.93" x2="394.9" y2="323.93" stroke="#262626" stroke-width="0.55" />
<line x1="391.3" y1="322.68" x2="394.9" y2="322.68" stroke="#262626" stroke-width="0.55" />
<line x1="391.3" y1="321.6" x2="394.9" y2="321.6" stroke="#262626" stroke-width="0.55" />
<line x1="391.3" y1="320.65" x2="394.9" y2="320.65" stroke="#262626" stroke-width="0.55" />
<line x1="387" y1="319.8" x2="391.3" y2="319.8" stroke="#262626" stroke-width="1.0" />
<line x1="391.3" y1="314.2" x2="394.9" y2="314.2" stroke="#262626" stroke-width="0.55" />
<line x1="391.3" y1="310.93" x2="394.9" y2="310.93" stroke="#262626" stroke-width="0.55" />
<line x1="391.3" y1="308.6" x2="394.9" y2="308.6" stroke="#262626" stroke-width="0.55" />
<line x1="391.3" y1="306.8" x2="394.9" y2="306.8" stroke="#262626" stroke-width="0.55" />
<line x1="391.3" y1="305.33" x2="394.9" y2="305.33" stroke="#262626" stroke-width="0.55" />
<line x1="391.3" y1="304.08" x2="394.9" y2="304.08" stroke="#262626" stroke-width="0.55" />
<line x1="391.3" y1="303" x2="394.9" y2="303" stroke="#262626" stroke-width="0.55" />
<line x1="391.3" y1="302.05" x2="394.9" y2="302.05" stroke="#262626" stroke-width="0.55" />
<line x1="387" y1="301.2" x2="391.3" y2="301.2" stroke="#262626" stroke-width="1.0" />
<line x1="391.3" y1="295.6" x2="394.9" y2="295.6" stroke="#262626" stroke-width="0.55" />
<line x1="391.3" y1="292.33" x2="394.9" y2="292.33" stroke="#262626" stroke-width="0.55" />
<line x1="391.3" y1="290" x2="394.9" y2="290" stroke="#262626" stroke-width="0.55" />
<line x1="391.3" y1="288.2" x2="394.9" y2="288.2" stroke="#262626" stroke-width="0.55" />
<line x1="391.3" y1="286.73" x2="394.9" y2="286.73" stroke="#262626" stroke-width="0.55" />
<line x1="391.3" y1="285.48" x2="394.9" y2="285.48" stroke="#262626" stroke-width="0.55" />
<line x1="391.3" y1="284.4" x2="394.9" y2="284.4" stroke="#262626" stroke-width="0.55" />
<line x1="391.3" y1="283.45" x2="394.9" y2="283.45" stroke="#262626" stroke-width="0.55" />
<line x1="387" y1="282.6" x2="391.3" y2="282.6" stroke="#262626" stroke-width="1.0" />
<line x1="391.3" y1="277" x2="394.9" y2="277" stroke="#262626" stroke-width="0.55" />
<line x1="391.3" y1="273.73" x2="394.9" y2="273.73" stroke="#262626" stroke-width="0.55" />
<line x1="391.3" y1="271.4" x2="394.9" y2="271.4" stroke="#262626" stroke-width="0.55" />
<line x1="391.3" y1="269.6" x2="394.9" y2="269.6" stroke="#262626" stroke-width="0.55" />
<line x1="391.3" y1="268.13" x2="394.9" y2="268.13" stroke="#262626" stroke-width="0.55" />
<line x1="391.3" y1="266.88" x2="394.9" y2="266.88" stroke="#262626" stroke-width="0.55" />
<line x1="391.3" y1="265.8" x2="394.9" y2="265.8" stroke="#262626" stroke-width="0.55" />
<line x1="391.3" y1="264.85" x2="394.9" y2="264.85" stroke="#262626" stroke-width="0.55" />
<line x1="387" y1="264" x2="391.3" y2="264" stroke="#262626" stroke-width="1.0" />
<line x1="391.3" y1="258.4" x2="394.9" y2="258.4" stroke="#262626" stroke-width="0.55" />
<line x1="391.3" y1="255.13" x2="394.9" y2="255.13" stroke="#262626" stroke-width="0.55" />
<line x1="391.3" y1="252.8" x2="394.9" y2="252.8" stroke="#262626" stroke-width="0.55" />
<line x1="391.3" y1="251" x2="394.9" y2="251" stroke="#262626" stroke-width="0.55" />
<line x1="391.3" y1="249.53" x2="394.9" y2="249.53" stroke="#262626" stroke-width="0.55" />
<line x1="391.3" y1="248.28" x2="394.9" y2="248.28" stroke="#262626" stroke-width="0.55" />
<line x1="391.3" y1="247.2" x2="394.9" y2="247.2" stroke="#262626" stroke-width="0.55" />
<line x1="391.3" y1="246.25" x2="394.9" y2="246.25" stroke="#262626" stroke-width="0.55" />
<line x1="387" y1="245.4" x2="391.3" y2="245.4" stroke="#262626" stroke-width="1.0" />
<line x1="391.3" y1="239.8" x2="394.9" y2="239.8" stroke="#262626" stroke-width="0.55" />
<line x1="391.3" y1="236.53" x2="394.9" y2="236.53" stroke="#262626" stroke-width="0.55" />
<line x1="391.3" y1="234.2" x2="394.9" y2="234.2" stroke="#262626" stroke-width="0.55" />
<line x1="391.3" y1="232.4" x2="394.9" y2="232.4" stroke="#262626" stroke-width="0.55" />
<line x1="391.3" y1="230.93" x2="394.9" y2="230.93" stroke="#262626" stroke-width="0.55" />
<line x1="391.3" y1="229.68" x2="394.9" y2="229.68" stroke="#262626" stroke-width="0.55" />
<line x1="391.3" y1="228.6" x2="394.9" y2="228.6" stroke="#262626" stroke-width="0.55" />
<line x1="391.3" y1="227.65" x2="394.9" y2="227.65" stroke="#262626" stroke-width="0.55" />
<line x1="387" y1="226.8" x2="391.3" y2="226.8" stroke="#262626" stroke-width="1.0" />
<line x1="391.3" y1="221.2" x2="394.9" y2="221.2" stroke="#262626" stroke-width="0.55" />
<line x1="391.3" y1="217.93" x2="394.9" y2="217.93" stroke="#262626" stroke-width="0.55" />
<line x1="391.3" y1="215.6" x2="394.9" y2="215.6" stroke="#262626" stroke-width="0.55" />
<line x1="391.3" y1="213.8" x2="394.9" y2="213.8" stroke="#262626" stroke-width="0.55" />
<line x1="391.3" y1="212.33" x2="394.9" y2="212.33" stroke="#262626" stroke-width="0.55" />
<text x="384.2" y="342.4" font-size="8.7" text-anchor="end" font-weight="normal" fill="#111111" stroke="#111111" stroke-width="0.22" >10<tspan font-size="6.96" dy="-3.6">1</tspan></text>
<text x="384.2" y="323.8" font-size="8.7" text-anchor="end" font-weight="normal" fill="#111111" stroke="#111111" stroke-width="0.22" >10<tspan font-size="6.96" dy="-3.6">2</tspan></text>
<text x="384.2" y="305.2" font-size="8.7" text-anchor="end" font-weight="normal" fill="#111111" stroke="#111111" stroke-width="0.22" >10<tspan font-size="6.96" dy="-3.6">3</tspan></text>
<text x="384.2" y="286.6" font-size="8.7" text-anchor="end" font-weight="normal" fill="#111111" stroke="#111111" stroke-width="0.22" >10<tspan font-size="6.96" dy="-3.6">4</tspan></text>
<text x="384.2" y="268" font-size="8.7" text-anchor="end" font-weight="normal" fill="#111111" stroke="#111111" stroke-width="0.22" >10<tspan font-size="6.96" dy="-3.6">5</tspan></text>
<text x="384.2" y="249.4" font-size="8.7" text-anchor="end" font-weight="normal" fill="#111111" stroke="#111111" stroke-width="0.22" >10<tspan font-size="6.96" dy="-3.6">6</tspan></text>
<text x="384.2" y="230.8" font-size="8.7" text-anchor="end" font-weight="normal" fill="#111111" stroke="#111111" stroke-width="0.22" >10<tspan font-size="6.96" dy="-3.6">7</tspan></text>
<line x1="409.6" y1="339" x2="409.6" y2="342.3" stroke="#262626" stroke-width="1.1" />
<text x="409.6" y="353.2" font-size="8.7" text-anchor="middle" font-weight="normal" fill="#111111" stroke="#111111" stroke-width="0.22" >1.2</text>
<line x1="440.3" y1="339" x2="440.3" y2="342.3" stroke="#262626" stroke-width="1.1" />
<text x="440.3" y="353.2" font-size="8.7" text-anchor="middle" font-weight="normal" fill="#111111" stroke="#111111" stroke-width="0.22" >1.3</text>
<line x1="471" y1="339" x2="471" y2="342.3" stroke="#262626" stroke-width="1.1" />
<text x="471" y="353.2" font-size="8.7" text-anchor="middle" font-weight="normal" fill="#111111" stroke="#111111" stroke-width="0.22" >1.6</text>
<line x1="501.7" y1="339" x2="501.7" y2="342.3" stroke="#262626" stroke-width="1.1" />
<text x="501.7" y="353.2" font-size="8.7" text-anchor="middle" font-weight="normal" fill="#111111" stroke="#111111" stroke-width="0.22" >2</text>
<text x="456.5" y="373.5" font-size="10.5" text-anchor="middle" font-weight="normal" fill="#111111" stroke="#111111" stroke-width="0.22" >Variant <tspan font-style="italic">R</tspan><tspan font-style="italic" font-size="7" dy="2">e</tspan></text>
<text x="354.3" y="276.7" font-size="10.5" text-anchor="middle" font-weight="normal" fill="#111111" stroke="#111111" stroke-width="0.22" transform="rotate(-90 354.3 276.7)">Global variant infections</text>
<text x="365.7" y="277.2" font-size="10.5" text-anchor="middle" font-weight="normal" fill="#111111" stroke="#111111" stroke-width="0.22" transform="rotate(-90 365.7 277.2)">by day of detection</text>
<rect x="375.8" y="194.3" width="5" height="3" fill="#E41A1C" stroke="none" stroke-width="0" />
<text x="383.4" y="198.9" font-size="8.7" text-anchor="start" font-weight="normal" fill="#111111" stroke="#111111" stroke-width="0.22" >AF</text>
<rect x="397.2" y="194.3" width="5" height="3" fill="#377EB8" stroke="none" stroke-width="0" />
<text x="404.8" y="198.9" font-size="8.7" text-anchor="start" font-weight="normal" fill="#111111" stroke="#111111" stroke-width="0.22" >AS</text>
<rect x="419.2" y="194.3" width="5" height="3" fill="#4DAF4A" stroke="none" stroke-width="0" />
<text x="426.8" y="198.9" font-size="8.7" text-anchor="start" font-weight="normal" fill="#111111" stroke="#111111" stroke-width="0.22" >EU</text>
<rect x="442.3" y="194.3" width="5" height="3" fill="#984EA3" stroke="none" stroke-width="0" />
<text x="449.9" y="198.9" font-size="8.7" text-anchor="start" font-weight="normal" fill="#111111" stroke="#111111" stroke-width="0.22" >NA</text>
<rect x="465.2" y="194.3" width="5" height="3" fill="#FF7F00" stroke="none" stroke-width="0" />
<text x="472.8" y="198.9" font-size="8.7" text-anchor="start" font-weight="normal" fill="#111111" stroke="#111111" stroke-width="0.22" >OC</text>
<rect x="488.8" y="194.3" width="5" height="3" fill="#A65628" stroke="none" stroke-width="0" />
<text x="496.4" y="198.9" font-size="8.7" text-anchor="start" font-weight="normal" fill="#111111" stroke="#111111" stroke-width="0.22" >SA</text>
<text x="514.6" y="192.4" font-size="12" text-anchor="start" font-weight="bold" fill="#000" stroke="#000" stroke-width="0.22" >h</text>
<path d="M576,240 C578.33,242 585.17,247.83 590,252 C594.83,256.17 600,260.5 605,265 C610,269.5 615,274 620,279 C625,284 630,289.5 635,295 C640,300.5 645.17,306.17 650,312 C654.83,317.83 661.67,327 664,330" fill="none" stroke="#3B7DB8" stroke-width="1.3"/>
<path d="M576,264 C578.33,264.67 585.17,266 590,268 C594.83,270 600,273 605,276 C610,279 615,282 620,286 C625,290 630,295 635,300 C640,305 645.17,311 650,316 C654.83,321 661.67,327.67 664,330" fill="none" stroke="#A9D3EA" stroke-width="1.3"/>
<path d="M576,286 C578.33,286.33 585.17,287 590,288 C594.83,289 600,290.17 605,292 C610,293.83 615,296.17 620,299 C625,301.83 630,305.67 635,309 C640,312.33 645.17,315.5 650,319 C654.83,322.5 661.67,328.17 664,330" fill="none" stroke="#FBB36E" stroke-width="1.3"/>
<path d="M576,299 C578.33,299.5 585.17,301 590,302 C594.83,303 600,303.67 605,305 C610,306.33 615,308.17 620,310 C625,311.83 630,313.83 635,316 C640,318.17 645.17,320.67 650,323 C654.83,325.33 661.67,328.83 664,330" fill="none" stroke="#D62728" stroke-width="1.3"/>
<circle cx="649.34" cy="303.01" r="1.25" fill="#A9D3EA" fill-opacity="0.9" stroke="#3d5566" stroke-width="0.45"/>
<circle cx="576.61" cy="246.68" r="1.25" fill="#3B7DB8" fill-opacity="0.9" stroke="#1d3d5c" stroke-width="0.45"/>
<circle cx="635.64" cy="307.85" r="1.25" fill="#A9D3EA" fill-opacity="0.9" stroke="#3d5566" stroke-width="0.45"/>
<circle cx="595.1" cy="270.63" r="1.25" fill="#A9D3EA" fill-opacity="0.9" stroke="#3d5566" stroke-width="0.45"/>
<circle cx="618.83" cy="288.14" r="1.25" fill="#A9D3EA" fill-opacity="0.9" stroke="#3d5566" stroke-width="0.45"/>
<circle cx="637.31" cy="295.39" r="1.25" fill="#A9D3EA" fill-opacity="0.9" stroke="#3d5566" stroke-width="0.45"/>
<circle cx="584.64" cy="286.91" r="1.25" fill="#FBB36E" fill-opacity="0.9" stroke="#7a5530" stroke-width="0.45"/>
<circle cx="610.36" cy="289.19" r="1.25" fill="#FBB36E" fill-opacity="0.9" stroke="#7a5530" stroke-width="0.45"/>
<circle cx="610.67" cy="282.18" r="1.25" fill="#A9D3EA" fill-opacity="0.9" stroke="#3d5566" stroke-width="0.45"/>
<circle cx="580.83" cy="272.76" r="1.25" fill="#FBB36E" fill-opacity="0.9" stroke="#7a5530" stroke-width="0.45"/>
<circle cx="640.48" cy="308.26" r="1.25" fill="#A9D3EA" fill-opacity="0.9" stroke="#3d5566" stroke-width="0.45"/>
<circle cx="602.1" cy="288.71" r="1.25" fill="#FBB36E" fill-opacity="0.9" stroke="#7a5530" stroke-width="0.45"/>
<circle cx="598.32" cy="264.1" r="1.25" fill="#A9D3EA" fill-opacity="0.9" stroke="#3d5566" stroke-width="0.45"/>
<circle cx="587.19" cy="262.85" r="1.25" fill="#A9D3EA" fill-opacity="0.9" stroke="#3d5566" stroke-width="0.45"/>
<circle cx="608.89" cy="312.94" r="1.25" fill="#D62728" fill-opacity="0.9" stroke="#5c1515" stroke-width="0.45"/>
<circle cx="613.42" cy="269.11" r="1.25" fill="#A9D3EA" fill-opacity="0.9" stroke="#3d5566" stroke-width="0.45"/>
<circle cx="639.93" cy="292.7" r="1.25" fill="#3B7DB8" fill-opacity="0.9" stroke="#1d3d5c" stroke-width="0.45"/>
<circle cx="601" cy="277.57" r="1.25" fill="#3B7DB8" fill-opacity="0.9" stroke="#1d3d5c" stroke-width="0.45"/>
<circle cx="630.71" cy="297.05" r="1.25" fill="#FBB36E" fill-opacity="0.9" stroke="#7a5530" stroke-width="0.45"/>
<circle cx="641.8" cy="302.07" r="1.25" fill="#A9D3EA" fill-opacity="0.9" stroke="#3d5566" stroke-width="0.45"/>
<circle cx="584.56" cy="289.37" r="1.25" fill="#A9D3EA" fill-opacity="0.9" stroke="#3d5566" stroke-width="0.45"/>
<circle cx="623.59" cy="284.56" r="1.25" fill="#3B7DB8" fill-opacity="0.9" stroke="#1d3d5c" stroke-width="0.45"/>
<circle cx="616.9" cy="298.8" r="1.25" fill="#D62728" fill-opacity="0.9" stroke="#5c1515" stroke-width="0.45"/>
<circle cx="630.79" cy="305.71" r="1.25" fill="#FBB36E" fill-opacity="0.9" stroke="#7a5530" stroke-width="0.45"/>
<circle cx="602.24" cy="286.58" r="1.25" fill="#FBB36E" fill-opacity="0.9" stroke="#7a5530" stroke-width="0.45"/>
<circle cx="612.99" cy="297.6" r="1.25" fill="#FBB36E" fill-opacity="0.9" stroke="#7a5530" stroke-width="0.45"/>
<circle cx="631.11" cy="301.27" r="1.25" fill="#3B7DB8" fill-opacity="0.9" stroke="#1d3d5c" stroke-width="0.45"/>
<circle cx="612.65" cy="251.98" r="1.25" fill="#3B7DB8" fill-opacity="0.9" stroke="#1d3d5c" stroke-width="0.45"/>
<circle cx="608.99" cy="293.75" r="1.25" fill="#FBB36E" fill-opacity="0.9" stroke="#7a5530" stroke-width="0.45"/>
<circle cx="616.23" cy="297.79" r="1.25" fill="#A9D3EA" fill-opacity="0.9" stroke="#3d5566" stroke-width="0.45"/>
<circle cx="596.65" cy="258.72" r="1.25" fill="#A9D3EA" fill-opacity="0.9" stroke="#3d5566" stroke-width="0.45"/>
<circle cx="642" cy="311.45" r="1.25" fill="#3B7DB8" fill-opacity="0.9" stroke="#1d3d5c" stroke-width="0.45"/>
<circle cx="625.41" cy="305.38" r="1.25" fill="#FBB36E" fill-opacity="0.9" stroke="#7a5530" stroke-width="0.45"/>
<circle cx="640.37" cy="308.79" r="1.25" fill="#A9D3EA" fill-opacity="0.9" stroke="#3d5566" stroke-width="0.45"/>
<circle cx="629.97" cy="306.21" r="1.25" fill="#D62728" fill-opacity="0.9" stroke="#5c1515" stroke-width="0.45"/>
<circle cx="659.88" cy="323.91" r="1.25" fill="#3B7DB8" fill-opacity="0.9" stroke="#1d3d5c" stroke-width="0.45"/>
<circle cx="601.89" cy="273.48" r="1.25" fill="#A9D3EA" fill-opacity="0.9" stroke="#3d5566" stroke-width="0.45"/>
<circle cx="634.34" cy="298.29" r="1.25" fill="#3B7DB8" fill-opacity="0.9" stroke="#1d3d5c" stroke-width="0.45"/>
<circle cx="601.74" cy="308.19" r="1.25" fill="#D62728" fill-opacity="0.9" stroke="#5c1515" stroke-width="0.45"/>
<circle cx="600.39" cy="305.79" r="1.25" fill="#D62728" fill-opacity="0.9" stroke="#5c1515" stroke-width="0.45"/>
<circle cx="631.27" cy="302.29" r="1.25" fill="#A9D3EA" fill-opacity="0.9" stroke="#3d5566" stroke-width="0.45"/>
<circle cx="627.82" cy="280.52" r="1.25" fill="#3B7DB8" fill-opacity="0.9" stroke="#1d3d5c" stroke-width="0.45"/>
<circle cx="644.12" cy="311.66" r="1.25" fill="#A9D3EA" fill-opacity="0.9" stroke="#3d5566" stroke-width="0.45"/>
<circle cx="614.73" cy="297.54" r="1.25" fill="#FBB36E" fill-opacity="0.9" stroke="#7a5530" stroke-width="0.45"/>
<circle cx="604.77" cy="290.54" r="1.25" fill="#FBB36E" fill-opacity="0.9" stroke="#7a5530" stroke-width="0.45"/>
<circle cx="625.07" cy="314.4" r="1.25" fill="#D62728" fill-opacity="0.9" stroke="#5c1515" stroke-width="0.45"/>
<circle cx="596.18" cy="270.33" r="1.25" fill="#A9D3EA" fill-opacity="0.9" stroke="#3d5566" stroke-width="0.45"/>
<circle cx="597.07" cy="289.17" r="1.25" fill="#FBB36E" fill-opacity="0.9" stroke="#7a5530" stroke-width="0.45"/>
<circle cx="604.23" cy="277.31" r="1.25" fill="#A9D3EA" fill-opacity="0.9" stroke="#3d5566" stroke-width="0.45"/>
<circle cx="642.51" cy="304.7" r="1.25" fill="#3B7DB8" fill-opacity="0.9" stroke="#1d3d5c" stroke-width="0.45"/>
<circle cx="614.47" cy="292.44" r="1.25" fill="#FBB36E" fill-opacity="0.9" stroke="#7a5530" stroke-width="0.45"/>
<circle cx="602.71" cy="259.74" r="1.25" fill="#3B7DB8" fill-opacity="0.9" stroke="#1d3d5c" stroke-width="0.45"/>
<circle cx="630.39" cy="298.85" r="1.25" fill="#A9D3EA" fill-opacity="0.9" stroke="#3d5566" stroke-width="0.45"/>
<circle cx="604.17" cy="260.45" r="1.25" fill="#3B7DB8" fill-opacity="0.9" stroke="#1d3d5c" stroke-width="0.45"/>
<circle cx="651.32" cy="316.22" r="1.25" fill="#A9D3EA" fill-opacity="0.9" stroke="#3d5566" stroke-width="0.45"/>
<circle cx="660.62" cy="329.87" r="1.25" fill="#D62728" fill-opacity="0.9" stroke="#5c1515" stroke-width="0.45"/>
<circle cx="644.91" cy="289.66" r="1.25" fill="#3B7DB8" fill-opacity="0.9" stroke="#1d3d5c" stroke-width="0.45"/>
<circle cx="648.46" cy="302.32" r="1.25" fill="#3B7DB8" fill-opacity="0.9" stroke="#1d3d5c" stroke-width="0.45"/>
<circle cx="613.37" cy="272.49" r="1.25" fill="#3B7DB8" fill-opacity="0.9" stroke="#1d3d5c" stroke-width="0.45"/>
<circle cx="643.12" cy="325.78" r="1.25" fill="#D62728" fill-opacity="0.9" stroke="#5c1515" stroke-width="0.45"/>
<circle cx="651.49" cy="321.42" r="1.25" fill="#A9D3EA" fill-opacity="0.9" stroke="#3d5566" stroke-width="0.45"/>
<circle cx="625.76" cy="304.72" r="1.25" fill="#FBB36E" fill-opacity="0.9" stroke="#7a5530" stroke-width="0.45"/>
<circle cx="620.82" cy="308.65" r="1.25" fill="#D62728" fill-opacity="0.9" stroke="#5c1515" stroke-width="0.45"/>
<circle cx="615.99" cy="271.51" r="1.25" fill="#3B7DB8" fill-opacity="0.9" stroke="#1d3d5c" stroke-width="0.45"/>
<circle cx="626.51" cy="294.84" r="1.25" fill="#3B7DB8" fill-opacity="0.9" stroke="#1d3d5c" stroke-width="0.45"/>
<circle cx="658.91" cy="330.02" r="1.25" fill="#3B7DB8" fill-opacity="0.9" stroke="#1d3d5c" stroke-width="0.45"/>
<circle cx="600.67" cy="264.87" r="1.25" fill="#A9D3EA" fill-opacity="0.9" stroke="#3d5566" stroke-width="0.45"/>
<circle cx="615.16" cy="263.77" r="1.25" fill="#A9D3EA" fill-opacity="0.9" stroke="#3d5566" stroke-width="0.45"/>
<circle cx="613.43" cy="303.28" r="1.25" fill="#D62728" fill-opacity="0.9" stroke="#5c1515" stroke-width="0.45"/>
<circle cx="657.77" cy="328.78" r="1.25" fill="#FBB36E" fill-opacity="0.9" stroke="#7a5530" stroke-width="0.45"/>
<circle cx="596.94" cy="301.14" r="1.25" fill="#D62728" fill-opacity="0.9" stroke="#5c1515" stroke-width="0.45"/>
<circle cx="618.7" cy="260.46" r="1.25" fill="#3B7DB8" fill-opacity="0.9" stroke="#1d3d5c" stroke-width="0.45"/>
<circle cx="631.03" cy="302.09" r="1.25" fill="#A9D3EA" fill-opacity="0.9" stroke="#3d5566" stroke-width="0.45"/>
<circle cx="637.68" cy="319.26" r="1.25" fill="#FBB36E" fill-opacity="0.9" stroke="#7a5530" stroke-width="0.45"/>
<circle cx="642.21" cy="308.23" r="1.25" fill="#A9D3EA" fill-opacity="0.9" stroke="#3d5566" stroke-width="0.45"/>
<circle cx="619.34" cy="276.67" r="1.25" fill="#A9D3EA" fill-opacity="0.9" stroke="#3d5566" stroke-width="0.45"/>
<circle cx="586.09" cy="246.35" r="1.25" fill="#3B7DB8" fill-opacity="0.9" stroke="#1d3d5c" stroke-width="0.45"/>
<circle cx="643.41" cy="311.32" r="1.25" fill="#FBB36E" fill-opacity="0.9" stroke="#7a5530" stroke-width="0.45"/>
<circle cx="627.21" cy="281.59" r="1.25" fill="#3B7DB8" fill-opacity="0.9" stroke="#1d3d5c" stroke-width="0.45"/>
<circle cx="609.89" cy="304.77" r="1.25" fill="#D62728" fill-opacity="0.9" stroke="#5c1515" stroke-width="0.45"/>
<circle cx="612.86" cy="316.56" r="1.25" fill="#D62728" fill-opacity="0.9" stroke="#5c1515" stroke-width="0.45"/>
<circle cx="614.68" cy="254.64" r="1.25" fill="#3B7DB8" fill-opacity="0.9" stroke="#1d3d5c" stroke-width="0.45"/>
<circle cx="609.97" cy="293.55" r="1.25" fill="#FBB36E" fill-opacity="0.9" stroke="#7a5530" stroke-width="0.45"/>
<circle cx="630.39" cy="319.73" r="1.25" fill="#D62728" fill-opacity="0.9" stroke="#5c1515" stroke-width="0.45"/>
<circle cx="635.18" cy="300.76" r="1.25" fill="#3B7DB8" fill-opacity="0.9" stroke="#1d3d5c" stroke-width="0.45"/>
<circle cx="596.56" cy="257.67" r="1.25" fill="#3B7DB8" fill-opacity="0.9" stroke="#1d3d5c" stroke-width="0.45"/>
<circle cx="640.36" cy="285.46" r="1.25" fill="#3B7DB8" fill-opacity="0.9" stroke="#1d3d5c" stroke-width="0.45"/>
<circle cx="637.34" cy="320.35" r="1.25" fill="#FBB36E" fill-opacity="0.9" stroke="#7a5530" stroke-width="0.45"/>
<circle cx="583.73" cy="300.29" r="1.25" fill="#D62728" fill-opacity="0.9" stroke="#5c1515" stroke-width="0.45"/>
<circle cx="616" cy="301.07" r="1.25" fill="#FBB36E" fill-opacity="0.9" stroke="#7a5530" stroke-width="0.45"/>
<circle cx="603.12" cy="295.22" r="1.25" fill="#FBB36E" fill-opacity="0.9" stroke="#7a5530" stroke-width="0.45"/>
<circle cx="621.45" cy="301.7" r="1.25" fill="#FBB36E" fill-opacity="0.9" stroke="#7a5530" stroke-width="0.45"/>
<circle cx="619.3" cy="286.09" r="1.25" fill="#A9D3EA" fill-opacity="0.9" stroke="#3d5566" stroke-width="0.45"/>
<circle cx="613.39" cy="305.7" r="1.25" fill="#D62728" fill-opacity="0.9" stroke="#5c1515" stroke-width="0.45"/>
<circle cx="591.09" cy="243.63" r="1.25" fill="#3B7DB8" fill-opacity="0.9" stroke="#1d3d5c" stroke-width="0.45"/>
<circle cx="614.53" cy="315.46" r="1.25" fill="#D62728" fill-opacity="0.9" stroke="#5c1515" stroke-width="0.45"/>
<circle cx="608.4" cy="240.26" r="1.25" fill="#3B7DB8" fill-opacity="0.9" stroke="#1d3d5c" stroke-width="0.45"/>
<circle cx="620.06" cy="280.61" r="1.25" fill="#3B7DB8" fill-opacity="0.9" stroke="#1d3d5c" stroke-width="0.45"/>
<circle cx="633.58" cy="294.49" r="1.25" fill="#3B7DB8" fill-opacity="0.9" stroke="#1d3d5c" stroke-width="0.45"/>
<circle cx="618.07" cy="317.68" r="1.25" fill="#D62728" fill-opacity="0.9" stroke="#5c1515" stroke-width="0.45"/>
<circle cx="628.7" cy="296.01" r="1.25" fill="#FBB36E" fill-opacity="0.9" stroke="#7a5530" stroke-width="0.45"/>
<circle cx="630.98" cy="304.24" r="1.25" fill="#3B7DB8" fill-opacity="0.9" stroke="#1d3d5c" stroke-width="0.45"/>
<circle cx="629.91" cy="312.88" r="1.25" fill="#D62728" fill-opacity="0.9" stroke="#5c1515" stroke-width="0.45"/>
<circle cx="649.08" cy="329" r="1.25" fill="#D62728" fill-opacity="0.9" stroke="#5c1515" stroke-width="0.45"/>
<circle cx="598.67" cy="250.44" r="1.25" fill="#3B7DB8" fill-opacity="0.9" stroke="#1d3d5c" stroke-width="0.45"/>
<circle cx="619.98" cy="302.82" r="1.25" fill="#FBB36E" fill-opacity="0.9" stroke="#7a5530" stroke-width="0.45"/>
<circle cx="575.79" cy="287.39" r="1.25" fill="#FBB36E" fill-opacity="0.9" stroke="#7a5530" stroke-width="0.45"/>
<circle cx="624.08" cy="300.32" r="1.25" fill="#A9D3EA" fill-opacity="0.9" stroke="#3d5566" stroke-width="0.45"/>
<circle cx="618.78" cy="316.4" r="1.25" fill="#D62728" fill-opacity="0.9" stroke="#5c1515" stroke-width="0.45"/>
<circle cx="620.71" cy="308.05" r="1.25" fill="#D62728" fill-opacity="0.9" stroke="#5c1515" stroke-width="0.45"/>
<circle cx="584.34" cy="300.87" r="1.25" fill="#D62728" fill-opacity="0.9" stroke="#5c1515" stroke-width="0.45"/>
<circle cx="635.59" cy="285.55" r="1.25" fill="#3B7DB8" fill-opacity="0.9" stroke="#1d3d5c" stroke-width="0.45"/>
<circle cx="609.69" cy="295.28" r="1.25" fill="#FBB36E" fill-opacity="0.9" stroke="#7a5530" stroke-width="0.45"/>
<circle cx="622.18" cy="307.05" r="1.25" fill="#D62728" fill-opacity="0.9" stroke="#5c1515" stroke-width="0.45"/>
<circle cx="598.02" cy="286.55" r="1.25" fill="#FBB36E" fill-opacity="0.9" stroke="#7a5530" stroke-width="0.45"/>
<circle cx="575.23" cy="303.07" r="1.25" fill="#D62728" fill-opacity="0.9" stroke="#5c1515" stroke-width="0.45"/>
<circle cx="601.08" cy="255.13" r="1.25" fill="#A9D3EA" fill-opacity="0.9" stroke="#3d5566" stroke-width="0.45"/>
<circle cx="632.3" cy="309.04" r="1.25" fill="#A9D3EA" fill-opacity="0.9" stroke="#3d5566" stroke-width="0.45"/>
<circle cx="610.55" cy="295.08" r="1.25" fill="#FBB36E" fill-opacity="0.9" stroke="#7a5530" stroke-width="0.45"/>
<circle cx="630.9" cy="292.4" r="1.25" fill="#3B7DB8" fill-opacity="0.9" stroke="#1d3d5c" stroke-width="0.45"/>
<circle cx="643.18" cy="317.02" r="1.25" fill="#D62728" fill-opacity="0.9" stroke="#5c1515" stroke-width="0.45"/>
<circle cx="637.91" cy="318.45" r="1.25" fill="#D62728" fill-opacity="0.9" stroke="#5c1515" stroke-width="0.45"/>
<circle cx="610.47" cy="307.11" r="1.25" fill="#D62728" fill-opacity="0.9" stroke="#5c1515" stroke-width="0.45"/>
<circle cx="634.35" cy="291.87" r="1.25" fill="#3B7DB8" fill-opacity="0.9" stroke="#1d3d5c" stroke-width="0.45"/>
<circle cx="625.47" cy="295.37" r="1.25" fill="#FBB36E" fill-opacity="0.9" stroke="#7a5530" stroke-width="0.45"/>
<circle cx="625.28" cy="272.79" r="1.25" fill="#A9D3EA" fill-opacity="0.9" stroke="#3d5566" stroke-width="0.45"/>
<circle cx="642.83" cy="307.41" r="1.25" fill="#A9D3EA" fill-opacity="0.9" stroke="#3d5566" stroke-width="0.45"/>
<circle cx="648.33" cy="315.47" r="1.25" fill="#A9D3EA" fill-opacity="0.9" stroke="#3d5566" stroke-width="0.45"/>
<circle cx="632.16" cy="309.6" r="1.25" fill="#FBB36E" fill-opacity="0.9" stroke="#7a5530" stroke-width="0.45"/>
<circle cx="630.53" cy="297.25" r="1.25" fill="#3B7DB8" fill-opacity="0.9" stroke="#1d3d5c" stroke-width="0.45"/>
<circle cx="617.83" cy="291.28" r="1.25" fill="#FBB36E" fill-opacity="0.9" stroke="#7a5530" stroke-width="0.45"/>
<circle cx="662.18" cy="329.99" r="1.25" fill="#D62728" fill-opacity="0.9" stroke="#5c1515" stroke-width="0.45"/>
<circle cx="616.24" cy="283.11" r="1.25" fill="#A9D3EA" fill-opacity="0.9" stroke="#3d5566" stroke-width="0.45"/>
<circle cx="602.31" cy="264.46" r="1.25" fill="#3B7DB8" fill-opacity="0.9" stroke="#1d3d5c" stroke-width="0.45"/>
<circle cx="630.87" cy="313.07" r="1.25" fill="#FBB36E" fill-opacity="0.9" stroke="#7a5530" stroke-width="0.45"/>
<circle cx="659.95" cy="326.9" r="1.25" fill="#A9D3EA" fill-opacity="0.9" stroke="#3d5566" stroke-width="0.45"/>
<circle cx="659.4" cy="327.46" r="1.25" fill="#D62728" fill-opacity="0.9" stroke="#5c1515" stroke-width="0.45"/>
<circle cx="615.14" cy="272.08" r="1.25" fill="#3B7DB8" fill-opacity="0.9" stroke="#1d3d5c" stroke-width="0.45"/>
<circle cx="626.4" cy="300.31" r="1.25" fill="#A9D3EA" fill-opacity="0.9" stroke="#3d5566" stroke-width="0.45"/>
<circle cx="586.12" cy="303.04" r="1.25" fill="#D62728" fill-opacity="0.9" stroke="#5c1515" stroke-width="0.45"/>
<circle cx="623.54" cy="308.78" r="1.25" fill="#FBB36E" fill-opacity="0.9" stroke="#7a5530" stroke-width="0.45"/>
<circle cx="659.78" cy="325.87" r="1.25" fill="#3B7DB8" fill-opacity="0.9" stroke="#1d3d5c" stroke-width="0.45"/>
<circle cx="629.02" cy="299.23" r="1.25" fill="#FBB36E" fill-opacity="0.9" stroke="#7a5530" stroke-width="0.45"/>
<circle cx="579.33" cy="269.73" r="1.25" fill="#A9D3EA" fill-opacity="0.9" stroke="#3d5566" stroke-width="0.45"/>
<circle cx="649.95" cy="328.11" r="1.25" fill="#D62728" fill-opacity="0.9" stroke="#5c1515" stroke-width="0.45"/>
<circle cx="631.01" cy="299.12" r="1.25" fill="#FBB36E" fill-opacity="0.9" stroke="#7a5530" stroke-width="0.45"/>
<circle cx="629.6" cy="310.55" r="1.25" fill="#D62728" fill-opacity="0.9" stroke="#5c1515" stroke-width="0.45"/>
<circle cx="630.33" cy="321.1" r="1.25" fill="#D62728" fill-opacity="0.9" stroke="#5c1515" stroke-width="0.45"/>
<circle cx="617.91" cy="281.03" r="1.25" fill="#3B7DB8" fill-opacity="0.9" stroke="#1d3d5c" stroke-width="0.45"/>
<circle cx="640.87" cy="319.09" r="1.25" fill="#FBB36E" fill-opacity="0.9" stroke="#7a5530" stroke-width="0.45"/>
<circle cx="638.96" cy="312.29" r="1.25" fill="#D62728" fill-opacity="0.9" stroke="#5c1515" stroke-width="0.45"/>
<circle cx="616.12" cy="295.2" r="1.25" fill="#FBB36E" fill-opacity="0.9" stroke="#7a5530" stroke-width="0.45"/>
<circle cx="614.07" cy="294.61" r="1.25" fill="#A9D3EA" fill-opacity="0.9" stroke="#3d5566" stroke-width="0.45"/>
<circle cx="620.62" cy="299.56" r="1.25" fill="#A9D3EA" fill-opacity="0.9" stroke="#3d5566" stroke-width="0.45"/>
<circle cx="646.1" cy="316.48" r="1.25" fill="#FBB36E" fill-opacity="0.9" stroke="#7a5530" stroke-width="0.45"/>
<circle cx="658.21" cy="325.02" r="1.25" fill="#D62728" fill-opacity="0.9" stroke="#5c1515" stroke-width="0.45"/>
<circle cx="606.76" cy="258.75" r="1.25" fill="#3B7DB8" fill-opacity="0.9" stroke="#1d3d5c" stroke-width="0.45"/>
<circle cx="588.52" cy="289.6" r="1.25" fill="#FBB36E" fill-opacity="0.9" stroke="#7a5530" stroke-width="0.45"/>
<circle cx="596.43" cy="307.28" r="1.25" fill="#D62728" fill-opacity="0.9" stroke="#5c1515" stroke-width="0.45"/>
<circle cx="591.7" cy="275.21" r="1.25" fill="#FBB36E" fill-opacity="0.9" stroke="#7a5530" stroke-width="0.45"/>
<circle cx="622.23" cy="282.82" r="1.25" fill="#3B7DB8" fill-opacity="0.9" stroke="#1d3d5c" stroke-width="0.45"/>
<circle cx="611.54" cy="303.92" r="1.25" fill="#A9D3EA" fill-opacity="0.9" stroke="#3d5566" stroke-width="0.45"/>
<circle cx="661.92" cy="331.69" r="1.25" fill="#A9D3EA" fill-opacity="0.9" stroke="#3d5566" stroke-width="0.45"/>
<circle cx="616.07" cy="276.28" r="1.25" fill="#3B7DB8" fill-opacity="0.9" stroke="#1d3d5c" stroke-width="0.45"/>
<circle cx="612.18" cy="301.8" r="1.25" fill="#D62728" fill-opacity="0.9" stroke="#5c1515" stroke-width="0.45"/>
<circle cx="660.67" cy="331.3" r="1.25" fill="#A9D3EA" fill-opacity="0.9" stroke="#3d5566" stroke-width="0.45"/>
<circle cx="623.98" cy="291.37" r="1.25" fill="#FBB36E" fill-opacity="0.9" stroke="#7a5530" stroke-width="0.45"/>
<circle cx="631.91" cy="306.62" r="1.25" fill="#FBB36E" fill-opacity="0.9" stroke="#7a5530" stroke-width="0.45"/>
<circle cx="658.87" cy="324.52" r="1.25" fill="#3B7DB8" fill-opacity="0.9" stroke="#1d3d5c" stroke-width="0.45"/>
<circle cx="608.19" cy="277.47" r="1.25" fill="#A9D3EA" fill-opacity="0.9" stroke="#3d5566" stroke-width="0.45"/>
<circle cx="629.86" cy="302.19" r="1.25" fill="#A9D3EA" fill-opacity="0.9" stroke="#3d5566" stroke-width="0.45"/>
<circle cx="599" cy="260.39" r="1.25" fill="#A9D3EA" fill-opacity="0.9" stroke="#3d5566" stroke-width="0.45"/>
<circle cx="646.12" cy="315.27" r="1.25" fill="#D62728" fill-opacity="0.9" stroke="#5c1515" stroke-width="0.45"/>
<circle cx="612.72" cy="296.32" r="1.25" fill="#FBB36E" fill-opacity="0.9" stroke="#7a5530" stroke-width="0.45"/>
<circle cx="635.45" cy="317.93" r="1.25" fill="#D62728" fill-opacity="0.9" stroke="#5c1515" stroke-width="0.45"/>
<circle cx="629.81" cy="305.18" r="1.25" fill="#A9D3EA" fill-opacity="0.9" stroke="#3d5566" stroke-width="0.45"/>
<circle cx="624.7" cy="314.24" r="1.25" fill="#D62728" fill-opacity="0.9" stroke="#5c1515" stroke-width="0.45"/>
<circle cx="620.73" cy="318.51" r="1.25" fill="#D62728" fill-opacity="0.9" stroke="#5c1515" stroke-width="0.45"/>
<circle cx="647.5" cy="315.86" r="1.25" fill="#A9D3EA" fill-opacity="0.9" stroke="#3d5566" stroke-width="0.45"/>
<circle cx="604.97" cy="311.25" r="1.25" fill="#D62728" fill-opacity="0.9" stroke="#5c1515" stroke-width="0.45"/>
<circle cx="659.69" cy="326.02" r="1.25" fill="#FBB36E" fill-opacity="0.9" stroke="#7a5530" stroke-width="0.45"/>
<circle cx="629.2" cy="306.91" r="1.25" fill="#3B7DB8" fill-opacity="0.9" stroke="#1d3d5c" stroke-width="0.45"/>
<circle cx="648.26" cy="314.25" r="1.25" fill="#FBB36E" fill-opacity="0.9" stroke="#7a5530" stroke-width="0.45"/>
<circle cx="629.22" cy="313.19" r="1.25" fill="#D62728" fill-opacity="0.9" stroke="#5c1515" stroke-width="0.45"/>
<circle cx="627.82" cy="306.48" r="1.25" fill="#FBB36E" fill-opacity="0.9" stroke="#7a5530" stroke-width="0.45"/>
<circle cx="635.72" cy="308.75" r="1.25" fill="#FBB36E" fill-opacity="0.9" stroke="#7a5530" stroke-width="0.45"/>
<circle cx="625.63" cy="295.71" r="1.25" fill="#A9D3EA" fill-opacity="0.9" stroke="#3d5566" stroke-width="0.45"/>
<circle cx="630.92" cy="305.77" r="1.25" fill="#A9D3EA" fill-opacity="0.9" stroke="#3d5566" stroke-width="0.45"/>
<circle cx="597.25" cy="273.97" r="1.25" fill="#3B7DB8" fill-opacity="0.9" stroke="#1d3d5c" stroke-width="0.45"/>
<circle cx="605.98" cy="277.18" r="1.25" fill="#A9D3EA" fill-opacity="0.9" stroke="#3d5566" stroke-width="0.45"/>
<circle cx="633.6" cy="319.7" r="1.25" fill="#A9D3EA" fill-opacity="0.9" stroke="#3d5566" stroke-width="0.45"/>
<circle cx="630" cy="310.5" r="1.25" fill="#3B7DB8" fill-opacity="0.9" stroke="#1d3d5c" stroke-width="0.45"/>
<circle cx="627.38" cy="290.26" r="1.25" fill="#3B7DB8" fill-opacity="0.9" stroke="#1d3d5c" stroke-width="0.45"/>
<circle cx="612.09" cy="274.55" r="1.25" fill="#A9D3EA" fill-opacity="0.9" stroke="#3d5566" stroke-width="0.45"/>
<circle cx="645.8" cy="305.08" r="1.25" fill="#A9D3EA" fill-opacity="0.9" stroke="#3d5566" stroke-width="0.45"/>
<circle cx="605.43" cy="261.04" r="1.25" fill="#3B7DB8" fill-opacity="0.9" stroke="#1d3d5c" stroke-width="0.45"/>
<circle cx="645.59" cy="317.35" r="1.25" fill="#FBB36E" fill-opacity="0.9" stroke="#7a5530" stroke-width="0.45"/>
<circle cx="620.09" cy="299.07" r="1.25" fill="#FBB36E" fill-opacity="0.9" stroke="#7a5530" stroke-width="0.45"/>
<circle cx="608.74" cy="283.27" r="1.25" fill="#A9D3EA" fill-opacity="0.9" stroke="#3d5566" stroke-width="0.45"/>
<circle cx="634.49" cy="303.47" r="1.25" fill="#A9D3EA" fill-opacity="0.9" stroke="#3d5566" stroke-width="0.45"/>
<circle cx="629.1" cy="287.73" r="1.25" fill="#A9D3EA" fill-opacity="0.9" stroke="#3d5566" stroke-width="0.45"/>
<circle cx="589.49" cy="261.22" r="1.25" fill="#A9D3EA" fill-opacity="0.9" stroke="#3d5566" stroke-width="0.45"/>
<circle cx="627.67" cy="309.41" r="1.25" fill="#D62728" fill-opacity="0.9" stroke="#5c1515" stroke-width="0.45"/>
<circle cx="656.81" cy="328.03" r="1.25" fill="#A9D3EA" fill-opacity="0.9" stroke="#3d5566" stroke-width="0.45"/>
<circle cx="614.51" cy="304.99" r="1.25" fill="#FBB36E" fill-opacity="0.9" stroke="#7a5530" stroke-width="0.45"/>
<circle cx="659.56" cy="332.65" r="1.25" fill="#A9D3EA" fill-opacity="0.9" stroke="#3d5566" stroke-width="0.45"/>
<circle cx="620.53" cy="276.27" r="1.25" fill="#A9D3EA" fill-opacity="0.9" stroke="#3d5566" stroke-width="0.45"/>
<circle cx="609.48" cy="264.99" r="1.25" fill="#3B7DB8" fill-opacity="0.9" stroke="#1d3d5c" stroke-width="0.45"/>
<circle cx="652.39" cy="306.28" r="1.25" fill="#3B7DB8" fill-opacity="0.9" stroke="#1d3d5c" stroke-width="0.45"/>
<circle cx="598.13" cy="297.4" r="1.25" fill="#FBB36E" fill-opacity="0.9" stroke="#7a5530" stroke-width="0.45"/>
<circle cx="579.7" cy="270.07" r="1.25" fill="#A9D3EA" fill-opacity="0.9" stroke="#3d5566" stroke-width="0.45"/>
<circle cx="631.13" cy="319.47" r="1.25" fill="#D62728" fill-opacity="0.9" stroke="#5c1515" stroke-width="0.45"/>
<circle cx="606.36" cy="273.06" r="1.25" fill="#A9D3EA" fill-opacity="0.9" stroke="#3d5566" stroke-width="0.45"/>
<circle cx="602.95" cy="302.05" r="1.25" fill="#D62728" fill-opacity="0.9" stroke="#5c1515" stroke-width="0.45"/>
<circle cx="640.34" cy="323.55" r="1.25" fill="#D62728" fill-opacity="0.9" stroke="#5c1515" stroke-width="0.45"/>
<circle cx="620.67" cy="291.24" r="1.25" fill="#3B7DB8" fill-opacity="0.9" stroke="#1d3d5c" stroke-width="0.45"/>
<circle cx="585.27" cy="278.1" r="1.25" fill="#A9D3EA" fill-opacity="0.9" stroke="#3d5566" stroke-width="0.45"/>
<circle cx="646.11" cy="304.18" r="1.25" fill="#3B7DB8" fill-opacity="0.9" stroke="#1d3d5c" stroke-width="0.45"/>
<circle cx="652.52" cy="318.87" r="1.25" fill="#FBB36E" fill-opacity="0.9" stroke="#7a5530" stroke-width="0.45"/>
<circle cx="609.78" cy="308.66" r="1.25" fill="#D62728" fill-opacity="0.9" stroke="#5c1515" stroke-width="0.45"/>
<circle cx="628.34" cy="301.75" r="1.25" fill="#FBB36E" fill-opacity="0.9" stroke="#7a5530" stroke-width="0.45"/>
<circle cx="661.86" cy="331.12" r="1.25" fill="#3B7DB8" fill-opacity="0.9" stroke="#1d3d5c" stroke-width="0.45"/>
<circle cx="620.13" cy="282.11" r="1.25" fill="#3B7DB8" fill-opacity="0.9" stroke="#1d3d5c" stroke-width="0.45"/>
<circle cx="627.54" cy="278.71" r="1.25" fill="#3B7DB8" fill-opacity="0.9" stroke="#1d3d5c" stroke-width="0.45"/>
<circle cx="620.02" cy="310.42" r="1.25" fill="#D62728" fill-opacity="0.9" stroke="#5c1515" stroke-width="0.45"/>
<circle cx="637.47" cy="288.59" r="1.25" fill="#3B7DB8" fill-opacity="0.9" stroke="#1d3d5c" stroke-width="0.45"/>
<circle cx="611.99" cy="276.42" r="1.25" fill="#A9D3EA" fill-opacity="0.9" stroke="#3d5566" stroke-width="0.45"/>
<circle cx="634.37" cy="285.96" r="1.25" fill="#A9D3EA" fill-opacity="0.9" stroke="#3d5566" stroke-width="0.45"/>
<circle cx="627.79" cy="305.91" r="1.25" fill="#D62728" fill-opacity="0.9" stroke="#5c1515" stroke-width="0.45"/>
<circle cx="626.74" cy="307.32" r="1.25" fill="#FBB36E" fill-opacity="0.9" stroke="#7a5530" stroke-width="0.45"/>
<circle cx="627.95" cy="297.41" r="1.25" fill="#FBB36E" fill-opacity="0.9" stroke="#7a5530" stroke-width="0.45"/>
<circle cx="642.89" cy="322.62" r="1.25" fill="#D62728" fill-opacity="0.9" stroke="#5c1515" stroke-width="0.45"/>
<circle cx="650.21" cy="319.57" r="1.25" fill="#A9D3EA" fill-opacity="0.9" stroke="#3d5566" stroke-width="0.45"/>
<circle cx="605.04" cy="303.14" r="1.25" fill="#D62728" fill-opacity="0.9" stroke="#5c1515" stroke-width="0.45"/>
<circle cx="595.89" cy="299.58" r="1.25" fill="#D62728" fill-opacity="0.9" stroke="#5c1515" stroke-width="0.45"/>
<circle cx="647.62" cy="310.4" r="1.25" fill="#3B7DB8" fill-opacity="0.9" stroke="#1d3d5c" stroke-width="0.45"/>
<circle cx="590.84" cy="294.42" r="1.25" fill="#FBB36E" fill-opacity="0.9" stroke="#7a5530" stroke-width="0.45"/>
<circle cx="611.21" cy="288.87" r="1.25" fill="#3B7DB8" fill-opacity="0.9" stroke="#1d3d5c" stroke-width="0.45"/>
<circle cx="617.34" cy="276.36" r="1.25" fill="#A9D3EA" fill-opacity="0.9" stroke="#3d5566" stroke-width="0.45"/>
<circle cx="610.84" cy="314.93" r="1.25" fill="#D62728" fill-opacity="0.9" stroke="#5c1515" stroke-width="0.45"/>
<circle cx="623.43" cy="281.48" r="1.25" fill="#3B7DB8" fill-opacity="0.9" stroke="#1d3d5c" stroke-width="0.45"/>
<circle cx="629.22" cy="307.52" r="1.25" fill="#D62728" fill-opacity="0.9" stroke="#5c1515" stroke-width="0.45"/>
<circle cx="628.86" cy="314.24" r="1.25" fill="#FBB36E" fill-opacity="0.9" stroke="#7a5530" stroke-width="0.45"/>
<circle cx="651.66" cy="320.47" r="1.25" fill="#D62728" fill-opacity="0.9" stroke="#5c1515" stroke-width="0.45"/>
<circle cx="631.81" cy="315.25" r="1.25" fill="#FBB36E" fill-opacity="0.9" stroke="#7a5530" stroke-width="0.45"/>
<circle cx="627.55" cy="317.17" r="1.25" fill="#D62728" fill-opacity="0.9" stroke="#5c1515" stroke-width="0.45"/>
<circle cx="630.97" cy="321.21" r="1.25" fill="#D62728" fill-opacity="0.9" stroke="#5c1515" stroke-width="0.45"/>
<circle cx="617.35" cy="260.59" r="1.25" fill="#3B7DB8" fill-opacity="0.9" stroke="#1d3d5c" stroke-width="0.45"/>
<circle cx="580.83" cy="242.84" r="1.25" fill="#3B7DB8" fill-opacity="0.9" stroke="#1d3d5c" stroke-width="0.45"/>
<circle cx="621.07" cy="291.09" r="1.25" fill="#A9D3EA" fill-opacity="0.9" stroke="#3d5566" stroke-width="0.45"/>
<circle cx="643.4" cy="302.95" r="1.25" fill="#3B7DB8" fill-opacity="0.9" stroke="#1d3d5c" stroke-width="0.45"/>
<circle cx="622.63" cy="289.9" r="1.25" fill="#A9D3EA" fill-opacity="0.9" stroke="#3d5566" stroke-width="0.45"/>
<circle cx="641.66" cy="297.82" r="1.25" fill="#3B7DB8" fill-opacity="0.9" stroke="#1d3d5c" stroke-width="0.45"/>
<circle cx="636.36" cy="311.04" r="1.25" fill="#FBB36E" fill-opacity="0.9" stroke="#7a5530" stroke-width="0.45"/>
<circle cx="579.41" cy="249.63" r="1.25" fill="#3B7DB8" fill-opacity="0.9" stroke="#1d3d5c" stroke-width="0.45"/>
<circle cx="660.05" cy="329.62" r="1.25" fill="#D62728" fill-opacity="0.9" stroke="#5c1515" stroke-width="0.45"/>
<circle cx="625.12" cy="281.06" r="1.25" fill="#3B7DB8" fill-opacity="0.9" stroke="#1d3d5c" stroke-width="0.45"/>
<circle cx="626" cy="309.35" r="1.25" fill="#D62728" fill-opacity="0.9" stroke="#5c1515" stroke-width="0.45"/>
<circle cx="575.05" cy="283.36" r="1.25" fill="#FBB36E" fill-opacity="0.9" stroke="#7a5530" stroke-width="0.45"/>
<circle cx="625.64" cy="276.88" r="1.25" fill="#3B7DB8" fill-opacity="0.9" stroke="#1d3d5c" stroke-width="0.45"/>
<circle cx="626.77" cy="303.1" r="1.25" fill="#A9D3EA" fill-opacity="0.9" stroke="#3d5566" stroke-width="0.45"/>
<circle cx="627.41" cy="292.67" r="1.25" fill="#3B7DB8" fill-opacity="0.9" stroke="#1d3d5c" stroke-width="0.45"/>
<circle cx="619.91" cy="303.72" r="1.25" fill="#FBB36E" fill-opacity="0.9" stroke="#7a5530" stroke-width="0.45"/>
<circle cx="626.07" cy="281.82" r="1.25" fill="#A9D3EA" fill-opacity="0.9" stroke="#3d5566" stroke-width="0.45"/>
<circle cx="659.59" cy="330.56" r="1.25" fill="#D62728" fill-opacity="0.9" stroke="#5c1515" stroke-width="0.45"/>
<circle cx="645.31" cy="320.54" r="1.25" fill="#D62728" fill-opacity="0.9" stroke="#5c1515" stroke-width="0.45"/>
<circle cx="610.28" cy="292.3" r="1.25" fill="#FBB36E" fill-opacity="0.9" stroke="#7a5530" stroke-width="0.45"/>
<circle cx="620.66" cy="309.21" r="1.25" fill="#D62728" fill-opacity="0.9" stroke="#5c1515" stroke-width="0.45"/>
<circle cx="628.56" cy="318.64" r="1.25" fill="#FBB36E" fill-opacity="0.9" stroke="#7a5530" stroke-width="0.45"/>
<circle cx="650.84" cy="317.02" r="1.25" fill="#FBB36E" fill-opacity="0.9" stroke="#7a5530" stroke-width="0.45"/>
<circle cx="628.93" cy="300.83" r="1.25" fill="#A9D3EA" fill-opacity="0.9" stroke="#3d5566" stroke-width="0.45"/>
<circle cx="655.5" cy="327.1" r="1.25" fill="#A9D3EA" fill-opacity="0.9" stroke="#3d5566" stroke-width="0.45"/>
<circle cx="598.45" cy="304.04" r="1.25" fill="#D62728" fill-opacity="0.9" stroke="#5c1515" stroke-width="0.45"/>
<circle cx="635.12" cy="310.17" r="1.25" fill="#FBB36E" fill-opacity="0.9" stroke="#7a5530" stroke-width="0.45"/>
<circle cx="629.43" cy="291.07" r="1.25" fill="#A9D3EA" fill-opacity="0.9" stroke="#3d5566" stroke-width="0.45"/>
<circle cx="628.59" cy="314.12" r="1.25" fill="#FBB36E" fill-opacity="0.9" stroke="#7a5530" stroke-width="0.45"/>
<circle cx="651.62" cy="314.04" r="1.25" fill="#A9D3EA" fill-opacity="0.9" stroke="#3d5566" stroke-width="0.45"/>
<circle cx="606.59" cy="304.87" r="1.25" fill="#D62728" fill-opacity="0.9" stroke="#5c1515" stroke-width="0.45"/>
<circle cx="606.48" cy="297.07" r="1.25" fill="#FBB36E" fill-opacity="0.9" stroke="#7a5530" stroke-width="0.45"/>
<circle cx="655.61" cy="328.38" r="1.25" fill="#D62728" fill-opacity="0.9" stroke="#5c1515" stroke-width="0.45"/>
<circle cx="643.38" cy="309.71" r="1.25" fill="#A9D3EA" fill-opacity="0.9" stroke="#3d5566" stroke-width="0.45"/>
<circle cx="615.38" cy="300.69" r="1.25" fill="#FBB36E" fill-opacity="0.9" stroke="#7a5530" stroke-width="0.45"/>
<circle cx="605.96" cy="277.03" r="1.25" fill="#3B7DB8" fill-opacity="0.9" stroke="#1d3d5c" stroke-width="0.45"/>
<circle cx="637.69" cy="300.45" r="1.25" fill="#A9D3EA" fill-opacity="0.9" stroke="#3d5566" stroke-width="0.45"/>
<circle cx="604.29" cy="296.25" r="1.25" fill="#FBB36E" fill-opacity="0.9" stroke="#7a5530" stroke-width="0.45"/>
<circle cx="640.62" cy="310.83" r="1.25" fill="#FBB36E" fill-opacity="0.9" stroke="#7a5530" stroke-width="0.45"/>
<circle cx="609.94" cy="259.73" r="1.25" fill="#3B7DB8" fill-opacity="0.9" stroke="#1d3d5c" stroke-width="0.45"/>
<circle cx="642.76" cy="321.32" r="1.25" fill="#FBB36E" fill-opacity="0.9" stroke="#7a5530" stroke-width="0.45"/>
<circle cx="599.59" cy="304.6" r="1.25" fill="#FBB36E" fill-opacity="0.9" stroke="#7a5530" stroke-width="0.45"/>
<circle cx="651.3" cy="322.91" r="1.25" fill="#FBB36E" fill-opacity="0.9" stroke="#7a5530" stroke-width="0.45"/>
<circle cx="629.73" cy="312.71" r="1.25" fill="#D62728" fill-opacity="0.9" stroke="#5c1515" stroke-width="0.45"/>
<circle cx="642.97" cy="314.66" r="1.25" fill="#FBB36E" fill-opacity="0.9" stroke="#7a5530" stroke-width="0.45"/>
<circle cx="629.43" cy="292.44" r="1.25" fill="#3B7DB8" fill-opacity="0.9" stroke="#1d3d5c" stroke-width="0.45"/>
<circle cx="626.51" cy="317.6" r="1.25" fill="#FBB36E" fill-opacity="0.9" stroke="#7a5530" stroke-width="0.45"/>
<circle cx="602.23" cy="303.44" r="1.25" fill="#D62728" fill-opacity="0.9" stroke="#5c1515" stroke-width="0.45"/>
<circle cx="652.18" cy="320.43" r="1.25" fill="#D62728" fill-opacity="0.9" stroke="#5c1515" stroke-width="0.45"/>
<circle cx="616.86" cy="294.93" r="1.25" fill="#FBB36E" fill-opacity="0.9" stroke="#7a5530" stroke-width="0.45"/>
<circle cx="639.88" cy="320.93" r="1.25" fill="#FBB36E" fill-opacity="0.9" stroke="#7a5530" stroke-width="0.45"/>
<circle cx="626.01" cy="303.23" r="1.25" fill="#FBB36E" fill-opacity="0.9" stroke="#7a5530" stroke-width="0.45"/>
<circle cx="631.73" cy="292.38" r="1.25" fill="#A9D3EA" fill-opacity="0.9" stroke="#3d5566" stroke-width="0.45"/>
<circle cx="630.93" cy="309.85" r="1.25" fill="#A9D3EA" fill-opacity="0.9" stroke="#3d5566" stroke-width="0.45"/>
<circle cx="628.45" cy="293.43" r="1.25" fill="#A9D3EA" fill-opacity="0.9" stroke="#3d5566" stroke-width="0.45"/>
<circle cx="632.22" cy="321.38" r="1.25" fill="#D62728" fill-opacity="0.9" stroke="#5c1515" stroke-width="0.45"/>
<circle cx="637.86" cy="294.69" r="1.25" fill="#A9D3EA" fill-opacity="0.9" stroke="#3d5566" stroke-width="0.45"/>
<circle cx="635.29" cy="292.28" r="1.25" fill="#3B7DB8" fill-opacity="0.9" stroke="#1d3d5c" stroke-width="0.45"/>
<circle cx="596.27" cy="299.29" r="1.25" fill="#D62728" fill-opacity="0.9" stroke="#5c1515" stroke-width="0.45"/>
<circle cx="579.77" cy="299.58" r="1.25" fill="#D62728" fill-opacity="0.9" stroke="#5c1515" stroke-width="0.45"/>
<circle cx="574.49" cy="245.48" r="1.25" fill="#A9D3EA" fill-opacity="0.9" stroke="#3d5566" stroke-width="0.45"/>
<circle cx="603.2" cy="267.05" r="1.25" fill="#A9D3EA" fill-opacity="0.9" stroke="#3d5566" stroke-width="0.45"/>
<circle cx="639.41" cy="311.07" r="1.25" fill="#FBB36E" fill-opacity="0.9" stroke="#7a5530" stroke-width="0.45"/>
<circle cx="624.34" cy="294.72" r="1.25" fill="#A9D3EA" fill-opacity="0.9" stroke="#3d5566" stroke-width="0.45"/>
<circle cx="621.18" cy="318.32" r="1.25" fill="#D62728" fill-opacity="0.9" stroke="#5c1515" stroke-width="0.45"/>
<circle cx="605.83" cy="259.62" r="1.25" fill="#3B7DB8" fill-opacity="0.9" stroke="#1d3d5c" stroke-width="0.45"/>
<circle cx="603.98" cy="292.43" r="1.25" fill="#FBB36E" fill-opacity="0.9" stroke="#7a5530" stroke-width="0.45"/>
<circle cx="611.71" cy="308.39" r="1.25" fill="#D62728" fill-opacity="0.9" stroke="#5c1515" stroke-width="0.45"/>
<circle cx="624.18" cy="285.59" r="1.25" fill="#3B7DB8" fill-opacity="0.9" stroke="#1d3d5c" stroke-width="0.45"/>
<circle cx="650.77" cy="308.65" r="1.25" fill="#3B7DB8" fill-opacity="0.9" stroke="#1d3d5c" stroke-width="0.45"/>
<circle cx="635.88" cy="274.79" r="1.25" fill="#3B7DB8" fill-opacity="0.9" stroke="#1d3d5c" stroke-width="0.45"/>
<circle cx="597.28" cy="300.67" r="1.25" fill="#FBB36E" fill-opacity="0.9" stroke="#7a5530" stroke-width="0.45"/>
<circle cx="629.98" cy="284.86" r="1.25" fill="#A9D3EA" fill-opacity="0.9" stroke="#3d5566" stroke-width="0.45"/>
<circle cx="643.9" cy="302.65" r="1.25" fill="#3B7DB8" fill-opacity="0.9" stroke="#1d3d5c" stroke-width="0.45"/>
<circle cx="610.91" cy="278.48" r="1.25" fill="#A9D3EA" fill-opacity="0.9" stroke="#3d5566" stroke-width="0.45"/>
<circle cx="600.76" cy="264.98" r="1.25" fill="#3B7DB8" fill-opacity="0.9" stroke="#1d3d5c" stroke-width="0.45"/>
<circle cx="662.71" cy="325.99" r="1.25" fill="#FBB36E" fill-opacity="0.9" stroke="#7a5530" stroke-width="0.45"/>
<circle cx="610.93" cy="307.56" r="1.25" fill="#D62728" fill-opacity="0.9" stroke="#5c1515" stroke-width="0.45"/>
<circle cx="596.69" cy="290.75" r="1.25" fill="#FBB36E" fill-opacity="0.9" stroke="#7a5530" stroke-width="0.45"/>
<circle cx="628.22" cy="311.89" r="1.25" fill="#D62728" fill-opacity="0.9" stroke="#5c1515" stroke-width="0.45"/>
<circle cx="660.26" cy="328.39" r="1.25" fill="#FBB36E" fill-opacity="0.9" stroke="#7a5530" stroke-width="0.45"/>
<circle cx="614.03" cy="298.91" r="1.25" fill="#FBB36E" fill-opacity="0.9" stroke="#7a5530" stroke-width="0.45"/>
<circle cx="649.43" cy="311.33" r="1.25" fill="#3B7DB8" fill-opacity="0.9" stroke="#1d3d5c" stroke-width="0.45"/>
<circle cx="585.49" cy="285.41" r="1.25" fill="#FBB36E" fill-opacity="0.9" stroke="#7a5530" stroke-width="0.45"/>
<circle cx="592.64" cy="243.76" r="1.25" fill="#3B7DB8" fill-opacity="0.9" stroke="#1d3d5c" stroke-width="0.45"/>
<circle cx="655.74" cy="324.6" r="1.25" fill="#FBB36E" fill-opacity="0.9" stroke="#7a5530" stroke-width="0.45"/>
<circle cx="576.46" cy="239.58" r="1.25" fill="#A9D3EA" fill-opacity="0.9" stroke="#3d5566" stroke-width="0.45"/>
<circle cx="620.11" cy="282.02" r="1.25" fill="#3B7DB8" fill-opacity="0.9" stroke="#1d3d5c" stroke-width="0.45"/>
<circle cx="651.15" cy="316.73" r="1.25" fill="#3B7DB8" fill-opacity="0.9" stroke="#1d3d5c" stroke-width="0.45"/>
<circle cx="648.2" cy="317.23" r="1.25" fill="#FBB36E" fill-opacity="0.9" stroke="#7a5530" stroke-width="0.45"/>
<circle cx="651.29" cy="333.19" r="1.25" fill="#3B7DB8" fill-opacity="0.9" stroke="#1d3d5c" stroke-width="0.45"/>
<circle cx="579.41" cy="283.54" r="1.25" fill="#FBB36E" fill-opacity="0.9" stroke="#7a5530" stroke-width="0.45"/>
<circle cx="639.69" cy="308.87" r="1.25" fill="#3B7DB8" fill-opacity="0.9" stroke="#1d3d5c" stroke-width="0.45"/>
<circle cx="648.16" cy="317.49" r="1.25" fill="#D62728" fill-opacity="0.9" stroke="#5c1515" stroke-width="0.45"/>
<circle cx="627.38" cy="311.44" r="1.25" fill="#D62728" fill-opacity="0.9" stroke="#5c1515" stroke-width="0.45"/>
<circle cx="615.33" cy="314.24" r="1.25" fill="#D62728" fill-opacity="0.9" stroke="#5c1515" stroke-width="0.45"/>
<circle cx="628.81" cy="309" r="1.25" fill="#FBB36E" fill-opacity="0.9" stroke="#7a5530" stroke-width="0.45"/>
<circle cx="612.41" cy="270.85" r="1.25" fill="#3B7DB8" fill-opacity="0.9" stroke="#1d3d5c" stroke-width="0.45"/>
<circle cx="585.08" cy="227.24" r="1.25" fill="#3B7DB8" fill-opacity="0.9" stroke="#1d3d5c" stroke-width="0.45"/>
<circle cx="600" cy="305.97" r="1.25" fill="#D62728" fill-opacity="0.9" stroke="#5c1515" stroke-width="0.45"/>
<circle cx="632.59" cy="308.99" r="1.25" fill="#FBB36E" fill-opacity="0.9" stroke="#7a5530" stroke-width="0.45"/>
<circle cx="592.15" cy="300.79" r="1.25" fill="#D62728" fill-opacity="0.9" stroke="#5c1515" stroke-width="0.45"/>
<circle cx="626.19" cy="311.7" r="1.25" fill="#D62728" fill-opacity="0.9" stroke="#5c1515" stroke-width="0.45"/>
<circle cx="620.54" cy="292.9" r="1.25" fill="#A9D3EA" fill-opacity="0.9" stroke="#3d5566" stroke-width="0.45"/>
<circle cx="606.44" cy="307.34" r="1.25" fill="#D62728" fill-opacity="0.9" stroke="#5c1515" stroke-width="0.45"/>
<circle cx="589.15" cy="288.07" r="1.25" fill="#FBB36E" fill-opacity="0.9" stroke="#7a5530" stroke-width="0.45"/>
<circle cx="632.72" cy="314.86" r="1.25" fill="#D62728" fill-opacity="0.9" stroke="#5c1515" stroke-width="0.45"/>
<circle cx="626.2" cy="327.87" r="1.25" fill="#D62728" fill-opacity="0.9" stroke="#5c1515" stroke-width="0.45"/>
<circle cx="627.39" cy="283.14" r="1.25" fill="#A9D3EA" fill-opacity="0.9" stroke="#3d5566" stroke-width="0.45"/>
<circle cx="641.71" cy="315.96" r="1.25" fill="#D62728" fill-opacity="0.9" stroke="#5c1515" stroke-width="0.45"/>
<circle cx="605.99" cy="297.17" r="1.25" fill="#FBB36E" fill-opacity="0.9" stroke="#7a5530" stroke-width="0.45"/>
<circle cx="586.84" cy="303.53" r="1.25" fill="#D62728" fill-opacity="0.9" stroke="#5c1515" stroke-width="0.45"/>
<circle cx="635.33" cy="311.37" r="1.25" fill="#FBB36E" fill-opacity="0.9" stroke="#7a5530" stroke-width="0.45"/>
<circle cx="651.86" cy="323.02" r="1.25" fill="#FBB36E" fill-opacity="0.9" stroke="#7a5530" stroke-width="0.45"/>
<circle cx="619.25" cy="289.02" r="1.25" fill="#FBB36E" fill-opacity="0.9" stroke="#7a5530" stroke-width="0.45"/>
<circle cx="625.98" cy="284.83" r="1.25" fill="#A9D3EA" fill-opacity="0.9" stroke="#3d5566" stroke-width="0.45"/>
<circle cx="659.51" cy="326.94" r="1.25" fill="#A9D3EA" fill-opacity="0.9" stroke="#3d5566" stroke-width="0.45"/>
<circle cx="611.39" cy="249.27" r="1.25" fill="#3B7DB8" fill-opacity="0.9" stroke="#1d3d5c" stroke-width="0.45"/>
<circle cx="635.4" cy="298.7" r="1.25" fill="#A9D3EA" fill-opacity="0.9" stroke="#3d5566" stroke-width="0.45"/>
<circle cx="629.89" cy="310.31" r="1.25" fill="#A9D3EA" fill-opacity="0.9" stroke="#3d5566" stroke-width="0.45"/>
<circle cx="629.03" cy="307.77" r="1.25" fill="#A9D3EA" fill-opacity="0.9" stroke="#3d5566" stroke-width="0.45"/>
<circle cx="659.02" cy="321.96" r="1.25" fill="#3B7DB8" fill-opacity="0.9" stroke="#1d3d5c" stroke-width="0.45"/>
<circle cx="609.07" cy="279.03" r="1.25" fill="#A9D3EA" fill-opacity="0.9" stroke="#3d5566" stroke-width="0.45"/>
<circle cx="639.83" cy="316.48" r="1.25" fill="#A9D3EA" fill-opacity="0.9" stroke="#3d5566" stroke-width="0.45"/>
<circle cx="603.53" cy="280.2" r="1.25" fill="#A9D3EA" fill-opacity="0.9" stroke="#3d5566" stroke-width="0.45"/>
<circle cx="592.46" cy="270.42" r="1.25" fill="#A9D3EA" fill-opacity="0.9" stroke="#3d5566" stroke-width="0.45"/>
<circle cx="587.95" cy="261.18" r="1.25" fill="#A9D3EA" fill-opacity="0.9" stroke="#3d5566" stroke-width="0.45"/>
<circle cx="600.62" cy="303.47" r="1.25" fill="#D62728" fill-opacity="0.9" stroke="#5c1515" stroke-width="0.45"/>
<circle cx="626.14" cy="307.37" r="1.25" fill="#FBB36E" fill-opacity="0.9" stroke="#7a5530" stroke-width="0.45"/>
<circle cx="637.74" cy="286.31" r="1.25" fill="#3B7DB8" fill-opacity="0.9" stroke="#1d3d5c" stroke-width="0.45"/>
<circle cx="623.99" cy="297.83" r="1.25" fill="#3B7DB8" fill-opacity="0.9" stroke="#1d3d5c" stroke-width="0.45"/>
<circle cx="624.54" cy="290.5" r="1.25" fill="#3B7DB8" fill-opacity="0.9" stroke="#1d3d5c" stroke-width="0.45"/>
<circle cx="600.57" cy="290.27" r="1.25" fill="#FBB36E" fill-opacity="0.9" stroke="#7a5530" stroke-width="0.45"/>
<circle cx="612.66" cy="294.28" r="1.25" fill="#A9D3EA" fill-opacity="0.9" stroke="#3d5566" stroke-width="0.45"/>
<circle cx="643.29" cy="325.5" r="1.25" fill="#D62728" fill-opacity="0.9" stroke="#5c1515" stroke-width="0.45"/>
<circle cx="631.82" cy="311.05" r="1.25" fill="#FBB36E" fill-opacity="0.9" stroke="#7a5530" stroke-width="0.45"/>
<circle cx="632.58" cy="290.93" r="1.25" fill="#3B7DB8" fill-opacity="0.9" stroke="#1d3d5c" stroke-width="0.45"/>
<circle cx="576.95" cy="293.73" r="1.25" fill="#D62728" fill-opacity="0.9" stroke="#5c1515" stroke-width="0.45"/>
<circle cx="625.5" cy="318.15" r="1.25" fill="#D62728" fill-opacity="0.9" stroke="#5c1515" stroke-width="0.45"/>
<circle cx="626.64" cy="285.19" r="1.25" fill="#3B7DB8" fill-opacity="0.9" stroke="#1d3d5c" stroke-width="0.45"/>
<circle cx="579.59" cy="302.7" r="1.25" fill="#D62728" fill-opacity="0.9" stroke="#5c1515" stroke-width="0.45"/>
<circle cx="631.48" cy="308.2" r="1.25" fill="#3B7DB8" fill-opacity="0.9" stroke="#1d3d5c" stroke-width="0.45"/>
<circle cx="632.44" cy="288.53" r="1.25" fill="#3B7DB8" fill-opacity="0.9" stroke="#1d3d5c" stroke-width="0.45"/>
<circle cx="634.33" cy="298.26" r="1.25" fill="#A9D3EA" fill-opacity="0.9" stroke="#3d5566" stroke-width="0.45"/>
<circle cx="638.12" cy="319.3" r="1.25" fill="#D62728" fill-opacity="0.9" stroke="#5c1515" stroke-width="0.45"/>
<circle cx="600.89" cy="260.7" r="1.25" fill="#A9D3EA" fill-opacity="0.9" stroke="#3d5566" stroke-width="0.45"/>
<circle cx="630.45" cy="319.06" r="1.25" fill="#D62728" fill-opacity="0.9" stroke="#5c1515" stroke-width="0.45"/>
<circle cx="624.82" cy="308.72" r="1.25" fill="#D62728" fill-opacity="0.9" stroke="#5c1515" stroke-width="0.45"/>
<circle cx="604.7" cy="302.66" r="1.25" fill="#D62728" fill-opacity="0.9" stroke="#5c1515" stroke-width="0.45"/>
<circle cx="651.07" cy="324" r="1.25" fill="#D62728" fill-opacity="0.9" stroke="#5c1515" stroke-width="0.45"/>
<circle cx="600.26" cy="278.74" r="1.25" fill="#FBB36E" fill-opacity="0.9" stroke="#7a5530" stroke-width="0.45"/>
<circle cx="585.73" cy="240.13" r="1.25" fill="#3B7DB8" fill-opacity="0.9" stroke="#1d3d5c" stroke-width="0.45"/>
<circle cx="625.28" cy="295.02" r="1.25" fill="#A9D3EA" fill-opacity="0.9" stroke="#3d5566" stroke-width="0.45"/>
<circle cx="633.9" cy="324.58" r="1.25" fill="#D62728" fill-opacity="0.9" stroke="#5c1515" stroke-width="0.45"/>
<circle cx="620.42" cy="294.66" r="1.25" fill="#FBB36E" fill-opacity="0.9" stroke="#7a5530" stroke-width="0.45"/>
<circle cx="596.72" cy="278.52" r="1.25" fill="#3B7DB8" fill-opacity="0.9" stroke="#1d3d5c" stroke-width="0.45"/>
<circle cx="614.57" cy="265.74" r="1.25" fill="#3B7DB8" fill-opacity="0.9" stroke="#1d3d5c" stroke-width="0.45"/>
<circle cx="614.76" cy="309.77" r="1.25" fill="#D62728" fill-opacity="0.9" stroke="#5c1515" stroke-width="0.45"/>
<circle cx="629.13" cy="286.26" r="1.25" fill="#3B7DB8" fill-opacity="0.9" stroke="#1d3d5c" stroke-width="0.45"/>
<circle cx="635.01" cy="308.21" r="1.25" fill="#D62728" fill-opacity="0.9" stroke="#5c1515" stroke-width="0.45"/>
<circle cx="623.48" cy="310.84" r="1.25" fill="#D62728" fill-opacity="0.9" stroke="#5c1515" stroke-width="0.45"/>
<circle cx="649.29" cy="324.64" r="1.25" fill="#FBB36E" fill-opacity="0.9" stroke="#7a5530" stroke-width="0.45"/>
<circle cx="612.09" cy="290.04" r="1.25" fill="#FBB36E" fill-opacity="0.9" stroke="#7a5530" stroke-width="0.45"/>
<circle cx="632.12" cy="316.87" r="1.25" fill="#D62728" fill-opacity="0.9" stroke="#5c1515" stroke-width="0.45"/>
<circle cx="615.62" cy="277.29" r="1.25" fill="#3B7DB8" fill-opacity="0.9" stroke="#1d3d5c" stroke-width="0.45"/>
<circle cx="655.49" cy="313.62" r="1.25" fill="#3B7DB8" fill-opacity="0.9" stroke="#1d3d5c" stroke-width="0.45"/>
<circle cx="610.52" cy="266.68" r="1.25" fill="#3B7DB8" fill-opacity="0.9" stroke="#1d3d5c" stroke-width="0.45"/>
<circle cx="599.95" cy="254.97" r="1.25" fill="#3B7DB8" fill-opacity="0.9" stroke="#1d3d5c" stroke-width="0.45"/>
<circle cx="634.78" cy="319.56" r="1.25" fill="#D62728" fill-opacity="0.9" stroke="#5c1515" stroke-width="0.45"/>
<circle cx="621.57" cy="284.54" r="1.25" fill="#3B7DB8" fill-opacity="0.9" stroke="#1d3d5c" stroke-width="0.45"/>
<circle cx="626.42" cy="299.56" r="1.25" fill="#A9D3EA" fill-opacity="0.9" stroke="#3d5566" stroke-width="0.45"/>
<circle cx="629.98" cy="279.54" r="1.25" fill="#3B7DB8" fill-opacity="0.9" stroke="#1d3d5c" stroke-width="0.45"/>
<circle cx="589.54" cy="303.23" r="1.25" fill="#D62728" fill-opacity="0.9" stroke="#5c1515" stroke-width="0.45"/>
<circle cx="597.57" cy="265.76" r="1.25" fill="#3B7DB8" fill-opacity="0.9" stroke="#1d3d5c" stroke-width="0.45"/>
<circle cx="604.63" cy="259.4" r="1.25" fill="#3B7DB8" fill-opacity="0.9" stroke="#1d3d5c" stroke-width="0.45"/>
<circle cx="631.77" cy="310.87" r="1.25" fill="#D62728" fill-opacity="0.9" stroke="#5c1515" stroke-width="0.45"/>
<circle cx="629.38" cy="311.87" r="1.25" fill="#3B7DB8" fill-opacity="0.9" stroke="#1d3d5c" stroke-width="0.45"/>
<circle cx="584.81" cy="253.58" r="1.25" fill="#3B7DB8" fill-opacity="0.9" stroke="#1d3d5c" stroke-width="0.45"/>
<circle cx="574.84" cy="241.92" r="1.25" fill="#3B7DB8" fill-opacity="0.9" stroke="#1d3d5c" stroke-width="0.45"/>
<circle cx="636.47" cy="308.29" r="1.25" fill="#FBB36E" fill-opacity="0.9" stroke="#7a5530" stroke-width="0.45"/>
<circle cx="628.51" cy="295.77" r="1.25" fill="#3B7DB8" fill-opacity="0.9" stroke="#1d3d5c" stroke-width="0.45"/>
<circle cx="659.05" cy="328.59" r="1.25" fill="#FBB36E" fill-opacity="0.9" stroke="#7a5530" stroke-width="0.45"/>
<circle cx="622.16" cy="302.58" r="1.25" fill="#FBB36E" fill-opacity="0.9" stroke="#7a5530" stroke-width="0.45"/>
<circle cx="591.22" cy="253.69" r="1.25" fill="#A9D3EA" fill-opacity="0.9" stroke="#3d5566" stroke-width="0.45"/>
<circle cx="609.16" cy="262.96" r="1.25" fill="#3B7DB8" fill-opacity="0.9" stroke="#1d3d5c" stroke-width="0.45"/>
<circle cx="635.15" cy="316.16" r="1.25" fill="#D62728" fill-opacity="0.9" stroke="#5c1515" stroke-width="0.45"/>
<circle cx="642.62" cy="319.74" r="1.25" fill="#A9D3EA" fill-opacity="0.9" stroke="#3d5566" stroke-width="0.45"/>
<circle cx="620.24" cy="299.52" r="1.25" fill="#FBB36E" fill-opacity="0.9" stroke="#7a5530" stroke-width="0.45"/>
<circle cx="617.38" cy="284.59" r="1.25" fill="#A9D3EA" fill-opacity="0.9" stroke="#3d5566" stroke-width="0.45"/>
<circle cx="639.85" cy="325.66" r="1.25" fill="#D62728" fill-opacity="0.9" stroke="#5c1515" stroke-width="0.45"/>
<circle cx="609.43" cy="264.52" r="1.25" fill="#A9D3EA" fill-opacity="0.9" stroke="#3d5566" stroke-width="0.45"/>
<circle cx="635.07" cy="293.1" r="1.25" fill="#3B7DB8" fill-opacity="0.9" stroke="#1d3d5c" stroke-width="0.45"/>
<circle cx="648.94" cy="324.42" r="1.25" fill="#D62728" fill-opacity="0.9" stroke="#5c1515" stroke-width="0.45"/>
<circle cx="628.14" cy="281.99" r="1.25" fill="#3B7DB8" fill-opacity="0.9" stroke="#1d3d5c" stroke-width="0.45"/>
<circle cx="635.46" cy="319.61" r="1.25" fill="#D62728" fill-opacity="0.9" stroke="#5c1515" stroke-width="0.45"/>
<circle cx="624.28" cy="297.16" r="1.25" fill="#FBB36E" fill-opacity="0.9" stroke="#7a5530" stroke-width="0.45"/>
<circle cx="635.64" cy="317.25" r="1.25" fill="#D62728" fill-opacity="0.9" stroke="#5c1515" stroke-width="0.45"/>
<circle cx="635.16" cy="312.95" r="1.25" fill="#FBB36E" fill-opacity="0.9" stroke="#7a5530" stroke-width="0.45"/>
<circle cx="659.2" cy="328.19" r="1.25" fill="#FBB36E" fill-opacity="0.9" stroke="#7a5530" stroke-width="0.45"/>
<circle cx="631.96" cy="296.86" r="1.25" fill="#FBB36E" fill-opacity="0.9" stroke="#7a5530" stroke-width="0.45"/>
<circle cx="590.55" cy="297.14" r="1.25" fill="#D62728" fill-opacity="0.9" stroke="#5c1515" stroke-width="0.45"/>
<circle cx="583.9" cy="288.06" r="1.25" fill="#FBB36E" fill-opacity="0.9" stroke="#7a5530" stroke-width="0.45"/>
<circle cx="616.06" cy="316.07" r="1.25" fill="#D62728" fill-opacity="0.9" stroke="#5c1515" stroke-width="0.45"/>
<circle cx="634.28" cy="315.71" r="1.25" fill="#FBB36E" fill-opacity="0.9" stroke="#7a5530" stroke-width="0.45"/>
<circle cx="615.17" cy="310.11" r="1.25" fill="#D62728" fill-opacity="0.9" stroke="#5c1515" stroke-width="0.45"/>
<circle cx="610.55" cy="302.6" r="1.25" fill="#A9D3EA" fill-opacity="0.9" stroke="#3d5566" stroke-width="0.45"/>
<circle cx="615.35" cy="288.83" r="1.25" fill="#A9D3EA" fill-opacity="0.9" stroke="#3d5566" stroke-width="0.45"/>
<circle cx="643.42" cy="317.29" r="1.25" fill="#FBB36E" fill-opacity="0.9" stroke="#7a5530" stroke-width="0.45"/>
<circle cx="605.29" cy="270.9" r="1.25" fill="#A9D3EA" fill-opacity="0.9" stroke="#3d5566" stroke-width="0.45"/>
<circle cx="636.82" cy="308.43" r="1.25" fill="#A9D3EA" fill-opacity="0.9" stroke="#3d5566" stroke-width="0.45"/>
<circle cx="631.79" cy="315.81" r="1.25" fill="#D62728" fill-opacity="0.9" stroke="#5c1515" stroke-width="0.45"/>
<circle cx="588.82" cy="252.47" r="1.25" fill="#3B7DB8" fill-opacity="0.9" stroke="#1d3d5c" stroke-width="0.45"/>
<circle cx="626.91" cy="299.42" r="1.25" fill="#A9D3EA" fill-opacity="0.9" stroke="#3d5566" stroke-width="0.45"/>
<line x1="572.4" y1="211.3" x2="572.4" y2="339.1" stroke="#262626" stroke-width="1.1" />
<line x1="572" y1="338.7" x2="668.9" y2="338.7" stroke="#262626" stroke-width="1.1" />
<line x1="568.6" y1="332.9" x2="572.4" y2="332.9" stroke="#262626" stroke-width="1.1" />
<text x="564.6" y="335.8" font-size="8.7" text-anchor="end" font-weight="normal" fill="#111111" stroke="#111111" stroke-width="0.22" >0</text>
<line x1="568.6" y1="309.74" x2="572.4" y2="309.74" stroke="#262626" stroke-width="1.1" />
<text x="564.6" y="312.64" font-size="8.7" text-anchor="end" font-weight="normal" fill="#111111" stroke="#111111" stroke-width="0.22" >50</text>
<line x1="568.6" y1="286.58" x2="572.4" y2="286.58" stroke="#262626" stroke-width="1.1" />
<text x="564.6" y="289.48" font-size="8.7" text-anchor="end" font-weight="normal" fill="#111111" stroke="#111111" stroke-width="0.22" >100</text>
<line x1="568.6" y1="263.42" x2="572.4" y2="263.42" stroke="#262626" stroke-width="1.1" />
<text x="564.6" y="266.32" font-size="8.7" text-anchor="end" font-weight="normal" fill="#111111" stroke="#111111" stroke-width="0.22" >150</text>
<line x1="568.6" y1="240.26" x2="572.4" y2="240.26" stroke="#262626" stroke-width="1.1" />
<text x="564.6" y="243.16" font-size="8.7" text-anchor="end" font-weight="normal" fill="#111111" stroke="#111111" stroke-width="0.22" >200</text>
<line x1="568.6" y1="217.1" x2="572.4" y2="217.1" stroke="#262626" stroke-width="1.1" />
<text x="564.6" y="220" font-size="8.7" text-anchor="end" font-weight="normal" fill="#111111" stroke="#111111" stroke-width="0.22" >250</text>
<line x1="573.42" y1="339.9" x2="573.42" y2="342.2" stroke="#262626" stroke-width="0.6" />
<line x1="576.23" y1="339.9" x2="576.23" y2="342.2" stroke="#262626" stroke-width="0.6" />
<line x1="578.23" y1="339.9" x2="578.23" y2="342.2" stroke="#262626" stroke-width="0.6" />
<line x1="579.78" y1="339.9" x2="579.78" y2="342.2" stroke="#262626" stroke-width="0.6" />
<line x1="581.05" y1="339.9" x2="581.05" y2="342.2" stroke="#262626" stroke-width="0.6" />
<line x1="582.12" y1="339.9" x2="582.12" y2="342.2" stroke="#262626" stroke-width="0.6" />
<line x1="583.05" y1="339.9" x2="583.05" y2="342.2" stroke="#262626" stroke-width="0.6" />
<line x1="583.87" y1="339.9" x2="583.87" y2="342.2" stroke="#262626" stroke-width="0.6" />
<line x1="584.6" y1="338.7" x2="584.6" y2="343.2" stroke="#262626" stroke-width="1.0" />
<line x1="589.42" y1="339.9" x2="589.42" y2="342.2" stroke="#262626" stroke-width="0.6" />
<line x1="592.23" y1="339.9" x2="592.23" y2="342.2" stroke="#262626" stroke-width="0.6" />
<line x1="594.23" y1="339.9" x2="594.23" y2="342.2" stroke="#262626" stroke-width="0.6" />
<line x1="595.78" y1="339.9" x2="595.78" y2="342.2" stroke="#262626" stroke-width="0.6" />
<line x1="597.05" y1="339.9" x2="597.05" y2="342.2" stroke="#262626" stroke-width="0.6" />
<line x1="598.12" y1="339.9" x2="598.12" y2="342.2" stroke="#262626" stroke-width="0.6" />
<line x1="599.05" y1="339.9" x2="599.05" y2="342.2" stroke="#262626" stroke-width="0.6" />
<line x1="599.87" y1="339.9" x2="599.87" y2="342.2" stroke="#262626" stroke-width="0.6" />
<line x1="600.6" y1="338.7" x2="600.6" y2="343.2" stroke="#262626" stroke-width="1.0" />
<line x1="605.42" y1="339.9" x2="605.42" y2="342.2" stroke="#262626" stroke-width="0.6" />
<line x1="608.23" y1="339.9" x2="608.23" y2="342.2" stroke="#262626" stroke-width="0.6" />
<line x1="610.23" y1="339.9" x2="610.23" y2="342.2" stroke="#262626" stroke-width="0.6" />
<line x1="611.78" y1="339.9" x2="611.78" y2="342.2" stroke="#262626" stroke-width="0.6" />
<line x1="613.05" y1="339.9" x2="613.05" y2="342.2" stroke="#262626" stroke-width="0.6" />
<line x1="614.12" y1="339.9" x2="614.12" y2="342.2" stroke="#262626" stroke-width="0.6" />
<line x1="615.05" y1="339.9" x2="615.05" y2="342.2" stroke="#262626" stroke-width="0.6" />
<line x1="615.87" y1="339.9" x2="615.87" y2="342.2" stroke="#262626" stroke-width="0.6" />
<line x1="616.6" y1="338.7" x2="616.6" y2="343.2" stroke="#262626" stroke-width="1.0" />
<line x1="621.42" y1="339.9" x2="621.42" y2="342.2" stroke="#262626" stroke-width="0.6" />
<line x1="624.23" y1="339.9" x2="624.23" y2="342.2" stroke="#262626" stroke-width="0.6" />
<line x1="626.23" y1="339.9" x2="626.23" y2="342.2" stroke="#262626" stroke-width="0.6" />
<line x1="627.78" y1="339.9" x2="627.78" y2="342.2" stroke="#262626" stroke-width="0.6" />
<line x1="629.05" y1="339.9" x2="629.05" y2="342.2" stroke="#262626" stroke-width="0.6" />
<line x1="630.12" y1="339.9" x2="630.12" y2="342.2" stroke="#262626" stroke-width="0.6" />
<line x1="631.05" y1="339.9" x2="631.05" y2="342.2" stroke="#262626" stroke-width="0.6" />
<line x1="631.87" y1="339.9" x2="631.87" y2="342.2" stroke="#262626" stroke-width="0.6" />
<line x1="632.6" y1="338.7" x2="632.6" y2="343.2" stroke="#262626" stroke-width="1.0" />
<line x1="637.42" y1="339.9" x2="637.42" y2="342.2" stroke="#262626" stroke-width="0.6" />
<line x1="640.23" y1="339.9" x2="640.23" y2="342.2" stroke="#262626" stroke-width="0.6" />
<line x1="642.23" y1="339.9" x2="642.23" y2="342.2" stroke="#262626" stroke-width="0.6" />
<line x1="643.78" y1="339.9" x2="643.78" y2="342.2" stroke="#262626" stroke-width="0.6" />
<line x1="645.05" y1="339.9" x2="645.05" y2="342.2" stroke="#262626" stroke-width="0.6" />
<line x1="646.12" y1="339.9" x2="646.12" y2="342.2" stroke="#262626" stroke-width="0.6" />
<line x1="647.05" y1="339.9" x2="647.05" y2="342.2" stroke="#262626" stroke-width="0.6" />
<line x1="647.87" y1="339.9" x2="647.87" y2="342.2" stroke="#262626" stroke-width="0.6" />
<line x1="648.6" y1="338.7" x2="648.6" y2="343.2" stroke="#262626" stroke-width="1.0" />
<line x1="653.42" y1="339.9" x2="653.42" y2="342.2" stroke="#262626" stroke-width="0.6" />
<line x1="656.23" y1="339.9" x2="656.23" y2="342.2" stroke="#262626" stroke-width="0.6" />
<line x1="658.23" y1="339.9" x2="658.23" y2="342.2" stroke="#262626" stroke-width="0.6" />
<line x1="659.78" y1="339.9" x2="659.78" y2="342.2" stroke="#262626" stroke-width="0.6" />
<line x1="661.05" y1="339.9" x2="661.05" y2="342.2" stroke="#262626" stroke-width="0.6" />
<line x1="662.12" y1="339.9" x2="662.12" y2="342.2" stroke="#262626" stroke-width="0.6" />
<line x1="663.05" y1="339.9" x2="663.05" y2="342.2" stroke="#262626" stroke-width="0.6" />
<line x1="663.87" y1="339.9" x2="663.87" y2="342.2" stroke="#262626" stroke-width="0.6" />
<line x1="664.6" y1="338.7" x2="664.6" y2="343.2" stroke="#262626" stroke-width="1.0" />
<text x="584.8" y="355.3" font-size="8.7" text-anchor="middle" font-weight="normal" fill="#111111" stroke="#111111" stroke-width="0.22" >10<tspan font-size="6.96" dy="-3.6">−2</tspan></text>
<text x="600.8" y="355.3" font-size="8.7" text-anchor="middle" font-weight="normal" fill="#111111" stroke="#111111" stroke-width="0.22" >10<tspan font-size="6.96" dy="-3.6">−1</tspan></text>
<text x="616.8" y="355.3" font-size="8.7" text-anchor="middle" font-weight="normal" fill="#111111" stroke="#111111" stroke-width="0.22" >10<tspan font-size="6.96" dy="-3.6">0</tspan></text>
<text x="632.8" y="355.3" font-size="8.7" text-anchor="middle" font-weight="normal" fill="#111111" stroke="#111111" stroke-width="0.22" >10<tspan font-size="6.96" dy="-3.6">1</tspan></text>
<text x="648.8" y="355.3" font-size="8.7" text-anchor="middle" font-weight="normal" fill="#111111" stroke="#111111" stroke-width="0.22" >10<tspan font-size="6.96" dy="-3.6">2</tspan></text>
<text x="664.8" y="355.3" font-size="8.7" text-anchor="middle" font-weight="normal" fill="#111111" stroke="#111111" stroke-width="0.22" >10<tspan font-size="6.96" dy="-3.6">3</tspan></text>
<text x="620.2" y="369.2" font-size="10.5" text-anchor="middle" font-weight="normal" fill="#111111" stroke="#111111" stroke-width="0.22" >Origin country sequencing</text>
<text x="620" y="379.5" font-size="10.5" text-anchor="middle" font-weight="normal" fill="#111111" stroke="#111111" stroke-width="0.22" >rate (S/M/wk)</text>
<text x="544.1" y="275.3" font-size="10.2" text-anchor="middle" font-weight="normal" fill="#111111" stroke="#111111" stroke-width="0.22" transform="rotate(-90 544.1 275.3)">Mean day of detection</text>
<text x="550" y="198.4" font-size="7.4" text-anchor="start" font-weight="normal" fill="#111111" stroke="#111111" stroke-width="0.22" >Variant <tspan font-style="italic">R</tspan><tspan font-style="italic" font-size="5.6" dy="1.4">e</tspan></text>
<rect x="587.1" y="194.4" width="6.9" height="2.6" fill="#3B7DB8" stroke="none" stroke-width="0" />
<text x="596.4" y="199.1" font-size="8.7" text-anchor="start" font-weight="normal" fill="#111111" stroke="#111111" stroke-width="0.22" >1.2</text>
<rect x="612.4" y="194.4" width="6.9" height="2.6" fill="#A9D3EA" stroke="none" stroke-width="0" />
<text x="621.7" y="199.1" font-size="8.7" text-anchor="start" font-weight="normal" fill="#111111" stroke="#111111" stroke-width="0.22" >1.3</text>
<rect x="637" y="194.4" width="6.9" height="2.6" fill="#FBB36E" stroke="none" stroke-width="0" />
<text x="646.3" y="199.1" font-size="8.7" text-anchor="start" font-weight="normal" fill="#111111" stroke="#111111" stroke-width="0.22" >1.6</text>
<rect x="662.3" y="194.4" width="6.9" height="2.6" fill="#D62728" stroke="none" stroke-width="0" />
<text x="671.6" y="199.1" font-size="8.7" text-anchor="start" font-weight="normal" fill="#111111" stroke="#111111" stroke-width="0.22" >2</text>
</svg></body></html>
